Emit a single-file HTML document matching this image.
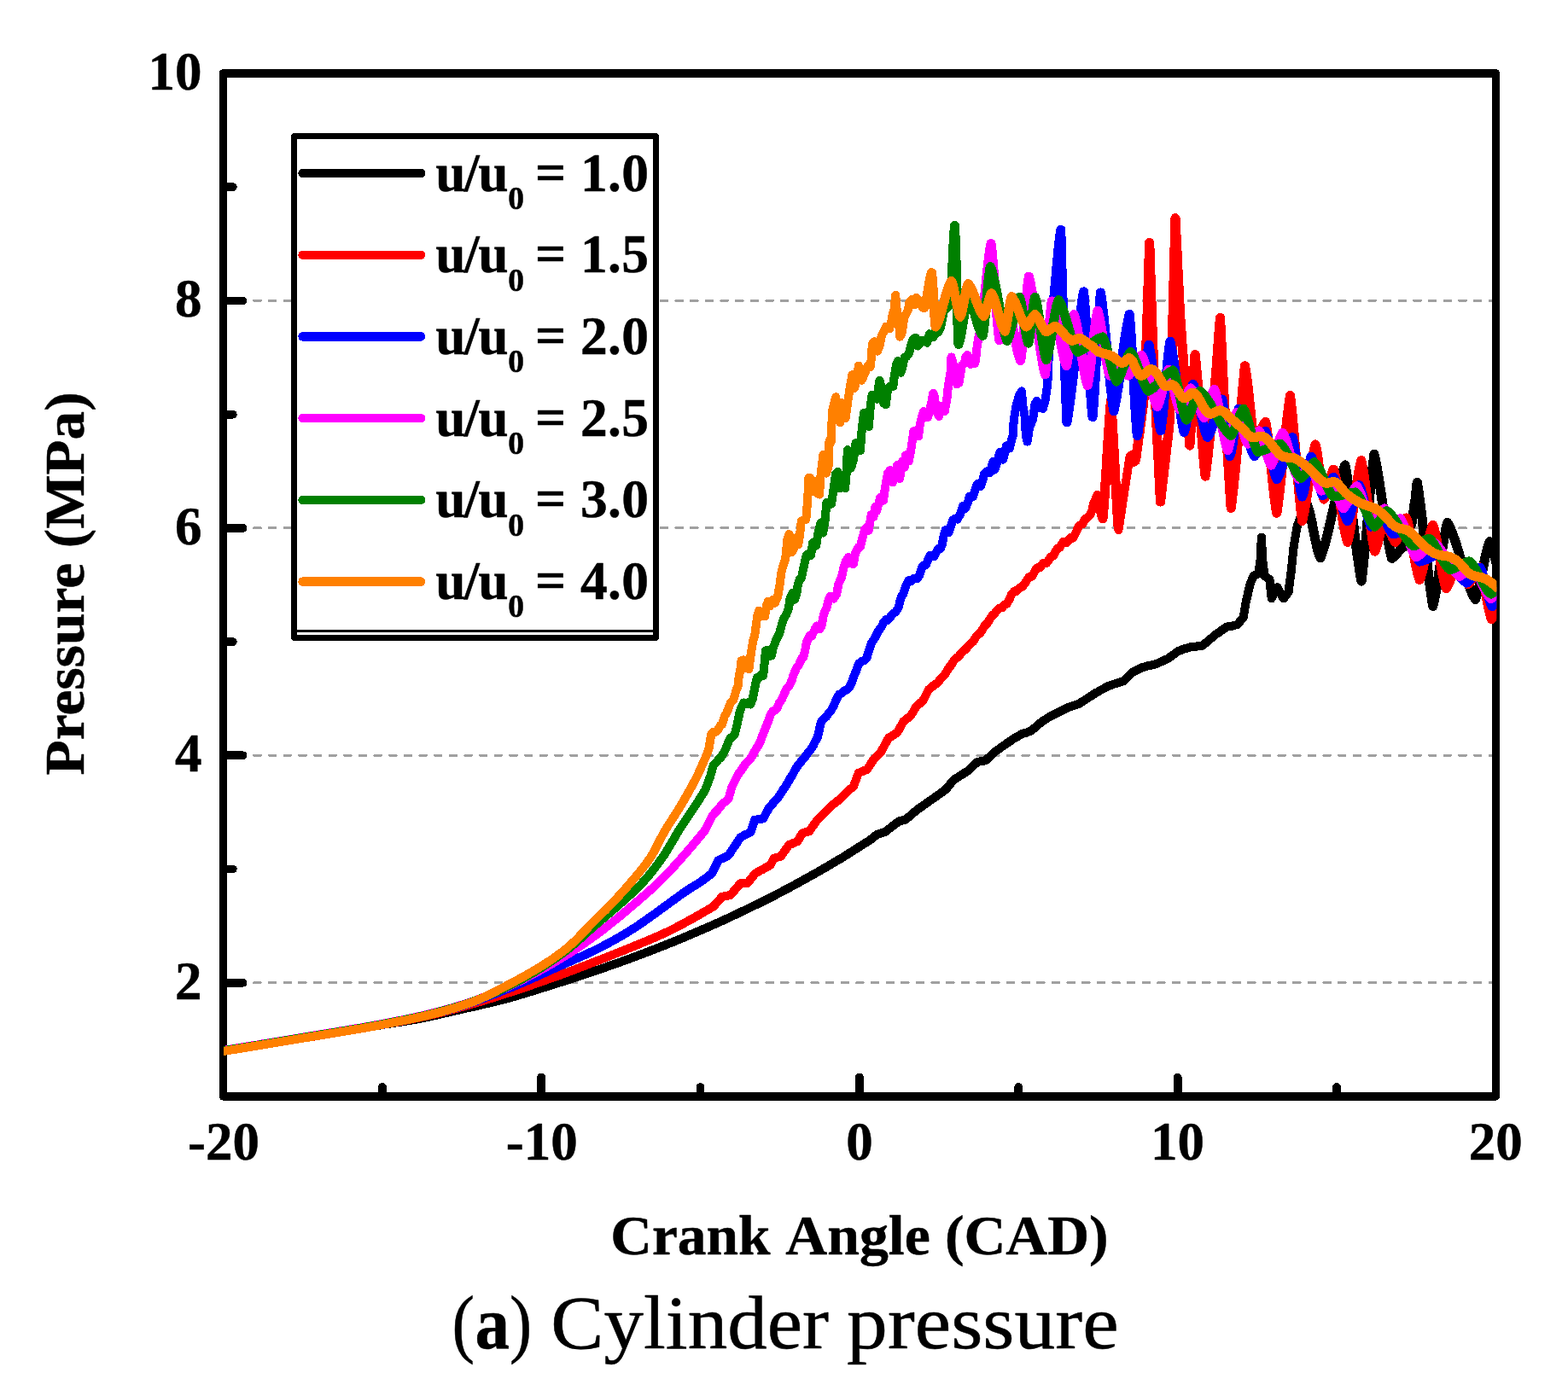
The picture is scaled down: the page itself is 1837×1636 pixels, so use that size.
<!DOCTYPE html>
<html lang="en"><head><meta charset="utf-8"><title>Cylinder pressure</title>
<style>html,body{margin:0;padding:0;background:#fff}body{width:1837px;height:1636px;overflow:hidden}svg{display:block}text{font-family:"Liberation Serif","DejaVu Serif",serif;fill:#000;stroke:#000;stroke-width:0.5px;stroke-linejoin:round}.b{font-weight:bold}.tk{font-size:63px;font-weight:bold}.ax{font-size:66.5px;font-weight:bold}.lg{font-size:63px;font-weight:bold}</style></head><body>
<svg width="1837" height="1636" viewBox="0 0 1837 1636" shape-rendering="crispEdges">
<rect width="1837" height="1636" fill="#fff"/>
<defs><clipPath id="pa"><rect x="262.0" y="86.0" width="1491.2" height="1198.9"/></clipPath></defs>
<g stroke="#a0a0a0" stroke-width="3.2" stroke-dasharray="7.4 10.25" stroke-linecap="round" fill="none">
<line x1="297.8" y1="1151.6" x2="1752.3" y2="1151.6"/>
<line x1="297.8" y1="885.2" x2="1752.3" y2="885.2"/>
<line x1="297.8" y1="618.7" x2="1752.3" y2="618.7"/>
<line x1="297.8" y1="352.3" x2="1752.3" y2="352.3"/>
</g>
<rect x="261.5" y="86.0" width="1490.8" height="1198.9" fill="none" stroke="#000" stroke-width="9.6" stroke-linejoin="round"/>
<g stroke="#000" stroke-width="9.8" stroke-linecap="round" fill="none">
<line x1="261.5" y1="1151.7" x2="284.6" y2="1151.7"/>
<line x1="261.5" y1="885.3" x2="284.6" y2="885.3"/>
<line x1="261.5" y1="618.8" x2="284.6" y2="618.8"/>
<line x1="261.5" y1="352.4" x2="284.6" y2="352.4"/>
<line x1="261.5" y1="1018.5" x2="272.8" y2="1018.5"/>
<line x1="261.5" y1="752.1" x2="272.8" y2="752.1"/>
<line x1="261.5" y1="485.6" x2="272.8" y2="485.6"/>
<line x1="261.5" y1="219.2" x2="272.8" y2="219.2"/>
<line x1="634.2" y1="1284.9" x2="634.2" y2="1262.4"/>
<line x1="1006.9" y1="1284.9" x2="1006.9" y2="1262.4"/>
<line x1="1379.6" y1="1284.9" x2="1379.6" y2="1262.4"/>
<line x1="447.9" y1="1284.9" x2="447.9" y2="1274.0"/>
<line x1="820.5" y1="1284.9" x2="820.5" y2="1274.0"/>
<line x1="1193.2" y1="1284.9" x2="1193.2" y2="1274.0"/>
<line x1="1566.0" y1="1284.9" x2="1566.0" y2="1274.0"/>
</g>
<g clip-path="url(#pa)" fill="none" stroke-width="10.1" stroke-linejoin="round" stroke-linecap="butt" shape-rendering="crispEdges">
<path stroke="#000000" d="M261.5,1232.0 L265.5,1231.3 L269.5,1230.7 L273.6,1230.0 L277.6,1229.4 L281.6,1228.7 L285.6,1228.1 L289.7,1227.4 L293.7,1226.7 L297.7,1226.1 L301.7,1225.4 L305.8,1224.7 L309.8,1224.1 L313.8,1223.4 L317.8,1222.8 L321.9,1222.1 L325.9,1221.4 L329.9,1220.8 L333.9,1220.1 L338.0,1219.4 L342.0,1218.8 L346.0,1218.1 L350.0,1217.4 L354.1,1216.8 L358.1,1216.1 L362.1,1215.4 L366.1,1214.7 L370.2,1214.1 L374.2,1213.4 L378.2,1212.7 L382.2,1212.0 L386.2,1211.3 L390.3,1210.7 L394.3,1210.0 L398.3,1209.3 L402.3,1208.6 L406.4,1207.9 L410.4,1207.3 L414.4,1206.6 L418.4,1205.9 L422.5,1205.2 L426.5,1204.6 L430.5,1203.9 L434.5,1203.2 L438.6,1202.5 L442.6,1201.9 L446.6,1201.2 L450.6,1200.5 L454.7,1199.9 L458.7,1199.3 L462.7,1198.6 L466.7,1198.0 L470.8,1197.4 L474.8,1196.8 L478.8,1196.1 L482.8,1195.4 L486.9,1194.7 L490.9,1194.0 L494.9,1193.2 L498.9,1192.3 L503.0,1191.5 L507.0,1190.6 L511.0,1189.7 L515.0,1188.8 L519.0,1187.9 L523.1,1186.9 L527.1,1186.0 L531.1,1185.1 L535.1,1184.1 L539.2,1183.2 L543.2,1182.3 L547.2,1181.4 L551.2,1180.5 L555.3,1179.6 L559.3,1178.7 L563.3,1177.8 L567.3,1176.8 L571.4,1175.9 L575.4,1174.9 L579.4,1174.0 L583.4,1173.0 L587.5,1172.0 L591.5,1170.9 L595.5,1169.9 L599.5,1168.7 L603.6,1167.6 L607.6,1166.4 L611.6,1165.2 L615.6,1164.0 L619.7,1162.7 L623.7,1161.5 L627.7,1160.2 L631.7,1159.0 L635.8,1157.7 L639.8,1156.5 L643.8,1155.2 L647.8,1154.0 L651.8,1152.7 L655.9,1151.4 L659.9,1150.1 L663.9,1148.8 L667.9,1147.5 L672.0,1146.2 L676.0,1144.9 L680.0,1143.5 L684.0,1142.2 L688.1,1140.9 L692.1,1139.5 L696.1,1138.1 L700.1,1136.8 L704.2,1135.4 L708.2,1134.0 L712.2,1132.6 L716.2,1131.2 L720.3,1129.7 L724.3,1128.3 L728.3,1126.9 L732.3,1125.4 L736.4,1124.0 L740.4,1122.5 L744.4,1121.0 L748.4,1119.5 L752.5,1118.0 L756.5,1116.4 L760.5,1114.9 L764.5,1113.4 L768.5,1111.8 L772.6,1110.2 L776.6,1108.7 L780.6,1107.1 L784.6,1105.4 L788.7,1103.8 L792.7,1102.1 L796.7,1100.5 L800.7,1098.8 L804.8,1097.1 L808.8,1095.4 L812.8,1093.7 L816.8,1092.0 L820.9,1090.2 L824.9,1088.5 L828.9,1086.7 L832.9,1085.0 L837.0,1083.2 L841.0,1081.4 L845.0,1079.6 L849.0,1077.7 L853.1,1075.9 L857.1,1074.0 L861.1,1072.1 L865.1,1070.2 L869.2,1068.3 L873.2,1066.4 L877.2,1064.5 L881.2,1062.5 L885.2,1060.5 L889.3,1058.6 L893.3,1056.6 L897.3,1054.6 L901.3,1052.5 L905.4,1050.5 L909.4,1048.4 L913.4,1046.3 L917.4,1044.2 L921.5,1042.1 L925.5,1039.9 L929.5,1037.8 L933.5,1035.6 L937.6,1033.3 L941.6,1031.1 L945.6,1028.9 L949.6,1026.6 L953.7,1024.4 L957.7,1022.1 L961.7,1019.8 L965.7,1017.5 L969.8,1015.2 L973.8,1012.8 L977.8,1010.4 L981.8,1008.0 L985.9,1005.6 L989.9,1003.1 L993.9,1000.6 L997.9,998.0 L1002.0,995.5 L1006.0,992.9 L1010.0,990.3 L1019.6,984.3 L1021.3,982.9 L1025.0,980.0 L1027.4,978.0 L1031.3,976.7 L1034.3,975.8 L1037.2,974.8 L1039.4,973.0 L1043.6,969.9 L1046.6,967.5 L1049.9,965.0 L1052.9,962.6 L1054.8,962.1 L1059.0,961.1 L1060.7,960.7 L1063.2,958.5 L1065.7,956.5 L1069.8,952.9 L1072.2,950.9 L1074.5,948.9 L1077.5,946.8 L1080.2,945.0 L1084.1,942.2 L1087.6,939.8 L1091.9,936.7 L1094.1,935.2 L1096.5,933.5 L1099.4,931.4 L1102.7,929.1 L1105.5,927.0 L1107.8,925.4 L1110.6,922.2 L1114.0,917.9 L1117.6,913.7 L1120.1,912.2 L1123.9,909.7 L1127.0,907.8 L1130.0,905.9 L1133.3,903.9 L1135.8,901.6 L1139.9,897.7 L1141.7,896.1 L1145.0,893.1 L1148.1,892.4 L1152.8,891.6 L1154.8,891.1 L1157.9,888.2 L1161.3,885.2 L1163.7,882.8 L1166.6,880.3 L1169.7,878.2 L1172.2,876.3 L1176.1,873.7 L1179.4,871.3 L1183.4,868.6 L1186.2,866.6 L1189.7,864.4 L1193.0,862.6 L1196.0,860.7 L1199.2,859.5 L1202.4,858.7 L1204.4,857.8 L1207.7,856.8 L1209.6,855.2 L1213.5,851.8 L1215.5,850.2 L1218.5,847.5 L1221.4,845.1 L1225.0,843.1 L1228.5,840.7 L1231.2,839.2 L1234.4,837.7 L1236.6,836.4 L1240.9,834.4 L1244.6,832.4 L1248.7,830.6 L1250.8,829.4 L1252.5,828.7 L1256.4,827.5 L1258.8,826.4 L1261.7,825.6 L1264.5,824.5 L1267.8,822.3 L1270.8,820.6 L1275.1,817.5 L1277.3,816.4 L1282.2,813.0 L1284.1,811.8 L1286.5,810.7 L1290.4,808.2 L1293.4,806.9 L1296.5,804.9 L1298.9,803.7 L1300.6,803.3 L1305.0,801.6 L1307.0,801.2 L1310.3,799.9 L1313.4,799.1 L1316.6,797.9 L1319.9,794.4 L1322.7,791.9 L1326.4,788.1 L1329.1,786.5 L1333.1,784.9 L1334.8,783.6 L1338.1,782.2 L1341.5,781.5 L1344.7,780.3 L1347.9,780.0 L1350.4,779.0 L1353.8,778.3 L1355.7,777.6 L1359.8,775.6 L1362.4,774.7 L1365.0,773.3 L1367.5,772.4 L1369.3,771.3 L1372.9,768.4 L1376.2,766.3 L1378.4,764.4 L1381.2,762.6 L1383.5,762.0 L1387.8,760.1 L1389.8,760.0 L1393.0,758.7 L1395.2,758.2 L1398.7,758.2 L1403.3,757.2 L1406.3,757.3 L1408.7,756.7 L1411.4,754.3 L1414.4,752.2 L1417.2,749.2 L1420.4,747.0 L1422.4,745.0 L1424.9,743.0 L1428.4,741.0 L1430.7,738.8 L1433.1,737.7 L1436.1,735.2 L1439.5,734.1 L1443.2,733.8 L1446.1,732.7 L1449.3,732.2 L1451.7,729.6 L1455.1,725.1 L1456.7,723.4 L1459.6,705.8 L1461.7,696.9 L1464.0,686.7 L1466.5,679.6 L1468.4,675.0 L1471.6,673.7 L1474.3,672.0 L1476.5,657.4 L1477.3,640.6 L1477.9,629.8 L1478.8,647.2 L1479.4,657.4 L1481.6,675.0 L1484.1,676.5 L1487.5,679.4 L1488.7,691.7 L1489.7,701.4 L1493.8,692.9 L1496.3,688.2 L1499.1,693.7 L1500.8,696.0 L1503.6,701.4 L1506.2,698.6 L1509.5,694.0 L1511.0,682.3 L1512.4,672.0 L1514.3,653.8 L1515.4,642.7 L1517.7,628.4 L1519.8,616.3 L1521.8,611.1 L1525.6,598.7 L1526.3,597.9 L1527.1,596.6 L1527.8,595.1 L1528.6,593.5 L1529.3,592.0 L1530.1,590.7 L1530.8,589.9 L1531.5,591.5 L1532.2,593.3 L1532.9,595.4 L1533.6,597.8 L1534.3,600.5 L1535.0,603.4 L1535.7,606.4 L1536.4,609.7 L1537.1,613.0 L1537.8,616.5 L1538.5,620.0 L1539.2,623.6 L1539.9,627.1 L1540.6,630.6 L1541.3,633.9 L1542.0,637.2 L1542.7,640.2 L1543.4,643.1 L1544.1,645.8 L1544.8,648.2 L1545.5,650.3 L1546.2,652.1 L1546.9,653.7 L1547.6,651.9 L1548.3,650.0 L1549.0,648.0 L1549.7,645.9 L1550.4,643.7 L1551.1,641.4 L1551.9,638.9 L1552.6,636.4 L1553.3,633.8 L1554.0,631.1 L1554.7,628.4 L1555.4,625.5 L1556.1,622.6 L1556.8,619.6 L1557.5,616.6 L1558.2,613.5 L1558.9,610.4 L1559.6,607.3 L1560.3,604.1 L1561.0,600.9 L1561.8,597.8 L1562.5,594.6 L1563.2,591.4 L1563.9,588.3 L1564.6,585.2 L1565.3,582.1 L1566.0,579.1 L1566.7,576.1 L1567.4,573.2 L1568.1,570.3 L1568.8,567.6 L1569.5,564.9 L1570.2,562.3 L1570.9,559.8 L1571.7,557.3 L1572.4,555.0 L1573.1,552.8 L1573.8,550.7 L1574.5,548.7 L1575.2,546.8 L1575.9,545.0 L1576.6,548.8 L1577.3,552.9 L1578.0,557.2 L1578.7,561.7 L1579.4,566.5 L1580.1,571.4 L1580.9,576.6 L1581.6,581.9 L1582.3,587.3 L1583.0,592.9 L1583.7,598.6 L1584.4,604.3 L1585.1,610.1 L1585.8,615.9 L1586.5,621.7 L1587.2,627.4 L1587.9,633.1 L1588.6,638.7 L1589.3,644.1 L1590.0,649.4 L1590.8,654.6 L1591.5,659.5 L1592.2,664.3 L1592.9,668.8 L1593.6,673.1 L1594.3,677.2 L1595.0,681.0 L1595.7,675.3 L1596.4,669.3 L1597.1,662.9 L1597.8,656.2 L1598.5,649.1 L1599.3,641.8 L1600.0,634.3 L1600.7,626.6 L1601.4,618.7 L1602.1,610.7 L1602.8,602.8 L1603.5,594.8 L1604.2,586.9 L1604.9,579.2 L1605.6,571.7 L1606.4,564.4 L1607.1,557.3 L1607.8,550.6 L1608.5,544.2 L1609.2,538.2 L1609.9,532.5 L1610.6,535.5 L1611.3,538.8 L1612.0,542.2 L1612.7,545.9 L1613.5,549.7 L1614.2,553.8 L1614.9,558.0 L1615.6,562.4 L1616.3,566.9 L1617.0,571.5 L1617.7,576.3 L1618.4,581.1 L1619.1,586.0 L1619.8,590.9 L1620.6,595.9 L1621.3,600.8 L1622.0,605.7 L1622.7,610.5 L1623.4,615.3 L1624.1,619.9 L1624.8,624.4 L1625.5,628.8 L1626.2,633.0 L1626.9,637.1 L1627.7,640.9 L1628.4,644.6 L1629.1,648.0 L1629.8,651.3 L1630.5,654.3 L1631.2,653.9 L1631.9,653.5 L1632.6,652.9 L1633.3,652.3 L1634.0,651.6 L1634.8,650.9 L1635.5,650.1 L1636.2,649.3 L1636.9,648.5 L1637.6,647.6 L1638.3,646.7 L1639.0,645.9 L1639.7,645.1 L1640.4,644.3 L1641.2,643.6 L1641.9,642.9 L1642.6,642.3 L1643.3,641.7 L1644.0,641.3 L1644.7,640.9 L1645.4,639.7 L1646.1,638.1 L1646.8,636.1 L1647.5,633.9 L1648.2,631.4 L1648.9,628.8 L1649.7,626.1 L1650.4,623.5 L1651.1,621.0 L1651.8,618.8 L1652.5,616.8 L1653.2,615.2 L1653.9,614.0 L1654.5,611.0 L1655.1,606.5 L1655.8,601.2 L1656.4,595.9 L1657.0,591.4 L1657.6,588.4 L1658.0,585.7 L1658.5,581.7 L1658.9,576.9 L1659.4,572.1 L1659.8,568.1 L1660.3,565.4 L1661.0,569.8 L1661.7,574.4 L1662.4,579.3 L1663.1,584.4 L1663.8,589.7 L1664.5,595.2 L1665.3,601.0 L1666.0,606.8 L1666.7,612.9 L1667.4,619.0 L1668.1,625.2 L1668.8,631.5 L1669.5,637.8 L1670.2,644.2 L1670.9,650.5 L1671.6,656.7 L1672.3,662.8 L1673.0,668.9 L1673.7,674.7 L1674.5,680.5 L1675.2,686.0 L1675.9,691.3 L1676.6,696.4 L1677.3,701.3 L1678.0,705.9 L1678.7,710.3 L1679.4,707.6 L1680.1,704.6 L1680.8,701.3 L1681.5,697.7 L1682.2,693.9 L1683.0,689.7 L1683.7,685.4 L1684.4,680.8 L1685.1,676.1 L1685.8,671.3 L1686.5,666.4 L1687.2,661.4 L1687.9,656.4 L1688.6,651.5 L1689.3,646.7 L1690.0,642.0 L1690.7,637.4 L1691.5,633.1 L1692.2,628.9 L1692.9,625.1 L1693.6,621.5 L1694.3,618.2 L1695.0,615.2 L1695.7,612.5 L1696.4,613.7 L1697.1,615.0 L1697.8,616.4 L1698.5,617.8 L1699.3,619.4 L1700.0,621.0 L1700.7,622.7 L1701.4,624.5 L1702.1,626.3 L1702.8,628.2 L1703.5,630.2 L1704.2,632.2 L1704.9,634.3 L1705.7,636.5 L1706.4,638.7 L1707.1,641.0 L1707.8,643.2 L1708.5,645.6 L1709.2,647.9 L1709.9,650.3 L1710.6,652.7 L1711.3,655.1 L1712.1,657.5 L1712.8,659.9 L1713.5,662.3 L1714.2,664.7 L1714.9,667.1 L1715.6,669.4 L1716.3,671.8 L1717.0,674.0 L1717.7,676.3 L1718.4,678.5 L1719.2,680.7 L1719.9,682.8 L1720.6,684.8 L1721.3,686.8 L1722.0,688.7 L1722.7,690.5 L1723.4,692.3 L1724.1,694.0 L1724.8,695.6 L1725.6,697.2 L1726.3,698.6 L1727.0,700.0 L1727.7,701.3 L1728.4,702.5 L1729.1,700.9 L1729.8,699.0 L1730.5,696.8 L1731.2,694.4 L1731.9,691.8 L1732.7,688.9 L1733.4,685.8 L1734.1,682.6 L1734.8,679.2 L1735.5,675.7 L1736.2,672.2 L1736.9,668.6 L1737.6,665.0 L1738.3,661.5 L1739.0,658.0 L1739.7,654.6 L1740.4,651.4 L1741.2,648.3 L1741.9,645.4 L1742.6,642.8 L1743.3,640.4 L1744.0,638.2 L1744.7,636.3 L1745.4,634.7 L1746.1,636.0 L1746.8,637.6 L1747.5,639.6 L1748.2,641.9 L1748.9,644.4 L1749.6,647.1 L1750.3,649.9 L1751.1,652.8 L1751.8,655.6 L1752.5,658.3 L1753.2,660.8 L1753.9,663.1 L1754.6,665.1 L1755.3,666.7 L1756.0,668.0"/>
<path stroke="#000000" stroke-width="11.2" d="M1525.6,598.7 L1526.3,597.9 L1527.1,596.6 L1527.8,595.1 L1528.6,593.5 L1529.3,592.0 L1530.1,590.7 L1530.8,589.9 L1531.5,591.5 L1532.2,593.3 L1532.9,595.4 L1533.6,597.8 L1534.3,600.5 L1535.0,603.4 L1535.7,606.4 L1536.4,609.7 L1537.1,613.0 L1537.8,616.5 L1538.5,620.0 L1539.2,623.6 L1539.9,627.1 L1540.6,630.6 L1541.3,633.9 L1542.0,637.2 L1542.7,640.2 L1543.4,643.1 L1544.1,645.8 L1544.8,648.2 L1545.5,650.3 L1546.2,652.1 L1546.9,653.7 L1547.6,651.9 L1548.3,650.0 L1549.0,648.0 L1549.7,645.9 L1550.4,643.7 L1551.1,641.4 L1551.9,638.9 L1552.6,636.4 L1553.3,633.8 L1554.0,631.1 L1554.7,628.4 L1555.4,625.5 L1556.1,622.6 L1556.8,619.6 L1557.5,616.6 L1558.2,613.5 L1558.9,610.4 L1559.6,607.3 L1560.3,604.1 L1561.0,600.9 L1561.8,597.8 L1562.5,594.6 L1563.2,591.4 L1563.9,588.3 L1564.6,585.2 L1565.3,582.1 L1566.0,579.1 L1566.7,576.1 L1567.4,573.2 L1568.1,570.3 L1568.8,567.6 L1569.5,564.9 L1570.2,562.3 L1570.9,559.8 L1571.7,557.3 L1572.4,555.0 L1573.1,552.8 L1573.8,550.7 L1574.5,548.7 L1575.2,546.8 L1575.9,545.0 L1576.6,548.8 L1577.3,552.9 L1578.0,557.2 L1578.7,561.7 L1579.4,566.5 L1580.1,571.4 L1580.9,576.6 L1581.6,581.9 L1582.3,587.3 L1583.0,592.9 L1583.7,598.6 L1584.4,604.3 L1585.1,610.1 L1585.8,615.9 L1586.5,621.7 L1587.2,627.4 L1587.9,633.1 L1588.6,638.7 L1589.3,644.1 L1590.0,649.4 L1590.8,654.6 L1591.5,659.5 L1592.2,664.3 L1592.9,668.8 L1593.6,673.1 L1594.3,677.2 L1595.0,681.0 L1595.7,675.3 L1596.4,669.3 L1597.1,662.9 L1597.8,656.2 L1598.5,649.1 L1599.3,641.8 L1600.0,634.3 L1600.7,626.6 L1601.4,618.7 L1602.1,610.7 L1602.8,602.8 L1603.5,594.8 L1604.2,586.9 L1604.9,579.2 L1605.6,571.7 L1606.4,564.4 L1607.1,557.3 L1607.8,550.6 L1608.5,544.2 L1609.2,538.2 L1609.9,532.5 L1610.6,535.5 L1611.3,538.8 L1612.0,542.2 L1612.7,545.9 L1613.5,549.7 L1614.2,553.8 L1614.9,558.0 L1615.6,562.4 L1616.3,566.9 L1617.0,571.5 L1617.7,576.3 L1618.4,581.1 L1619.1,586.0 L1619.8,590.9 L1620.6,595.9 L1621.3,600.8 L1622.0,605.7 L1622.7,610.5 L1623.4,615.3 L1624.1,619.9 L1624.8,624.4 L1625.5,628.8 L1626.2,633.0 L1626.9,637.1 L1627.7,640.9 L1628.4,644.6 L1629.1,648.0 L1629.8,651.3 L1630.5,654.3 L1631.2,653.9 L1631.9,653.5 L1632.6,652.9 L1633.3,652.3 L1634.0,651.6 L1634.8,650.9 L1635.5,650.1 L1636.2,649.3 L1636.9,648.5 L1637.6,647.6 L1638.3,646.7 L1639.0,645.9 L1639.7,645.1 L1640.4,644.3 L1641.2,643.6 L1641.9,642.9 L1642.6,642.3 L1643.3,641.7 L1644.0,641.3 L1644.7,640.9 L1645.4,639.7 L1646.1,638.1 L1646.8,636.1 L1647.5,633.9 L1648.2,631.4 L1648.9,628.8 L1649.7,626.1 L1650.4,623.5 L1651.1,621.0 L1651.8,618.8 L1652.5,616.8 L1653.2,615.2 L1653.9,614.0 L1654.5,611.0 L1655.1,606.5 L1655.8,601.2 L1656.4,595.9 L1657.0,591.4 L1657.6,588.4 L1658.0,585.7 L1658.5,581.7 L1658.9,576.9 L1659.4,572.1 L1659.8,568.1 L1660.3,565.4 L1661.0,569.8 L1661.7,574.4 L1662.4,579.3 L1663.1,584.4 L1663.8,589.7 L1664.5,595.2 L1665.3,601.0 L1666.0,606.8 L1666.7,612.9 L1667.4,619.0 L1668.1,625.2 L1668.8,631.5 L1669.5,637.8 L1670.2,644.2 L1670.9,650.5 L1671.6,656.7 L1672.3,662.8 L1673.0,668.9 L1673.7,674.7 L1674.5,680.5 L1675.2,686.0 L1675.9,691.3 L1676.6,696.4 L1677.3,701.3 L1678.0,705.9 L1678.7,710.3 L1679.4,707.6 L1680.1,704.6 L1680.8,701.3 L1681.5,697.7 L1682.2,693.9 L1683.0,689.7 L1683.7,685.4 L1684.4,680.8 L1685.1,676.1 L1685.8,671.3 L1686.5,666.4 L1687.2,661.4 L1687.9,656.4 L1688.6,651.5 L1689.3,646.7 L1690.0,642.0 L1690.7,637.4 L1691.5,633.1 L1692.2,628.9 L1692.9,625.1 L1693.6,621.5 L1694.3,618.2 L1695.0,615.2 L1695.7,612.5 L1696.4,613.7 L1697.1,615.0 L1697.8,616.4 L1698.5,617.8 L1699.3,619.4 L1700.0,621.0 L1700.7,622.7 L1701.4,624.5 L1702.1,626.3 L1702.8,628.2 L1703.5,630.2 L1704.2,632.2 L1704.9,634.3 L1705.7,636.5 L1706.4,638.7 L1707.1,641.0 L1707.8,643.2 L1708.5,645.6 L1709.2,647.9 L1709.9,650.3 L1710.6,652.7 L1711.3,655.1 L1712.1,657.5 L1712.8,659.9 L1713.5,662.3 L1714.2,664.7 L1714.9,667.1 L1715.6,669.4 L1716.3,671.8 L1717.0,674.0 L1717.7,676.3 L1718.4,678.5 L1719.2,680.7 L1719.9,682.8 L1720.6,684.8 L1721.3,686.8 L1722.0,688.7 L1722.7,690.5 L1723.4,692.3 L1724.1,694.0 L1724.8,695.6 L1725.6,697.2 L1726.3,698.6 L1727.0,700.0 L1727.7,701.3 L1728.4,702.5 L1729.1,700.9 L1729.8,699.0 L1730.5,696.8 L1731.2,694.4 L1731.9,691.8 L1732.7,688.9 L1733.4,685.8 L1734.1,682.6 L1734.8,679.2 L1735.5,675.7 L1736.2,672.2 L1736.9,668.6 L1737.6,665.0 L1738.3,661.5 L1739.0,658.0 L1739.7,654.6 L1740.4,651.4 L1741.2,648.3 L1741.9,645.4 L1742.6,642.8 L1743.3,640.4 L1744.0,638.2 L1744.7,636.3 L1745.4,634.7 L1746.1,636.0 L1746.8,637.6 L1747.5,639.6 L1748.2,641.9 L1748.9,644.4 L1749.6,647.1 L1750.3,649.9 L1751.1,652.8 L1751.8,655.6 L1752.5,658.3 L1753.2,660.8 L1753.9,663.1 L1754.6,665.1 L1755.3,666.7 L1756.0,668.0"/>
<path stroke="#ff0000" d="M261.5,1232.0 L265.5,1231.3 L269.6,1230.7 L273.6,1230.0 L277.7,1229.4 L281.7,1228.7 L285.8,1228.0 L289.8,1227.4 L293.9,1226.7 L297.9,1226.1 L302.0,1225.4 L306.0,1224.7 L310.1,1224.1 L314.1,1223.4 L318.2,1222.7 L322.2,1222.1 L326.3,1221.4 L330.3,1220.7 L334.3,1220.0 L338.4,1219.4 L342.4,1218.7 L346.5,1218.0 L350.5,1217.3 L354.6,1216.7 L358.6,1216.0 L362.7,1215.3 L366.7,1214.7 L370.8,1214.0 L374.8,1213.3 L378.9,1212.7 L382.9,1212.0 L387.0,1211.3 L391.0,1210.6 L395.1,1210.0 L399.1,1209.3 L403.2,1208.6 L407.2,1207.9 L411.2,1207.3 L415.3,1206.6 L419.3,1205.9 L423.4,1205.2 L427.4,1204.5 L431.5,1203.8 L435.5,1203.1 L439.6,1202.3 L443.6,1201.6 L447.7,1200.9 L451.7,1200.1 L455.8,1199.4 L459.8,1198.6 L463.9,1197.9 L467.9,1197.1 L472.0,1196.4 L476.0,1195.6 L480.0,1194.8 L484.1,1194.0 L488.1,1193.1 L492.2,1192.3 L496.2,1191.4 L500.3,1190.5 L504.3,1189.6 L508.4,1188.6 L512.4,1187.7 L516.5,1186.6 L520.5,1185.6 L524.6,1184.5 L528.6,1183.4 L532.7,1182.4 L536.7,1181.3 L540.8,1180.1 L544.8,1179.0 L548.9,1177.8 L552.9,1176.7 L556.9,1175.5 L561.0,1174.3 L565.0,1173.1 L569.1,1171.8 L573.1,1170.6 L577.2,1169.4 L581.2,1168.1 L585.3,1166.8 L589.3,1165.5 L593.4,1164.2 L597.4,1162.9 L601.5,1161.6 L605.5,1160.3 L609.6,1159.0 L613.6,1157.6 L617.7,1156.2 L621.7,1154.8 L625.7,1153.4 L629.8,1152.0 L633.8,1150.6 L637.9,1149.2 L641.9,1147.7 L646.0,1146.3 L650.0,1144.8 L654.1,1143.4 L658.1,1141.9 L662.2,1140.4 L666.2,1138.9 L670.3,1137.4 L674.3,1135.9 L678.4,1134.3 L682.4,1132.7 L686.5,1131.2 L690.5,1129.6 L694.5,1128.0 L698.6,1126.4 L702.6,1124.9 L706.7,1123.3 L710.7,1121.7 L714.8,1120.1 L718.8,1118.5 L722.9,1116.9 L726.9,1115.3 L731.0,1113.7 L735.0,1112.0 L739.1,1110.4 L743.1,1108.7 L747.2,1107.1 L751.2,1105.4 L755.3,1103.7 L759.3,1102.0 L763.4,1100.3 L767.4,1098.6 L771.4,1096.8 L775.5,1095.0 L779.5,1093.1 L783.6,1091.2 L787.6,1089.2 L791.7,1087.1 L795.7,1085.0 L799.8,1082.8 L803.8,1080.6 L807.9,1078.4 L811.9,1076.2 L816.0,1073.9 L820.0,1071.6 L824.1,1069.2 L828.1,1066.9 L832.2,1064.4 L836.2,1062.0 L846.0,1050.8 L849.1,1050.1 L853.1,1049.5 L855.8,1048.9 L859.1,1045.0 L860.9,1043.0 L864.8,1038.3 L867.5,1035.2 L870.5,1035.3 L873.6,1035.1 L875.4,1035.2 L878.0,1032.1 L881.8,1027.4 L885.2,1023.4 L887.4,1022.2 L890.5,1020.3 L893.5,1018.9 L896.6,1016.9 L900.4,1015.0 L902.8,1013.6 L905.3,1008.5 L906.7,1005.8 L909.4,1005.2 L911.6,1004.5 L914.6,1003.8 L916.9,1000.7 L920.6,995.4 L924.4,990.1 L928.2,988.6 L931.2,987.3 L934.1,986.2 L936.5,982.4 L940.0,976.4 L943.1,975.5 L944.7,975.3 L947.9,974.4 L950.0,971.4 L954.8,964.8 L957.7,960.7 L960.9,957.4 L963.6,954.9 L967.9,950.3 L971.1,947.3 L973.3,945.0 L975.8,942.9 L980.2,939.7 L983.1,937.2 L985.5,934.7 L989.7,930.7 L992.9,927.4 L994.6,925.9 L997.3,923.8 L1000.0,921.5 L1003.8,911.3 L1005.9,905.8 L1009.6,904.4 L1011.9,903.3 L1015.7,901.9 L1017.3,899.6 L1020.4,894.7 L1023.5,890.1 L1025.3,888.4 L1029.7,883.8 L1031.4,882.3 L1034.6,876.7 L1037.5,871.1 L1041.2,864.7 L1045.0,862.6 L1048.2,860.3 L1051.0,858.8 L1053.7,854.2 L1056.5,848.9 L1058.8,845.1 L1061.5,843.2 L1064.8,840.4 L1066.6,839.2 L1070.2,833.6 L1072.5,829.4 L1074.8,826.8 L1080.0,822.3 L1082.3,819.6 L1086.2,811.6 L1088.2,807.8 L1090.1,806.6 L1093.7,803.4 L1096.0,802.0 L1098.6,799.7 L1102.4,795.2 L1105.7,792.0 L1108.2,788.6 L1111.5,782.7 L1114.4,779.4 L1117.5,774.3 L1120.1,771.3 L1122.9,769.6 L1125.3,766.5 L1127.6,763.6 L1131.8,760.5 L1135.4,755.8 L1137.1,754.7 L1140.0,751.9 L1143.8,745.9 L1146.9,743.0 L1149.2,740.7 L1153.4,733.5 L1156.9,730.3 L1159.8,725.4 L1162.6,721.1 L1165.0,719.5 L1167.6,715.6 L1170.9,712.8 L1174.2,712.2 L1176.4,709.0 L1179.4,707.7 L1182.5,702.6 L1185.3,696.0 L1188.6,692.5 L1190.8,693.0 L1194.5,688.8 L1197.0,688.1 L1200.3,684.5 L1202.9,680.3 L1205.5,676.3 L1209.0,675.6 L1210.7,672.4 L1214.5,665.8 L1216.6,664.6 L1218.4,665.0 L1222.1,659.9 L1225.8,660.2 L1228.4,656.8 L1230.9,652.5 L1233.7,651.9 L1236.2,647.0 L1239.1,642.4 L1241.3,641.9 L1244.1,637.2 L1246.1,634.6 L1249.5,636.1 L1254.0,630.2 L1255.8,631.3 L1258.0,629.0 L1261.7,621.5 L1263.7,616.5 L1265.9,615.0 L1268.1,614.3 L1271.1,608.3 L1273.7,607.1 L1277.4,603.4 L1279.6,597.4 L1281.2,589.6 L1283.0,586.1 L1285.5,580.0 L1286.2,581.9 L1286.9,584.7 L1287.7,588.0 L1288.4,591.8 L1289.1,595.8 L1289.8,599.6 L1290.6,602.9 L1291.3,605.7 L1292.0,607.6 L1292.7,599.2 L1293.5,589.9 L1294.2,579.6 L1294.9,568.5 L1295.7,556.9 L1296.4,544.9 L1297.1,532.7 L1297.8,520.7 L1298.6,509.1 L1299.3,498.0 L1300.0,487.7 L1300.8,478.4 L1301.5,470.0 L1302.2,480.5 L1303.0,492.0 L1303.7,504.5 L1304.5,517.8 L1305.2,531.7 L1306.0,545.8 L1306.7,559.9 L1307.4,573.7 L1308.2,586.9 L1308.9,599.4 L1309.7,610.9 L1310.4,621.3 L1323.6,534.8 L1325.7,533.4 L1328.2,541.7 L1330.4,540.6 L1331.1,535.3 L1331.8,530.0 L1332.5,524.8 L1333.2,519.5 L1333.9,514.2 L1334.7,508.9 L1335.4,503.7 L1336.1,498.4 L1336.8,493.1 L1337.5,487.8 L1338.2,482.6 L1338.9,477.3 L1339.6,472.0 L1340.3,464.4 L1341.0,453.0 L1341.7,437.9 L1342.4,419.1 L1343.2,397.0 L1343.9,374.5 L1344.6,352.0 L1345.3,329.5 L1346.0,307.0 L1346.7,284.5 L1347.4,306.3 L1348.1,328.1 L1348.8,350.0 L1349.5,371.8 L1350.3,393.1 L1351.0,412.5 L1351.7,429.7 L1352.4,444.9 L1353.1,459.2 L1353.8,473.5 L1354.5,487.9 L1355.2,502.2 L1355.9,516.5 L1356.7,530.8 L1357.4,545.1 L1358.1,559.4 L1358.8,573.7 L1359.5,588.0 L1360.2,582.0 L1360.9,575.9 L1361.6,569.9 L1362.3,563.8 L1363.0,557.8 L1363.7,551.8 L1364.4,545.7 L1365.1,539.7 L1365.8,533.6 L1366.5,527.6 L1367.2,521.6 L1367.9,515.5 L1368.6,509.5 L1369.3,503.4 L1370.0,495.3 L1370.7,482.8 L1371.4,466.1 L1372.1,445.2 L1372.8,419.9 L1373.5,392.6 L1374.2,365.2 L1374.9,337.9 L1375.6,310.5 L1376.3,283.2 L1377.0,255.8 L1377.7,270.8 L1378.5,285.8 L1379.2,300.7 L1379.9,315.7 L1380.7,330.7 L1381.4,345.5 L1382.1,359.4 L1382.8,372.2 L1383.6,383.8 L1384.3,394.3 L1385.0,404.2 L1385.8,414.0 L1386.5,423.8 L1387.2,433.6 L1388.0,443.4 L1388.7,453.3 L1389.4,463.1 L1390.1,472.9 L1390.9,482.7 L1391.6,492.5 L1392.3,502.4 L1393.1,512.2 L1393.8,522.0 L1394.6,512.0 L1395.4,499.3 L1396.2,484.6 L1396.9,468.9 L1397.7,453.1 L1398.5,438.4 L1399.3,425.7 L1400.1,415.7 L1400.8,422.3 L1401.5,429.5 L1402.2,437.3 L1402.9,445.5 L1403.6,454.2 L1404.3,463.3 L1405.0,472.6 L1405.7,482.1 L1406.5,491.6 L1407.2,501.1 L1407.9,510.4 L1408.6,519.5 L1409.3,528.2 L1410.0,536.4 L1410.7,544.2 L1411.4,551.4 L1412.1,558.0 L1412.8,552.4 L1413.5,546.6 L1414.3,540.6 L1415.0,534.4 L1415.7,528.0 L1416.4,521.4 L1417.2,514.6 L1417.9,507.7 L1418.6,500.7 L1419.3,493.6 L1420.1,486.4 L1420.8,479.3 L1421.5,472.1 L1422.2,464.8 L1423.0,457.0 L1423.7,448.5 L1424.4,439.4 L1425.2,429.8 L1425.9,419.7 L1426.6,409.9 L1427.3,400.3 L1428.0,390.8 L1428.8,381.6 L1429.5,372.6 L1430.2,386.6 L1430.9,400.8 L1431.6,415.2 L1432.3,429.7 L1433.0,444.2 L1433.7,457.9 L1434.4,470.8 L1435.1,482.8 L1435.8,494.4 L1436.6,506.1 L1437.3,517.6 L1438.0,529.2 L1438.7,540.6 L1439.4,551.9 L1440.1,563.0 L1440.8,574.0 L1441.5,584.7 L1442.2,595.3 L1442.9,589.7 L1443.6,583.9 L1444.3,577.8 L1445.0,571.4 L1445.7,564.7 L1446.5,557.9 L1447.2,550.8 L1447.9,543.6 L1448.6,536.3 L1449.3,528.9 L1450.0,521.4 L1450.7,513.9 L1451.4,506.4 L1452.1,498.7 L1452.8,490.9 L1453.5,482.9 L1454.2,474.7 L1455.0,466.5 L1455.7,458.4 L1456.4,450.6 L1457.1,443.1 L1457.8,435.8 L1458.5,428.8 L1459.2,432.6 L1459.9,437.0 L1460.7,442.1 L1461.4,447.8 L1462.1,454.0 L1462.8,460.6 L1463.5,467.4 L1464.2,474.4 L1465.0,481.4 L1465.7,488.2 L1466.4,494.8 L1467.1,501.0 L1467.8,506.7 L1468.6,511.8 L1469.3,516.2 L1470.0,520.0 L1470.7,519.2 L1471.4,518.2 L1472.1,517.0 L1472.8,515.7 L1473.5,514.2 L1474.2,512.5 L1474.9,510.8 L1475.6,509.0 L1476.3,507.2 L1477.1,505.4 L1477.8,503.6 L1478.5,501.9 L1479.2,500.2 L1479.9,498.7 L1480.6,497.4 L1481.3,496.2 L1482.0,495.2 L1482.7,494.4 L1483.4,498.5 L1484.2,503.2 L1484.9,508.4 L1485.6,514.1 L1486.3,520.3 L1487.1,526.8 L1487.8,533.6 L1488.5,540.6 L1489.2,547.8 L1490.0,554.9 L1490.7,561.9 L1491.4,568.7 L1492.2,575.2 L1492.9,581.4 L1493.6,587.1 L1494.3,592.3 L1495.1,597.0 L1495.8,601.1 L1496.5,596.3 L1497.2,591.1 L1497.9,585.6 L1498.7,579.8 L1499.4,573.6 L1500.1,567.2 L1500.8,560.5 L1501.5,553.7 L1502.2,546.7 L1502.9,539.6 L1503.7,532.4 L1504.4,525.2 L1505.1,518.1 L1505.8,511.1 L1506.5,504.3 L1507.2,497.6 L1507.9,491.2 L1508.6,485.0 L1509.4,479.2 L1510.1,473.7 L1510.8,468.5 L1511.5,463.7 L1512.2,469.6 L1512.9,475.8 L1513.6,482.5 L1514.3,489.5 L1515.0,496.9 L1515.7,504.6 L1516.4,512.5 L1517.1,520.6 L1517.8,528.8 L1518.5,537.1 L1519.2,545.4 L1519.9,553.6 L1520.6,561.7 L1521.3,569.6 L1522.0,577.3 L1522.7,584.7 L1523.4,591.7 L1524.1,598.4 L1524.8,604.6 L1525.5,610.5 L1526.2,607.9 L1526.9,604.9 L1527.6,601.6 L1528.3,598.0 L1529.0,594.0 L1529.8,589.8 L1530.5,585.3 L1531.2,580.6 L1531.9,575.7 L1532.6,570.8 L1533.3,565.8 L1534.0,560.7 L1534.7,555.8 L1535.4,550.9 L1536.1,546.2 L1536.8,541.7 L1537.6,537.5 L1538.3,533.5 L1539.0,529.9 L1539.7,526.6 L1540.4,523.6 L1541.1,521.0 L1541.8,523.7 L1542.5,527.2 L1543.2,531.4 L1543.9,536.2 L1544.6,541.5 L1545.3,547.2 L1546.0,553.0 L1546.8,558.8 L1547.5,564.5 L1548.2,569.8 L1548.9,574.6 L1549.6,578.8 L1550.3,582.3 L1551.0,585.0 L1551.7,583.7 L1552.4,582.2 L1553.1,580.3 L1553.8,578.1 L1554.6,575.7 L1555.3,573.1 L1556.0,570.4 L1556.7,567.6 L1557.4,564.8 L1558.1,562.1 L1558.8,559.5 L1559.6,557.1 L1560.3,554.9 L1561.0,553.0 L1561.7,551.5 L1562.4,550.2 L1563.1,552.5 L1563.8,555.1 L1564.5,558.1 L1565.2,561.4 L1565.9,564.9 L1566.7,568.7 L1567.4,572.8 L1568.1,577.0 L1568.8,581.4 L1569.5,585.9 L1570.2,590.5 L1570.9,595.0 L1571.6,599.6 L1572.3,604.1 L1573.0,608.5 L1573.7,612.7 L1574.4,616.8 L1575.2,620.6 L1575.9,624.1 L1576.6,627.4 L1577.3,630.4 L1578.0,633.0 L1578.7,635.3 L1579.4,632.5 L1580.2,629.2 L1580.9,625.6 L1581.6,621.7 L1582.4,617.5 L1583.1,612.9 L1583.8,608.1 L1584.6,603.2 L1585.3,598.0 L1586.0,592.8 L1586.8,587.5 L1587.5,582.1 L1588.2,576.9 L1588.9,571.7 L1589.7,566.8 L1590.4,562.0 L1591.1,557.4 L1591.9,553.2 L1592.6,549.3 L1593.3,545.7 L1594.1,542.4 L1594.8,539.6 L1595.5,542.9 L1596.2,546.6 L1597.0,550.7 L1597.7,555.1 L1598.4,559.8 L1599.1,564.8 L1599.8,570.1 L1600.5,575.6 L1601.3,581.2 L1602.0,587.0 L1602.7,592.8 L1603.4,598.6 L1604.1,604.4 L1604.9,610.0 L1605.6,615.5 L1606.3,620.8 L1607.0,625.8 L1607.7,630.5 L1608.4,634.9 L1609.2,639.0 L1609.9,642.7 L1610.6,646.0 L1611.3,644.7 L1612.0,643.1 L1612.7,641.1 L1613.4,638.9 L1614.2,636.4 L1614.9,633.7 L1615.6,630.9 L1616.3,628.0 L1617.0,625.1 L1617.7,622.3 L1618.4,619.6 L1619.2,617.1 L1619.9,614.9 L1620.6,612.9 L1621.3,611.3 L1622.0,610.0 L1622.7,610.8 L1623.4,611.8 L1624.1,613.0 L1624.8,614.3 L1625.6,615.8 L1626.3,617.4 L1627.0,619.1 L1627.7,620.8 L1628.4,622.6 L1629.1,624.5 L1629.8,626.2 L1630.5,627.9 L1631.2,629.5 L1632.0,631.0 L1632.7,632.3 L1633.4,633.5 L1634.1,634.5 L1634.8,635.3 L1635.5,634.4 L1636.2,633.3 L1636.9,632.0 L1637.6,630.5 L1638.3,628.8 L1639.0,627.0 L1639.7,625.1 L1640.4,623.2 L1641.2,621.1 L1641.9,619.1 L1642.6,617.2 L1643.3,615.3 L1644.0,613.5 L1644.7,611.8 L1645.4,610.3 L1646.1,609.0 L1646.8,607.9 L1647.5,607.0 L1648.2,608.9 L1648.9,611.2 L1649.6,613.8 L1650.3,616.8 L1651.0,620.0 L1651.8,623.4 L1652.5,627.1 L1653.2,631.0 L1653.9,635.0 L1654.6,639.1 L1655.3,643.2 L1656.0,647.4 L1656.7,651.5 L1657.4,655.5 L1658.1,659.4 L1658.8,663.1 L1659.6,666.5 L1660.3,669.7 L1661.0,672.7 L1661.7,675.3 L1662.4,677.6 L1663.1,679.5 L1663.8,677.8 L1664.5,675.9 L1665.2,673.6 L1665.9,671.0 L1666.6,668.2 L1667.4,665.1 L1668.1,661.9 L1668.8,658.4 L1669.5,654.8 L1670.2,651.2 L1670.9,647.5 L1671.6,643.7 L1672.3,640.1 L1673.0,636.5 L1673.7,633.0 L1674.4,629.8 L1675.2,626.7 L1675.9,623.9 L1676.6,621.3 L1677.3,619.0 L1678.0,617.1 L1678.7,615.4 L1679.4,617.4 L1680.1,619.7 L1680.8,622.4 L1681.5,625.4 L1682.2,628.7 L1683.0,632.2 L1683.7,636.0 L1684.4,639.9 L1685.1,644.0 L1685.8,648.2 L1686.5,652.5 L1687.2,656.7 L1687.9,660.9 L1688.6,665.0 L1689.3,668.9 L1690.0,672.7 L1690.8,676.2 L1691.5,679.5 L1692.2,682.5 L1692.9,685.2 L1693.6,687.5 L1694.3,689.5 L1695.0,688.6 L1695.7,687.4 L1696.4,686.1 L1697.1,684.5 L1697.8,682.8 L1698.5,680.9 L1699.2,678.9 L1699.9,676.9 L1700.7,674.8 L1701.4,672.6 L1702.1,670.6 L1702.8,668.6 L1703.5,666.7 L1704.2,665.0 L1704.9,663.4 L1705.6,662.1 L1706.3,660.9 L1707.0,660.0 L1707.7,660.8 L1708.4,661.7 L1709.2,662.9 L1709.9,664.2 L1710.6,665.6 L1711.3,667.1 L1712.0,668.8 L1712.7,670.5 L1713.5,672.2 L1714.2,674.0 L1714.9,675.7 L1715.6,677.4 L1716.3,678.9 L1717.0,680.3 L1717.8,681.6 L1718.5,682.8 L1719.2,683.7 L1719.9,684.5 L1720.6,684.0 L1721.3,683.3 L1722.0,682.5 L1722.7,681.6 L1723.4,680.6 L1724.1,679.6 L1724.8,678.4 L1725.5,677.2 L1726.2,676.0 L1727.0,674.8 L1727.7,673.5 L1728.4,672.3 L1729.1,671.1 L1729.8,669.9 L1730.5,668.9 L1731.2,667.9 L1731.9,667.0 L1732.6,666.2 L1733.3,665.5 L1734.0,665.0 L1734.7,666.8 L1735.4,669.0 L1736.1,671.6 L1736.8,674.6 L1737.6,677.9 L1738.3,681.4 L1739.0,685.2 L1739.7,689.2 L1740.4,693.3 L1741.1,697.3 L1741.8,701.4 L1742.5,705.4 L1743.2,709.2 L1743.9,712.7 L1744.7,716.0 L1745.4,719.0 L1746.1,721.6 L1746.8,723.8 L1747.5,725.6 L1748.2,724.6 L1748.9,723.2 L1749.6,721.5 L1750.3,719.6 L1751.0,717.5 L1751.8,715.3 L1752.5,713.1 L1753.2,711.0 L1753.9,709.1 L1754.6,707.4 L1755.3,706.0 L1756.0,705.0"/>
<path stroke="#ff0000" stroke-width="11.2" d="M1285.5,580.0 L1286.2,581.9 L1286.9,584.7 L1287.7,588.0 L1288.4,591.8 L1289.1,595.8 L1289.8,599.6 L1290.6,602.9 L1291.3,605.7 L1292.0,607.6 L1292.7,599.2 L1293.5,589.9 L1294.2,579.6 L1294.9,568.5 L1295.7,556.9 L1296.4,544.9 L1297.1,532.7 L1297.8,520.7 L1298.6,509.1 L1299.3,498.0 L1300.0,487.7 L1300.8,478.4 L1301.5,470.0 L1302.2,480.5 L1303.0,492.0 L1303.7,504.5 L1304.5,517.8 L1305.2,531.7 L1306.0,545.8 L1306.7,559.9 L1307.4,573.7 L1308.2,586.9 L1308.9,599.4 L1309.7,610.9 L1310.4,621.3 M1330.4,540.6 L1331.1,535.3 L1331.8,530.0 L1332.5,524.8 L1333.2,519.5 L1333.9,514.2 L1334.7,508.9 L1335.4,503.7 L1336.1,498.4 L1336.8,493.1 L1337.5,487.8 L1338.2,482.6 L1338.9,477.3 L1339.6,472.0 L1340.3,464.4 L1341.0,453.0 L1341.7,437.9 L1342.4,419.1 L1343.2,397.0 L1343.9,374.5 L1344.6,352.0 L1345.3,329.5 L1346.0,307.0 L1346.7,284.5 L1347.4,306.3 L1348.1,328.1 L1348.8,350.0 L1349.5,371.8 L1350.3,393.1 L1351.0,412.5 L1351.7,429.7 L1352.4,444.9 L1353.1,459.2 L1353.8,473.5 L1354.5,487.9 L1355.2,502.2 L1355.9,516.5 L1356.7,530.8 L1357.4,545.1 L1358.1,559.4 L1358.8,573.7 L1359.5,588.0 L1360.2,582.0 L1360.9,575.9 L1361.6,569.9 L1362.3,563.8 L1363.0,557.8 L1363.7,551.8 L1364.4,545.7 L1365.1,539.7 L1365.8,533.6 L1366.5,527.6 L1367.2,521.6 L1367.9,515.5 L1368.6,509.5 L1369.3,503.4 L1370.0,495.3 L1370.7,482.8 L1371.4,466.1 L1372.1,445.2 L1372.8,419.9 L1373.5,392.6 L1374.2,365.2 L1374.9,337.9 L1375.6,310.5 L1376.3,283.2 L1377.0,255.8 L1377.7,270.8 L1378.5,285.8 L1379.2,300.7 L1379.9,315.7 L1380.7,330.7 L1381.4,345.5 L1382.1,359.4 L1382.8,372.2 L1383.6,383.8 L1384.3,394.3 L1385.0,404.2 L1385.8,414.0 L1386.5,423.8 L1387.2,433.6 L1388.0,443.4 L1388.7,453.3 L1389.4,463.1 L1390.1,472.9 L1390.9,482.7 L1391.6,492.5 L1392.3,502.4 L1393.1,512.2 L1393.8,522.0 L1394.6,512.0 L1395.4,499.3 L1396.2,484.6 L1396.9,468.9 L1397.7,453.1 L1398.5,438.4 L1399.3,425.7 L1400.1,415.7 L1400.8,422.3 L1401.5,429.5 L1402.2,437.3 L1402.9,445.5 L1403.6,454.2 L1404.3,463.3 L1405.0,472.6 L1405.7,482.1 L1406.5,491.6 L1407.2,501.1 L1407.9,510.4 L1408.6,519.5 L1409.3,528.2 L1410.0,536.4 L1410.7,544.2 L1411.4,551.4 L1412.1,558.0 L1412.8,552.4 L1413.5,546.6 L1414.3,540.6 L1415.0,534.4 L1415.7,528.0 L1416.4,521.4 L1417.2,514.6 L1417.9,507.7 L1418.6,500.7 L1419.3,493.6 L1420.1,486.4 L1420.8,479.3 L1421.5,472.1 L1422.2,464.8 L1423.0,457.0 L1423.7,448.5 L1424.4,439.4 L1425.2,429.8 L1425.9,419.7 L1426.6,409.9 L1427.3,400.3 L1428.0,390.8 L1428.8,381.6 L1429.5,372.6 L1430.2,386.6 L1430.9,400.8 L1431.6,415.2 L1432.3,429.7 L1433.0,444.2 L1433.7,457.9 L1434.4,470.8 L1435.1,482.8 L1435.8,494.4 L1436.6,506.1 L1437.3,517.6 L1438.0,529.2 L1438.7,540.6 L1439.4,551.9 L1440.1,563.0 L1440.8,574.0 L1441.5,584.7 L1442.2,595.3 L1442.9,589.7 L1443.6,583.9 L1444.3,577.8 L1445.0,571.4 L1445.7,564.7 L1446.5,557.9 L1447.2,550.8 L1447.9,543.6 L1448.6,536.3 L1449.3,528.9 L1450.0,521.4 L1450.7,513.9 L1451.4,506.4 L1452.1,498.7 L1452.8,490.9 L1453.5,482.9 L1454.2,474.7 L1455.0,466.5 L1455.7,458.4 L1456.4,450.6 L1457.1,443.1 L1457.8,435.8 L1458.5,428.8 L1459.2,432.6 L1459.9,437.0 L1460.7,442.1 L1461.4,447.8 L1462.1,454.0 L1462.8,460.6 L1463.5,467.4 L1464.2,474.4 L1465.0,481.4 L1465.7,488.2 L1466.4,494.8 L1467.1,501.0 L1467.8,506.7 L1468.6,511.8 L1469.3,516.2 L1470.0,520.0 L1470.7,519.2 L1471.4,518.2 L1472.1,517.0 L1472.8,515.7 L1473.5,514.2 L1474.2,512.5 L1474.9,510.8 L1475.6,509.0 L1476.3,507.2 L1477.1,505.4 L1477.8,503.6 L1478.5,501.9 L1479.2,500.2 L1479.9,498.7 L1480.6,497.4 L1481.3,496.2 L1482.0,495.2 L1482.7,494.4 L1483.4,498.5 L1484.2,503.2 L1484.9,508.4 L1485.6,514.1 L1486.3,520.3 L1487.1,526.8 L1487.8,533.6 L1488.5,540.6 L1489.2,547.8 L1490.0,554.9 L1490.7,561.9 L1491.4,568.7 L1492.2,575.2 L1492.9,581.4 L1493.6,587.1 L1494.3,592.3 L1495.1,597.0 L1495.8,601.1 L1496.5,596.3 L1497.2,591.1 L1497.9,585.6 L1498.7,579.8 L1499.4,573.6 L1500.1,567.2 L1500.8,560.5 L1501.5,553.7 L1502.2,546.7 L1502.9,539.6 L1503.7,532.4 L1504.4,525.2 L1505.1,518.1 L1505.8,511.1 L1506.5,504.3 L1507.2,497.6 L1507.9,491.2 L1508.6,485.0 L1509.4,479.2 L1510.1,473.7 L1510.8,468.5 L1511.5,463.7 L1512.2,469.6 L1512.9,475.8 L1513.6,482.5 L1514.3,489.5 L1515.0,496.9 L1515.7,504.6 L1516.4,512.5 L1517.1,520.6 L1517.8,528.8 L1518.5,537.1 L1519.2,545.4 L1519.9,553.6 L1520.6,561.7 L1521.3,569.6 L1522.0,577.3 L1522.7,584.7 L1523.4,591.7 L1524.1,598.4 L1524.8,604.6 L1525.5,610.5 L1526.2,607.9 L1526.9,604.9 L1527.6,601.6 L1528.3,598.0 L1529.0,594.0 L1529.8,589.8 L1530.5,585.3 L1531.2,580.6 L1531.9,575.7 L1532.6,570.8 L1533.3,565.8 L1534.0,560.7 L1534.7,555.8 L1535.4,550.9 L1536.1,546.2 L1536.8,541.7 L1537.6,537.5 L1538.3,533.5 L1539.0,529.9 L1539.7,526.6 L1540.4,523.6 L1541.1,521.0 L1541.8,523.7 L1542.5,527.2 L1543.2,531.4 L1543.9,536.2 L1544.6,541.5 L1545.3,547.2 L1546.0,553.0 L1546.8,558.8 L1547.5,564.5 L1548.2,569.8 L1548.9,574.6 L1549.6,578.8 L1550.3,582.3 L1551.0,585.0 L1551.7,583.7 L1552.4,582.2 L1553.1,580.3 L1553.8,578.1 L1554.6,575.7 L1555.3,573.1 L1556.0,570.4 L1556.7,567.6 L1557.4,564.8 L1558.1,562.1 L1558.8,559.5 L1559.6,557.1 L1560.3,554.9 L1561.0,553.0 L1561.7,551.5 L1562.4,550.2 L1563.1,552.5 L1563.8,555.1 L1564.5,558.1 L1565.2,561.4 L1565.9,564.9 L1566.7,568.7 L1567.4,572.8 L1568.1,577.0 L1568.8,581.4 L1569.5,585.9 L1570.2,590.5 L1570.9,595.0 L1571.6,599.6 L1572.3,604.1 L1573.0,608.5 L1573.7,612.7 L1574.4,616.8 L1575.2,620.6 L1575.9,624.1 L1576.6,627.4 L1577.3,630.4 L1578.0,633.0 L1578.7,635.3 L1579.4,632.5 L1580.2,629.2 L1580.9,625.6 L1581.6,621.7 L1582.4,617.5 L1583.1,612.9 L1583.8,608.1 L1584.6,603.2 L1585.3,598.0 L1586.0,592.8 L1586.8,587.5 L1587.5,582.1 L1588.2,576.9 L1588.9,571.7 L1589.7,566.8 L1590.4,562.0 L1591.1,557.4 L1591.9,553.2 L1592.6,549.3 L1593.3,545.7 L1594.1,542.4 L1594.8,539.6 L1595.5,542.9 L1596.2,546.6 L1597.0,550.7 L1597.7,555.1 L1598.4,559.8 L1599.1,564.8 L1599.8,570.1 L1600.5,575.6 L1601.3,581.2 L1602.0,587.0 L1602.7,592.8 L1603.4,598.6 L1604.1,604.4 L1604.9,610.0 L1605.6,615.5 L1606.3,620.8 L1607.0,625.8 L1607.7,630.5 L1608.4,634.9 L1609.2,639.0 L1609.9,642.7 L1610.6,646.0 L1611.3,644.7 L1612.0,643.1 L1612.7,641.1 L1613.4,638.9 L1614.2,636.4 L1614.9,633.7 L1615.6,630.9 L1616.3,628.0 L1617.0,625.1 L1617.7,622.3 L1618.4,619.6 L1619.2,617.1 L1619.9,614.9 L1620.6,612.9 L1621.3,611.3 L1622.0,610.0 L1622.7,610.8 L1623.4,611.8 L1624.1,613.0 L1624.8,614.3 L1625.6,615.8 L1626.3,617.4 L1627.0,619.1 L1627.7,620.8 L1628.4,622.6 L1629.1,624.5 L1629.8,626.2 L1630.5,627.9 L1631.2,629.5 L1632.0,631.0 L1632.7,632.3 L1633.4,633.5 L1634.1,634.5 L1634.8,635.3 L1635.5,634.4 L1636.2,633.3 L1636.9,632.0 L1637.6,630.5 L1638.3,628.8 L1639.0,627.0 L1639.7,625.1 L1640.4,623.2 L1641.2,621.1 L1641.9,619.1 L1642.6,617.2 L1643.3,615.3 L1644.0,613.5 L1644.7,611.8 L1645.4,610.3 L1646.1,609.0 L1646.8,607.9 L1647.5,607.0 L1648.2,608.9 L1648.9,611.2 L1649.6,613.8 L1650.3,616.8 L1651.0,620.0 L1651.8,623.4 L1652.5,627.1 L1653.2,631.0 L1653.9,635.0 L1654.6,639.1 L1655.3,643.2 L1656.0,647.4 L1656.7,651.5 L1657.4,655.5 L1658.1,659.4 L1658.8,663.1 L1659.6,666.5 L1660.3,669.7 L1661.0,672.7 L1661.7,675.3 L1662.4,677.6 L1663.1,679.5 L1663.8,677.8 L1664.5,675.9 L1665.2,673.6 L1665.9,671.0 L1666.6,668.2 L1667.4,665.1 L1668.1,661.9 L1668.8,658.4 L1669.5,654.8 L1670.2,651.2 L1670.9,647.5 L1671.6,643.7 L1672.3,640.1 L1673.0,636.5 L1673.7,633.0 L1674.4,629.8 L1675.2,626.7 L1675.9,623.9 L1676.6,621.3 L1677.3,619.0 L1678.0,617.1 L1678.7,615.4 L1679.4,617.4 L1680.1,619.7 L1680.8,622.4 L1681.5,625.4 L1682.2,628.7 L1683.0,632.2 L1683.7,636.0 L1684.4,639.9 L1685.1,644.0 L1685.8,648.2 L1686.5,652.5 L1687.2,656.7 L1687.9,660.9 L1688.6,665.0 L1689.3,668.9 L1690.0,672.7 L1690.8,676.2 L1691.5,679.5 L1692.2,682.5 L1692.9,685.2 L1693.6,687.5 L1694.3,689.5 L1695.0,688.6 L1695.7,687.4 L1696.4,686.1 L1697.1,684.5 L1697.8,682.8 L1698.5,680.9 L1699.2,678.9 L1699.9,676.9 L1700.7,674.8 L1701.4,672.6 L1702.1,670.6 L1702.8,668.6 L1703.5,666.7 L1704.2,665.0 L1704.9,663.4 L1705.6,662.1 L1706.3,660.9 L1707.0,660.0 L1707.7,660.8 L1708.4,661.7 L1709.2,662.9 L1709.9,664.2 L1710.6,665.6 L1711.3,667.1 L1712.0,668.8 L1712.7,670.5 L1713.5,672.2 L1714.2,674.0 L1714.9,675.7 L1715.6,677.4 L1716.3,678.9 L1717.0,680.3 L1717.8,681.6 L1718.5,682.8 L1719.2,683.7 L1719.9,684.5 L1720.6,684.0 L1721.3,683.3 L1722.0,682.5 L1722.7,681.6 L1723.4,680.6 L1724.1,679.6 L1724.8,678.4 L1725.5,677.2 L1726.2,676.0 L1727.0,674.8 L1727.7,673.5 L1728.4,672.3 L1729.1,671.1 L1729.8,669.9 L1730.5,668.9 L1731.2,667.9 L1731.9,667.0 L1732.6,666.2 L1733.3,665.5 L1734.0,665.0 L1734.7,666.8 L1735.4,669.0 L1736.1,671.6 L1736.8,674.6 L1737.6,677.9 L1738.3,681.4 L1739.0,685.2 L1739.7,689.2 L1740.4,693.3 L1741.1,697.3 L1741.8,701.4 L1742.5,705.4 L1743.2,709.2 L1743.9,712.7 L1744.7,716.0 L1745.4,719.0 L1746.1,721.6 L1746.8,723.8 L1747.5,725.6 L1748.2,724.6 L1748.9,723.2 L1749.6,721.5 L1750.3,719.6 L1751.0,717.5 L1751.8,715.3 L1752.5,713.1 L1753.2,711.0 L1753.9,709.1 L1754.6,707.4 L1755.3,706.0 L1756.0,705.0"/>
<path stroke="#0000ff" d="M261.5,1232.0 L265.5,1231.3 L269.6,1230.7 L273.6,1230.0 L277.6,1229.4 L281.7,1228.7 L285.7,1228.1 L289.7,1227.4 L293.8,1226.7 L297.8,1226.1 L301.8,1225.4 L305.9,1224.8 L309.9,1224.1 L313.9,1223.4 L318.0,1222.8 L322.0,1222.1 L326.0,1221.4 L330.1,1220.8 L334.1,1220.1 L338.1,1219.4 L342.1,1218.7 L346.2,1218.1 L350.2,1217.4 L354.2,1216.7 L358.3,1216.1 L362.3,1215.4 L366.3,1214.7 L370.4,1214.1 L374.4,1213.4 L378.4,1212.8 L382.5,1212.1 L386.5,1211.4 L390.5,1210.8 L394.6,1210.1 L398.6,1209.5 L402.6,1208.8 L406.7,1208.1 L410.7,1207.4 L414.7,1206.8 L418.8,1206.1 L422.8,1205.4 L426.8,1204.7 L430.9,1204.0 L434.9,1203.2 L438.9,1202.5 L443.0,1201.8 L447.0,1201.0 L451.0,1200.3 L455.1,1199.5 L459.1,1198.7 L463.1,1197.9 L467.2,1197.1 L471.2,1196.3 L475.2,1195.5 L479.2,1194.6 L483.3,1193.8 L487.3,1192.9 L491.3,1192.0 L495.4,1191.1 L499.4,1190.1 L503.4,1189.2 L507.5,1188.2 L511.5,1187.2 L515.5,1186.2 L519.6,1185.1 L523.6,1184.0 L527.6,1182.9 L531.7,1181.7 L535.7,1180.5 L539.7,1179.3 L543.8,1178.0 L547.8,1176.6 L551.8,1175.3 L555.9,1173.8 L559.9,1172.4 L563.9,1170.9 L568.0,1169.4 L572.0,1167.8 L576.0,1166.3 L580.1,1164.7 L584.1,1163.1 L588.1,1161.5 L592.2,1159.9 L596.2,1158.3 L600.2,1156.7 L604.3,1155.0 L608.3,1153.3 L612.3,1151.6 L616.4,1149.8 L620.4,1148.1 L624.4,1146.3 L628.4,1144.5 L632.5,1142.7 L636.5,1140.8 L640.5,1139.0 L644.6,1137.2 L648.6,1135.3 L652.6,1133.5 L656.7,1131.7 L660.7,1129.9 L664.7,1128.1 L668.8,1126.3 L672.8,1124.5 L676.8,1122.8 L680.9,1121.0 L684.9,1119.2 L688.9,1117.3 L693.0,1115.4 L697.0,1113.5 L701.0,1111.5 L705.1,1109.4 L709.1,1107.3 L713.1,1105.1 L717.2,1102.9 L721.2,1100.7 L725.2,1098.4 L729.3,1096.0 L733.3,1093.6 L737.3,1091.2 L741.4,1088.6 L745.4,1086.0 L749.4,1083.3 L753.5,1080.5 L757.5,1077.7 L761.5,1074.8 L765.5,1072.0 L769.6,1069.1 L773.6,1066.1 L777.6,1063.2 L781.7,1060.3 L785.7,1057.3 L789.7,1054.4 L793.8,1051.4 L797.8,1048.5 L801.8,1045.6 L805.9,1042.9 L809.9,1040.3 L813.9,1037.9 L818.0,1035.3 L822.0,1032.6 L826.0,1029.7 L830.1,1026.7 L834.1,1023.5 L841.3,1008.6 L844.7,1006.7 L847.9,1005.4 L850.7,1003.7 L853.3,1002.6 L854.9,1000.4 L857.7,995.9 L860.5,991.9 L863.1,988.2 L865.8,983.8 L867.7,981.1 L869.7,980.2 L873.0,978.3 L877.8,976.2 L879.6,975.1 L881.5,969.2 L884.4,960.7 L888.2,960.4 L890.9,959.7 L894.0,959.5 L895.8,956.3 L899.4,949.5 L901.2,946.3 L904.7,942.5 L908.1,938.3 L910.8,935.6 L912.9,932.7 L917.5,925.6 L920.0,922.0 L923.1,917.0 L925.4,912.5 L927.9,908.9 L931.2,902.8 L934.1,898.0 L936.7,895.0 L939.4,891.2 L943.4,886.7 L947.9,880.4 L949.8,878.4 L952.9,873.5 L955.1,868.9 L957.7,864.7 L959.8,855.6 L961.6,847.0 L963.3,844.4 L968.2,839.7 L971.0,835.4 L973.3,833.3 L977.1,826.3 L980.3,818.8 L983.1,813.7 L985.5,812.8 L989.4,809.5 L992.9,807.8 L995.2,804.9 L997.9,799.8 L999.9,793.4 L1003.7,784.8 L1005.8,778.3 L1009.5,774.7 L1012.0,774.4 L1015.6,770.4 L1019.3,758.5 L1021.4,752.8 L1024.9,747.7 L1027.3,743.0 L1029.1,739.1 L1032.5,735.1 L1035.2,729.3 L1038.2,725.8 L1040.1,726.7 L1043.0,723.4 L1045.0,720.2 L1049.7,716.7 L1052.8,711.6 L1054.4,704.6 L1056.7,697.9 L1058.4,695.8 L1062.1,684.7 L1064.6,680.3 L1067.5,681.1 L1071.1,677.7 L1074.4,678.3 L1077.2,674.3 L1080.6,664.0 L1082.2,662.6 L1084.5,662.4 L1089.5,651.0 L1092.0,650.9 L1094.2,651.9 L1099.6,642.7 L1101.8,643.0 L1103.7,638.3 L1105.7,627.4 L1107.6,621.2 L1111.5,624.0 L1113.5,617.6 L1116.4,609.4 L1119.4,607.5 L1121.6,608.5 L1125.0,602.7 L1128.2,592.8 L1130.8,596.1 L1134.2,588.3 L1135.9,581.7 L1140.1,581.8 L1142.0,575.3 L1144.7,567.4 L1149.1,569.7 L1151.2,563.5 L1153.4,554.7 L1157.7,551.7 L1159.7,554.2 L1163.4,540.9 L1165.3,550.5 L1168.2,542.6 L1171.3,530.1 L1173.4,533.4 L1175.2,538.6 L1179.0,522.4 L1182.6,525.6 L1185.2,515.1 L1186.6,510.7 L1187.8,491.6 L1190.4,475.9 L1193.9,463.7 L1196.9,458.5 L1198.5,476.2 L1200.5,487.2 L1201.9,510.2 L1203.5,517.5 L1206.0,500.9 L1210.0,491.6 L1212.6,473.2 L1214.6,470.0 L1217.0,478.3 L1220.2,472.6 L1221.8,479.0 L1224.4,470.0 L1227.0,452.3 L1227.5,444.7 L1228.3,426.2 L1228.9,412.8 L1229.6,400.0 L1230.3,394.5 L1231.1,388.5 L1231.8,381.9 L1232.5,374.9 L1233.2,367.4 L1234.0,359.6 L1234.7,351.4 L1235.4,343.1 L1236.2,334.8 L1236.9,326.4 L1237.6,318.1 L1238.3,309.9 L1239.1,302.1 L1239.8,294.6 L1240.5,287.6 L1241.2,281.0 L1242.0,275.0 L1242.7,269.5 L1243.4,295.4 L1244.1,321.8 L1244.9,348.2 L1245.6,371.9 L1246.3,393.1 L1247.0,414.1 L1247.7,434.9 L1248.5,455.4 L1249.2,475.3 L1249.9,494.7 L1250.6,490.2 L1251.4,485.5 L1252.1,480.6 L1252.8,475.4 L1253.5,470.1 L1254.3,464.6 L1255.0,458.9 L1255.7,453.0 L1256.4,447.1 L1257.2,441.0 L1257.9,434.8 L1258.6,428.6 L1259.3,422.3 L1260.1,416.0 L1260.8,409.7 L1261.5,403.5 L1262.2,397.3 L1263.0,391.1 L1263.7,385.0 L1264.4,379.0 L1265.1,373.2 L1265.9,367.5 L1266.6,362.0 L1267.3,356.7 L1268.0,351.6 L1268.8,346.7 L1269.5,342.0 L1270.2,349.9 L1270.9,358.5 L1271.6,367.8 L1272.3,377.6 L1273.0,388.0 L1273.7,398.8 L1274.4,409.7 L1275.1,420.8 L1275.8,431.7 L1276.5,442.5 L1277.2,452.9 L1277.9,462.7 L1278.6,472.0 L1279.3,480.6 L1280.0,488.5 L1280.7,479.4 L1281.4,469.4 L1282.2,458.5 L1282.9,446.9 L1283.6,434.6 L1284.3,422.1 L1285.1,409.4 L1285.8,396.9 L1286.5,384.6 L1287.2,373.0 L1288.0,362.1 L1288.7,352.1 L1289.4,343.0 L1290.1,348.1 L1290.9,353.6 L1291.6,359.5 L1292.3,365.8 L1293.1,372.3 L1293.8,379.2 L1294.5,386.3 L1295.3,393.6 L1296.0,401.0 L1296.7,408.6 L1297.5,416.1 L1298.2,423.7 L1298.9,431.1 L1299.7,438.4 L1300.4,445.5 L1301.1,452.4 L1301.9,458.9 L1302.6,465.2 L1303.3,471.1 L1304.1,476.6 L1304.8,481.7 L1305.5,478.7 L1306.2,475.3 L1306.9,471.8 L1307.6,467.9 L1308.3,463.8 L1309.0,459.5 L1309.8,455.0 L1310.5,450.3 L1311.2,445.5 L1311.9,440.5 L1312.6,435.4 L1313.3,430.2 L1314.0,425.0 L1314.7,419.9 L1315.4,414.7 L1316.1,409.6 L1316.8,404.6 L1317.5,399.8 L1318.2,395.1 L1319.0,390.6 L1319.7,386.3 L1320.4,382.2 L1321.1,378.3 L1321.8,374.8 L1322.5,371.4 L1323.2,368.4 L1324.0,377.9 L1324.7,388.6 L1325.5,400.3 L1326.2,412.8 L1327.0,426.0 L1327.8,439.4 L1328.5,452.8 L1329.3,466.0 L1330.0,478.5 L1330.8,490.2 L1331.5,500.9 L1332.3,510.4 L1333.0,506.6 L1333.7,502.2 L1334.5,497.4 L1335.2,492.1 L1335.9,486.4 L1336.6,480.3 L1337.3,474.0 L1338.1,467.4 L1338.8,460.8 L1339.5,454.0 L1340.2,447.4 L1341.0,440.8 L1341.7,434.5 L1342.4,428.4 L1343.1,422.7 L1343.8,417.4 L1344.6,412.6 L1345.3,408.2 L1346.0,404.4 L1346.7,408.0 L1347.5,412.0 L1348.2,416.6 L1348.9,421.5 L1349.6,426.9 L1350.4,432.7 L1351.1,438.7 L1351.8,444.9 L1352.5,451.3 L1353.3,457.7 L1354.0,464.1 L1354.7,470.3 L1355.4,476.3 L1356.2,482.1 L1356.9,487.5 L1357.6,492.4 L1358.3,497.0 L1359.1,501.0 L1359.8,504.6 L1360.5,499.8 L1361.3,494.1 L1362.0,487.7 L1362.8,480.6 L1363.5,473.0 L1364.2,465.0 L1365.0,456.7 L1365.7,448.3 L1366.5,440.0 L1367.2,432.0 L1367.9,424.4 L1368.7,417.3 L1369.4,410.9 L1370.2,405.2 L1370.9,400.4 L1371.6,403.5 L1372.3,407.0 L1373.0,410.9 L1373.7,415.0 L1374.4,419.5 L1375.2,424.2 L1375.9,429.2 L1376.6,434.4 L1377.3,439.7 L1378.0,445.1 L1378.7,450.7 L1379.4,456.2 L1380.1,461.8 L1380.8,467.2 L1381.5,472.5 L1382.2,477.7 L1382.9,482.7 L1383.7,487.4 L1384.4,491.9 L1385.1,496.0 L1385.8,499.9 L1386.5,503.4 L1387.2,506.5 L1387.9,504.3 L1388.6,501.5 L1389.3,498.2 L1390.0,494.4 L1390.7,490.1 L1391.4,485.6 L1392.1,480.9 L1392.8,476.0 L1393.5,471.3 L1394.2,466.8 L1394.9,462.5 L1395.6,458.7 L1396.3,455.4 L1397.0,452.6 L1397.7,450.4 L1398.4,451.8 L1399.1,453.5 L1399.8,455.5 L1400.5,457.7 L1401.2,460.1 L1402.0,462.7 L1402.7,465.5 L1403.4,468.5 L1404.1,471.6 L1404.8,474.8 L1405.5,478.1 L1406.2,481.4 L1406.9,484.7 L1407.6,488.0 L1408.3,491.2 L1409.0,494.3 L1409.7,497.3 L1410.5,500.1 L1411.2,502.7 L1411.9,505.1 L1412.6,507.3 L1413.3,509.3 L1414.0,511.0 L1414.7,512.4 L1415.4,511.4 L1416.1,510.2 L1416.8,508.8 L1417.5,507.2 L1418.2,505.5 L1419.0,503.6 L1419.7,501.6 L1420.4,499.4 L1421.1,497.2 L1421.8,494.9 L1422.5,492.6 L1423.2,490.2 L1423.9,487.8 L1424.6,485.5 L1425.3,483.2 L1426.0,480.9 L1426.7,478.8 L1427.5,476.8 L1428.2,474.9 L1428.9,473.2 L1429.6,471.6 L1430.3,470.2 L1431.0,469.0 L1431.7,468.0 L1432.4,471.1 L1433.1,475.2 L1433.8,480.0 L1434.5,485.6 L1435.2,491.6 L1435.9,498.0 L1436.7,504.6 L1437.4,511.0 L1438.1,517.0 L1438.8,522.6 L1439.5,527.4 L1440.2,531.5 L1440.9,534.6 L1441.6,532.3 L1442.4,529.3 L1443.1,525.6 L1443.9,521.5 L1444.6,516.9 L1445.4,512.0 L1446.1,506.9 L1446.8,501.8 L1447.6,496.9 L1448.3,492.3 L1449.1,488.2 L1449.8,484.5 L1450.6,481.5 L1451.3,479.2 L1452.0,480.4 L1452.7,481.7 L1453.4,483.3 L1454.1,485.0 L1454.8,487.0 L1455.5,489.1 L1456.2,491.3 L1456.9,493.7 L1457.6,496.2 L1458.3,498.8 L1459.0,501.5 L1459.7,504.2 L1460.4,506.9 L1461.2,509.6 L1461.9,512.3 L1462.6,515.0 L1463.3,517.6 L1464.0,520.1 L1464.7,522.5 L1465.4,524.7 L1466.1,526.8 L1466.8,528.8 L1467.5,530.5 L1468.2,532.1 L1468.9,533.4 L1469.6,534.6 L1470.3,533.7 L1471.1,532.5 L1471.8,531.2 L1472.5,529.6 L1473.2,527.9 L1474.0,526.1 L1474.7,524.1 L1475.4,522.1 L1476.2,520.0 L1476.9,517.9 L1477.6,515.9 L1478.3,513.9 L1479.1,512.1 L1479.8,510.4 L1480.5,508.8 L1481.2,507.5 L1482.0,506.3 L1482.7,505.4 L1483.4,507.2 L1484.2,509.4 L1484.9,512.0 L1485.6,514.9 L1486.3,518.2 L1487.1,521.8 L1487.8,525.5 L1488.5,529.5 L1489.2,533.5 L1490.0,537.4 L1490.7,541.4 L1491.4,545.1 L1492.2,548.7 L1492.9,552.0 L1493.6,554.9 L1494.3,557.5 L1495.1,559.7 L1495.8,561.5 L1496.5,560.5 L1497.2,559.3 L1497.9,557.9 L1498.6,556.3 L1499.3,554.6 L1500.0,552.8 L1500.7,550.8 L1501.4,548.7 L1502.1,546.5 L1502.8,544.2 L1503.5,541.8 L1504.2,539.4 L1504.9,537.0 L1505.7,534.6 L1506.4,532.2 L1507.1,529.8 L1507.8,527.5 L1508.5,525.3 L1509.2,523.2 L1509.9,521.2 L1510.6,519.4 L1511.3,517.7 L1512.0,516.1 L1512.7,514.7 L1513.4,513.5 L1514.1,512.5 L1514.8,515.1 L1515.5,518.3 L1516.2,522.2 L1516.9,526.5 L1517.7,531.3 L1518.4,536.4 L1519.1,541.8 L1519.8,547.2 L1520.5,552.7 L1521.2,558.1 L1521.9,563.2 L1522.7,568.0 L1523.4,572.3 L1524.1,576.2 L1524.8,579.4 L1525.5,582.0 L1526.2,580.2 L1526.9,577.9 L1527.6,575.1 L1528.4,571.9 L1529.1,568.4 L1529.8,564.6 L1530.5,560.6 L1531.2,556.7 L1531.9,552.7 L1532.6,548.9 L1533.3,545.4 L1534.1,542.2 L1534.8,539.4 L1535.5,537.1 L1536.2,535.3 L1536.9,536.6 L1537.6,538.3 L1538.3,540.3 L1539.0,542.5 L1539.7,544.9 L1540.4,547.6 L1541.1,550.5 L1541.8,553.4 L1542.5,556.5 L1543.3,559.5 L1544.0,562.6 L1544.7,565.5 L1545.4,568.4 L1546.1,571.1 L1546.8,573.5 L1547.5,575.7 L1548.2,577.7 L1548.9,579.4 L1549.6,580.7 L1550.3,580.0 L1551.0,579.2 L1551.7,578.2 L1552.4,577.1 L1553.2,575.8 L1553.9,574.5 L1554.6,573.1 L1555.3,571.6 L1556.0,570.0 L1556.7,568.5 L1557.4,567.0 L1558.1,565.6 L1558.8,564.3 L1559.6,563.0 L1560.3,561.9 L1561.0,560.9 L1561.7,560.1 L1562.4,559.4 L1563.1,560.6 L1563.8,562.1 L1564.5,563.8 L1565.2,565.7 L1565.9,567.8 L1566.7,570.1 L1567.4,572.6 L1568.1,575.2 L1568.8,577.9 L1569.5,580.7 L1570.2,583.5 L1570.9,586.4 L1571.6,589.2 L1572.3,592.0 L1573.0,594.7 L1573.7,597.3 L1574.4,599.8 L1575.2,602.1 L1575.9,604.2 L1576.6,606.1 L1577.3,607.8 L1578.0,609.3 L1578.7,610.5 L1579.4,609.3 L1580.1,607.7 L1580.8,605.9 L1581.5,603.9 L1582.3,601.6 L1583.0,599.1 L1583.7,596.5 L1584.4,593.8 L1585.1,591.0 L1585.8,588.1 L1586.5,585.3 L1587.2,582.6 L1587.9,580.0 L1588.6,577.5 L1589.4,575.2 L1590.1,573.2 L1590.8,571.4 L1591.5,569.8 L1592.2,568.6 L1592.9,570.0 L1593.6,571.6 L1594.3,573.5 L1595.0,575.8 L1595.8,578.2 L1596.5,580.8 L1597.2,583.7 L1597.9,586.6 L1598.6,589.7 L1599.3,592.8 L1600.0,595.9 L1600.7,599.0 L1601.4,601.9 L1602.1,604.8 L1602.9,607.4 L1603.6,609.8 L1604.3,612.1 L1605.0,614.0 L1605.7,615.6 L1606.4,617.0 L1607.1,616.7 L1607.8,616.3 L1608.5,615.9 L1609.3,615.4 L1610.0,614.9 L1610.7,614.3 L1611.4,613.7 L1612.1,613.0 L1612.8,612.3 L1613.6,611.7 L1614.3,611.0 L1615.0,610.3 L1615.7,609.7 L1616.4,609.1 L1617.1,608.6 L1617.9,608.1 L1618.6,607.7 L1619.3,607.3 L1620.0,607.0 L1620.7,607.6 L1621.4,608.4 L1622.1,609.3 L1622.8,610.4 L1623.5,611.6 L1624.2,612.9 L1624.9,614.2 L1625.6,615.6 L1626.3,617.0 L1627.0,618.4 L1627.7,619.7 L1628.4,621.0 L1629.1,622.2 L1629.8,623.3 L1630.5,624.2 L1631.2,625.0 L1631.9,625.6 L1632.6,625.5 L1633.3,625.4 L1634.1,625.3 L1634.8,625.2 L1635.5,625.1 L1636.2,625.0 L1636.9,624.8 L1637.7,624.7 L1638.4,624.5 L1639.1,624.4 L1639.8,624.2 L1640.5,624.1 L1641.2,623.9 L1642.0,623.8 L1642.7,623.6 L1643.4,623.5 L1644.1,623.4 L1644.8,623.3 L1645.6,623.2 L1646.3,623.1 L1647.0,623.0 L1647.7,623.9 L1648.5,624.9 L1649.2,626.2 L1649.9,627.6 L1650.7,629.1 L1651.4,630.8 L1652.1,632.6 L1652.9,634.5 L1653.6,636.4 L1654.3,638.5 L1655.0,640.5 L1655.8,642.5 L1656.5,644.6 L1657.2,646.5 L1658.0,648.4 L1658.7,650.2 L1659.4,651.9 L1660.2,653.4 L1660.9,654.8 L1661.6,656.1 L1662.4,657.1 L1663.1,658.0 L1663.8,657.9 L1664.5,657.7 L1665.2,657.5 L1665.9,657.3 L1666.7,657.1 L1667.4,656.9 L1668.1,656.7 L1668.8,656.4 L1669.5,656.1 L1670.2,655.9 L1670.9,655.6 L1671.6,655.3 L1672.3,655.0 L1673.1,654.6 L1673.8,654.3 L1674.5,654.0 L1675.2,653.7 L1675.9,653.3 L1676.6,653.0 L1677.3,652.7 L1678.0,652.4 L1678.8,652.0 L1679.5,651.7 L1680.2,651.4 L1680.9,651.1 L1681.6,650.9 L1682.3,650.6 L1683.0,650.3 L1683.7,650.1 L1684.4,649.9 L1685.2,649.7 L1685.9,649.5 L1686.6,649.3 L1687.3,649.1 L1688.0,649.0 L1688.7,649.4 L1689.4,649.9 L1690.1,650.4 L1690.8,650.9 L1691.5,651.5 L1692.2,652.2 L1692.9,652.9 L1693.7,653.6 L1694.4,654.3 L1695.1,655.1 L1695.8,655.9 L1696.5,656.8 L1697.2,657.7 L1697.9,658.6 L1698.6,659.5 L1699.3,660.5 L1700.0,661.5 L1700.7,662.5 L1701.4,663.5 L1702.1,664.5 L1702.8,665.5 L1703.6,666.5 L1704.3,667.5 L1705.0,668.5 L1705.7,669.5 L1706.4,670.5 L1707.1,671.5 L1707.8,672.5 L1708.5,673.4 L1709.2,674.3 L1709.9,675.2 L1710.6,676.1 L1711.3,676.9 L1712.0,677.7 L1712.7,678.4 L1713.5,679.1 L1714.2,679.8 L1714.9,680.5 L1715.6,681.1 L1716.3,681.6 L1717.0,682.1 L1717.7,682.6 L1718.4,683.0 L1719.1,682.6 L1719.8,682.0 L1720.5,681.4 L1721.2,680.7 L1721.9,679.9 L1722.7,679.1 L1723.4,678.2 L1724.1,677.2 L1724.8,676.2 L1725.5,675.2 L1726.2,674.1 L1726.9,673.1 L1727.6,672.1 L1728.3,671.1 L1729.0,670.1 L1729.7,669.2 L1730.5,668.4 L1731.2,667.6 L1731.9,666.9 L1732.6,666.3 L1733.3,665.7 L1734.0,665.3 L1734.7,666.6 L1735.4,668.1 L1736.1,669.9 L1736.8,672.0 L1737.5,674.3 L1738.3,676.8 L1739.0,679.4 L1739.7,682.2 L1740.4,685.1 L1741.1,688.0 L1741.8,690.9 L1742.5,693.8 L1743.2,696.6 L1743.9,699.2 L1744.7,701.7 L1745.4,704.0 L1746.1,706.1 L1746.8,707.9 L1747.5,709.4 L1748.2,710.7 L1748.9,710.1 L1749.6,709.3 L1750.3,708.3 L1751.0,707.2 L1751.7,706.0 L1752.5,704.7 L1753.2,703.5 L1753.9,702.4 L1754.6,701.4 L1755.3,700.6 L1756.0,700.0"/>
<path stroke="#0000ff" stroke-width="11.2" d="M1229.6,400.0 L1230.3,394.5 L1231.1,388.5 L1231.8,381.9 L1232.5,374.9 L1233.2,367.4 L1234.0,359.6 L1234.7,351.4 L1235.4,343.1 L1236.2,334.8 L1236.9,326.4 L1237.6,318.1 L1238.3,309.9 L1239.1,302.1 L1239.8,294.6 L1240.5,287.6 L1241.2,281.0 L1242.0,275.0 L1242.7,269.5 L1243.4,295.4 L1244.1,321.8 L1244.9,348.2 L1245.6,371.9 L1246.3,393.1 L1247.0,414.1 L1247.7,434.9 L1248.5,455.4 L1249.2,475.3 L1249.9,494.7 L1250.6,490.2 L1251.4,485.5 L1252.1,480.6 L1252.8,475.4 L1253.5,470.1 L1254.3,464.6 L1255.0,458.9 L1255.7,453.0 L1256.4,447.1 L1257.2,441.0 L1257.9,434.8 L1258.6,428.6 L1259.3,422.3 L1260.1,416.0 L1260.8,409.7 L1261.5,403.5 L1262.2,397.3 L1263.0,391.1 L1263.7,385.0 L1264.4,379.0 L1265.1,373.2 L1265.9,367.5 L1266.6,362.0 L1267.3,356.7 L1268.0,351.6 L1268.8,346.7 L1269.5,342.0 L1270.2,349.9 L1270.9,358.5 L1271.6,367.8 L1272.3,377.6 L1273.0,388.0 L1273.7,398.8 L1274.4,409.7 L1275.1,420.8 L1275.8,431.7 L1276.5,442.5 L1277.2,452.9 L1277.9,462.7 L1278.6,472.0 L1279.3,480.6 L1280.0,488.5 L1280.7,479.4 L1281.4,469.4 L1282.2,458.5 L1282.9,446.9 L1283.6,434.6 L1284.3,422.1 L1285.1,409.4 L1285.8,396.9 L1286.5,384.6 L1287.2,373.0 L1288.0,362.1 L1288.7,352.1 L1289.4,343.0 L1290.1,348.1 L1290.9,353.6 L1291.6,359.5 L1292.3,365.8 L1293.1,372.3 L1293.8,379.2 L1294.5,386.3 L1295.3,393.6 L1296.0,401.0 L1296.7,408.6 L1297.5,416.1 L1298.2,423.7 L1298.9,431.1 L1299.7,438.4 L1300.4,445.5 L1301.1,452.4 L1301.9,458.9 L1302.6,465.2 L1303.3,471.1 L1304.1,476.6 L1304.8,481.7 L1305.5,478.7 L1306.2,475.3 L1306.9,471.8 L1307.6,467.9 L1308.3,463.8 L1309.0,459.5 L1309.8,455.0 L1310.5,450.3 L1311.2,445.5 L1311.9,440.5 L1312.6,435.4 L1313.3,430.2 L1314.0,425.0 L1314.7,419.9 L1315.4,414.7 L1316.1,409.6 L1316.8,404.6 L1317.5,399.8 L1318.2,395.1 L1319.0,390.6 L1319.7,386.3 L1320.4,382.2 L1321.1,378.3 L1321.8,374.8 L1322.5,371.4 L1323.2,368.4 L1324.0,377.9 L1324.7,388.6 L1325.5,400.3 L1326.2,412.8 L1327.0,426.0 L1327.8,439.4 L1328.5,452.8 L1329.3,466.0 L1330.0,478.5 L1330.8,490.2 L1331.5,500.9 L1332.3,510.4 L1333.0,506.6 L1333.7,502.2 L1334.5,497.4 L1335.2,492.1 L1335.9,486.4 L1336.6,480.3 L1337.3,474.0 L1338.1,467.4 L1338.8,460.8 L1339.5,454.0 L1340.2,447.4 L1341.0,440.8 L1341.7,434.5 L1342.4,428.4 L1343.1,422.7 L1343.8,417.4 L1344.6,412.6 L1345.3,408.2 L1346.0,404.4 L1346.7,408.0 L1347.5,412.0 L1348.2,416.6 L1348.9,421.5 L1349.6,426.9 L1350.4,432.7 L1351.1,438.7 L1351.8,444.9 L1352.5,451.3 L1353.3,457.7 L1354.0,464.1 L1354.7,470.3 L1355.4,476.3 L1356.2,482.1 L1356.9,487.5 L1357.6,492.4 L1358.3,497.0 L1359.1,501.0 L1359.8,504.6 L1360.5,499.8 L1361.3,494.1 L1362.0,487.7 L1362.8,480.6 L1363.5,473.0 L1364.2,465.0 L1365.0,456.7 L1365.7,448.3 L1366.5,440.0 L1367.2,432.0 L1367.9,424.4 L1368.7,417.3 L1369.4,410.9 L1370.2,405.2 L1370.9,400.4 L1371.6,403.5 L1372.3,407.0 L1373.0,410.9 L1373.7,415.0 L1374.4,419.5 L1375.2,424.2 L1375.9,429.2 L1376.6,434.4 L1377.3,439.7 L1378.0,445.1 L1378.7,450.7 L1379.4,456.2 L1380.1,461.8 L1380.8,467.2 L1381.5,472.5 L1382.2,477.7 L1382.9,482.7 L1383.7,487.4 L1384.4,491.9 L1385.1,496.0 L1385.8,499.9 L1386.5,503.4 L1387.2,506.5 L1387.9,504.3 L1388.6,501.5 L1389.3,498.2 L1390.0,494.4 L1390.7,490.1 L1391.4,485.6 L1392.1,480.9 L1392.8,476.0 L1393.5,471.3 L1394.2,466.8 L1394.9,462.5 L1395.6,458.7 L1396.3,455.4 L1397.0,452.6 L1397.7,450.4 L1398.4,451.8 L1399.1,453.5 L1399.8,455.5 L1400.5,457.7 L1401.2,460.1 L1402.0,462.7 L1402.7,465.5 L1403.4,468.5 L1404.1,471.6 L1404.8,474.8 L1405.5,478.1 L1406.2,481.4 L1406.9,484.7 L1407.6,488.0 L1408.3,491.2 L1409.0,494.3 L1409.7,497.3 L1410.5,500.1 L1411.2,502.7 L1411.9,505.1 L1412.6,507.3 L1413.3,509.3 L1414.0,511.0 L1414.7,512.4 L1415.4,511.4 L1416.1,510.2 L1416.8,508.8 L1417.5,507.2 L1418.2,505.5 L1419.0,503.6 L1419.7,501.6 L1420.4,499.4 L1421.1,497.2 L1421.8,494.9 L1422.5,492.6 L1423.2,490.2 L1423.9,487.8 L1424.6,485.5 L1425.3,483.2 L1426.0,480.9 L1426.7,478.8 L1427.5,476.8 L1428.2,474.9 L1428.9,473.2 L1429.6,471.6 L1430.3,470.2 L1431.0,469.0 L1431.7,468.0 L1432.4,471.1 L1433.1,475.2 L1433.8,480.0 L1434.5,485.6 L1435.2,491.6 L1435.9,498.0 L1436.7,504.6 L1437.4,511.0 L1438.1,517.0 L1438.8,522.6 L1439.5,527.4 L1440.2,531.5 L1440.9,534.6 L1441.6,532.3 L1442.4,529.3 L1443.1,525.6 L1443.9,521.5 L1444.6,516.9 L1445.4,512.0 L1446.1,506.9 L1446.8,501.8 L1447.6,496.9 L1448.3,492.3 L1449.1,488.2 L1449.8,484.5 L1450.6,481.5 L1451.3,479.2 L1452.0,480.4 L1452.7,481.7 L1453.4,483.3 L1454.1,485.0 L1454.8,487.0 L1455.5,489.1 L1456.2,491.3 L1456.9,493.7 L1457.6,496.2 L1458.3,498.8 L1459.0,501.5 L1459.7,504.2 L1460.4,506.9 L1461.2,509.6 L1461.9,512.3 L1462.6,515.0 L1463.3,517.6 L1464.0,520.1 L1464.7,522.5 L1465.4,524.7 L1466.1,526.8 L1466.8,528.8 L1467.5,530.5 L1468.2,532.1 L1468.9,533.4 L1469.6,534.6 L1470.3,533.7 L1471.1,532.5 L1471.8,531.2 L1472.5,529.6 L1473.2,527.9 L1474.0,526.1 L1474.7,524.1 L1475.4,522.1 L1476.2,520.0 L1476.9,517.9 L1477.6,515.9 L1478.3,513.9 L1479.1,512.1 L1479.8,510.4 L1480.5,508.8 L1481.2,507.5 L1482.0,506.3 L1482.7,505.4 L1483.4,507.2 L1484.2,509.4 L1484.9,512.0 L1485.6,514.9 L1486.3,518.2 L1487.1,521.8 L1487.8,525.5 L1488.5,529.5 L1489.2,533.5 L1490.0,537.4 L1490.7,541.4 L1491.4,545.1 L1492.2,548.7 L1492.9,552.0 L1493.6,554.9 L1494.3,557.5 L1495.1,559.7 L1495.8,561.5 L1496.5,560.5 L1497.2,559.3 L1497.9,557.9 L1498.6,556.3 L1499.3,554.6 L1500.0,552.8 L1500.7,550.8 L1501.4,548.7 L1502.1,546.5 L1502.8,544.2 L1503.5,541.8 L1504.2,539.4 L1504.9,537.0 L1505.7,534.6 L1506.4,532.2 L1507.1,529.8 L1507.8,527.5 L1508.5,525.3 L1509.2,523.2 L1509.9,521.2 L1510.6,519.4 L1511.3,517.7 L1512.0,516.1 L1512.7,514.7 L1513.4,513.5 L1514.1,512.5 L1514.8,515.1 L1515.5,518.3 L1516.2,522.2 L1516.9,526.5 L1517.7,531.3 L1518.4,536.4 L1519.1,541.8 L1519.8,547.2 L1520.5,552.7 L1521.2,558.1 L1521.9,563.2 L1522.7,568.0 L1523.4,572.3 L1524.1,576.2 L1524.8,579.4 L1525.5,582.0 L1526.2,580.2 L1526.9,577.9 L1527.6,575.1 L1528.4,571.9 L1529.1,568.4 L1529.8,564.6 L1530.5,560.6 L1531.2,556.7 L1531.9,552.7 L1532.6,548.9 L1533.3,545.4 L1534.1,542.2 L1534.8,539.4 L1535.5,537.1 L1536.2,535.3 L1536.9,536.6 L1537.6,538.3 L1538.3,540.3 L1539.0,542.5 L1539.7,544.9 L1540.4,547.6 L1541.1,550.5 L1541.8,553.4 L1542.5,556.5 L1543.3,559.5 L1544.0,562.6 L1544.7,565.5 L1545.4,568.4 L1546.1,571.1 L1546.8,573.5 L1547.5,575.7 L1548.2,577.7 L1548.9,579.4 L1549.6,580.7 L1550.3,580.0 L1551.0,579.2 L1551.7,578.2 L1552.4,577.1 L1553.2,575.8 L1553.9,574.5 L1554.6,573.1 L1555.3,571.6 L1556.0,570.0 L1556.7,568.5 L1557.4,567.0 L1558.1,565.6 L1558.8,564.3 L1559.6,563.0 L1560.3,561.9 L1561.0,560.9 L1561.7,560.1 L1562.4,559.4 L1563.1,560.6 L1563.8,562.1 L1564.5,563.8 L1565.2,565.7 L1565.9,567.8 L1566.7,570.1 L1567.4,572.6 L1568.1,575.2 L1568.8,577.9 L1569.5,580.7 L1570.2,583.5 L1570.9,586.4 L1571.6,589.2 L1572.3,592.0 L1573.0,594.7 L1573.7,597.3 L1574.4,599.8 L1575.2,602.1 L1575.9,604.2 L1576.6,606.1 L1577.3,607.8 L1578.0,609.3 L1578.7,610.5 L1579.4,609.3 L1580.1,607.7 L1580.8,605.9 L1581.5,603.9 L1582.3,601.6 L1583.0,599.1 L1583.7,596.5 L1584.4,593.8 L1585.1,591.0 L1585.8,588.1 L1586.5,585.3 L1587.2,582.6 L1587.9,580.0 L1588.6,577.5 L1589.4,575.2 L1590.1,573.2 L1590.8,571.4 L1591.5,569.8 L1592.2,568.6 L1592.9,570.0 L1593.6,571.6 L1594.3,573.5 L1595.0,575.8 L1595.8,578.2 L1596.5,580.8 L1597.2,583.7 L1597.9,586.6 L1598.6,589.7 L1599.3,592.8 L1600.0,595.9 L1600.7,599.0 L1601.4,601.9 L1602.1,604.8 L1602.9,607.4 L1603.6,609.8 L1604.3,612.1 L1605.0,614.0 L1605.7,615.6 L1606.4,617.0 L1607.1,616.7 L1607.8,616.3 L1608.5,615.9 L1609.3,615.4 L1610.0,614.9 L1610.7,614.3 L1611.4,613.7 L1612.1,613.0 L1612.8,612.3 L1613.6,611.7 L1614.3,611.0 L1615.0,610.3 L1615.7,609.7 L1616.4,609.1 L1617.1,608.6 L1617.9,608.1 L1618.6,607.7 L1619.3,607.3 L1620.0,607.0 L1620.7,607.6 L1621.4,608.4 L1622.1,609.3 L1622.8,610.4 L1623.5,611.6 L1624.2,612.9 L1624.9,614.2 L1625.6,615.6 L1626.3,617.0 L1627.0,618.4 L1627.7,619.7 L1628.4,621.0 L1629.1,622.2 L1629.8,623.3 L1630.5,624.2 L1631.2,625.0 L1631.9,625.6 L1632.6,625.5 L1633.3,625.4 L1634.1,625.3 L1634.8,625.2 L1635.5,625.1 L1636.2,625.0 L1636.9,624.8 L1637.7,624.7 L1638.4,624.5 L1639.1,624.4 L1639.8,624.2 L1640.5,624.1 L1641.2,623.9 L1642.0,623.8 L1642.7,623.6 L1643.4,623.5 L1644.1,623.4 L1644.8,623.3 L1645.6,623.2 L1646.3,623.1 L1647.0,623.0 L1647.7,623.9 L1648.5,624.9 L1649.2,626.2 L1649.9,627.6 L1650.7,629.1 L1651.4,630.8 L1652.1,632.6 L1652.9,634.5 L1653.6,636.4 L1654.3,638.5 L1655.0,640.5 L1655.8,642.5 L1656.5,644.6 L1657.2,646.5 L1658.0,648.4 L1658.7,650.2 L1659.4,651.9 L1660.2,653.4 L1660.9,654.8 L1661.6,656.1 L1662.4,657.1 L1663.1,658.0 L1663.8,657.9 L1664.5,657.7 L1665.2,657.5 L1665.9,657.3 L1666.7,657.1 L1667.4,656.9 L1668.1,656.7 L1668.8,656.4 L1669.5,656.1 L1670.2,655.9 L1670.9,655.6 L1671.6,655.3 L1672.3,655.0 L1673.1,654.6 L1673.8,654.3 L1674.5,654.0 L1675.2,653.7 L1675.9,653.3 L1676.6,653.0 L1677.3,652.7 L1678.0,652.4 L1678.8,652.0 L1679.5,651.7 L1680.2,651.4 L1680.9,651.1 L1681.6,650.9 L1682.3,650.6 L1683.0,650.3 L1683.7,650.1 L1684.4,649.9 L1685.2,649.7 L1685.9,649.5 L1686.6,649.3 L1687.3,649.1 L1688.0,649.0 L1688.7,649.4 L1689.4,649.9 L1690.1,650.4 L1690.8,650.9 L1691.5,651.5 L1692.2,652.2 L1692.9,652.9 L1693.7,653.6 L1694.4,654.3 L1695.1,655.1 L1695.8,655.9 L1696.5,656.8 L1697.2,657.7 L1697.9,658.6 L1698.6,659.5 L1699.3,660.5 L1700.0,661.5 L1700.7,662.5 L1701.4,663.5 L1702.1,664.5 L1702.8,665.5 L1703.6,666.5 L1704.3,667.5 L1705.0,668.5 L1705.7,669.5 L1706.4,670.5 L1707.1,671.5 L1707.8,672.5 L1708.5,673.4 L1709.2,674.3 L1709.9,675.2 L1710.6,676.1 L1711.3,676.9 L1712.0,677.7 L1712.7,678.4 L1713.5,679.1 L1714.2,679.8 L1714.9,680.5 L1715.6,681.1 L1716.3,681.6 L1717.0,682.1 L1717.7,682.6 L1718.4,683.0 L1719.1,682.6 L1719.8,682.0 L1720.5,681.4 L1721.2,680.7 L1721.9,679.9 L1722.7,679.1 L1723.4,678.2 L1724.1,677.2 L1724.8,676.2 L1725.5,675.2 L1726.2,674.1 L1726.9,673.1 L1727.6,672.1 L1728.3,671.1 L1729.0,670.1 L1729.7,669.2 L1730.5,668.4 L1731.2,667.6 L1731.9,666.9 L1732.6,666.3 L1733.3,665.7 L1734.0,665.3 L1734.7,666.6 L1735.4,668.1 L1736.1,669.9 L1736.8,672.0 L1737.5,674.3 L1738.3,676.8 L1739.0,679.4 L1739.7,682.2 L1740.4,685.1 L1741.1,688.0 L1741.8,690.9 L1742.5,693.8 L1743.2,696.6 L1743.9,699.2 L1744.7,701.7 L1745.4,704.0 L1746.1,706.1 L1746.8,707.9 L1747.5,709.4 L1748.2,710.7 L1748.9,710.1 L1749.6,709.3 L1750.3,708.3 L1751.0,707.2 L1751.7,706.0 L1752.5,704.7 L1753.2,703.5 L1753.9,702.4 L1754.6,701.4 L1755.3,700.6 L1756.0,700.0"/>
<path stroke="#ff00ff" d="M261.5,1231.0 L265.5,1230.3 L269.6,1229.7 L273.6,1229.0 L277.6,1228.4 L281.7,1227.7 L285.7,1227.1 L289.7,1226.4 L293.8,1225.7 L297.8,1225.1 L301.9,1224.4 L305.9,1223.7 L309.9,1223.1 L314.0,1222.4 L318.0,1221.8 L322.0,1221.1 L326.1,1220.4 L330.1,1219.7 L334.1,1219.1 L338.2,1218.4 L342.2,1217.7 L346.2,1217.1 L350.3,1216.4 L354.3,1215.7 L358.3,1215.0 L362.4,1214.4 L366.4,1213.7 L370.4,1213.1 L374.5,1212.4 L378.5,1211.7 L382.6,1211.1 L386.6,1210.4 L390.6,1209.8 L394.7,1209.1 L398.7,1208.4 L402.7,1207.8 L406.8,1207.1 L410.8,1206.4 L414.8,1205.7 L418.9,1205.1 L422.9,1204.4 L426.9,1203.7 L431.0,1202.9 L435.0,1202.2 L439.0,1201.5 L443.1,1200.8 L447.1,1200.0 L451.1,1199.2 L455.2,1198.5 L459.2,1197.7 L463.2,1196.9 L467.3,1196.1 L471.3,1195.3 L475.4,1194.5 L479.4,1193.6 L483.4,1192.8 L487.5,1191.9 L491.5,1191.0 L495.5,1190.1 L499.6,1189.1 L503.6,1188.1 L507.6,1187.1 L511.7,1186.1 L515.7,1185.0 L519.7,1183.9 L523.8,1182.8 L527.8,1181.7 L531.8,1180.5 L535.9,1179.3 L539.9,1178.0 L544.0,1176.8 L548.0,1175.4 L552.0,1174.1 L556.1,1172.7 L560.1,1171.2 L564.1,1169.6 L568.2,1168.0 L572.2,1166.4 L576.2,1164.7 L580.3,1162.9 L584.3,1161.2 L588.3,1159.4 L592.4,1157.5 L596.4,1155.7 L600.4,1153.8 L604.5,1151.8 L608.5,1149.9 L612.5,1147.9 L616.6,1145.8 L620.6,1143.7 L624.7,1141.6 L628.7,1139.4 L632.7,1137.2 L636.8,1135.0 L640.8,1132.7 L644.8,1130.4 L648.9,1128.1 L652.9,1125.7 L656.9,1123.3 L661.0,1120.9 L665.0,1118.4 L669.0,1115.9 L673.1,1113.2 L677.1,1110.6 L681.1,1107.8 L685.2,1105.0 L689.2,1102.2 L693.2,1099.3 L697.3,1096.4 L701.3,1093.4 L705.4,1090.4 L709.4,1087.3 L713.4,1084.1 L717.5,1080.9 L721.5,1077.6 L725.5,1074.3 L729.6,1070.9 L733.6,1067.6 L737.6,1064.1 L741.7,1060.7 L745.7,1057.3 L749.7,1053.8 L753.8,1050.3 L757.8,1046.8 L761.8,1043.2 L765.9,1039.5 L769.9,1035.7 L773.9,1031.9 L778.0,1027.8 L782.0,1023.6 L786.1,1019.3 L790.1,1014.9 L794.1,1010.4 L798.2,1005.9 L802.2,1001.3 L806.2,996.7 L810.3,992.0 L814.3,987.2 L818.3,982.3 L822.4,977.4 L826.4,972.4 L834.2,956.8 L837.5,952.6 L840.2,950.0 L844.0,945.0 L847.5,941.2 L850.5,938.9 L853.8,935.2 L855.9,927.5 L857.7,921.5 L860.5,916.2 L863.6,909.7 L865.2,906.9 L869.2,901.6 L871.4,898.0 L874.9,893.5 L878.1,890.4 L881.2,886.2 L883.6,881.2 L888.4,873.6 L891.0,868.6 L893.3,862.1 L896.9,852.9 L900.0,845.3 L902.8,837.2 L905.2,833.7 L908.9,831.8 L910.6,829.4 L912.7,824.3 L915.9,819.7 L918.5,813.7 L921.1,807.8 L924.4,804.2 L927.4,797.9 L930.1,789.7 L933.3,782.2 L935.8,779.7 L939.4,771.1 L941.1,770.4 L942.7,764.5 L945.0,752.8 L948.5,745.2 L950.9,745.5 L954.8,737.1 L957.0,733.5 L960.6,737.0 L962.6,733.2 L964.9,720.3 L966.6,715.6 L968.3,712.7 L970.5,703.8 L972.6,698.9 L976.7,701.6 L980.3,696.0 L982.3,684.5 L984.2,680.3 L986.0,676.4 L988.1,666.6 L990.8,657.9 L994.0,652.9 L996.6,660.4 L999.9,660.7 L1002.0,648.6 L1005.8,641.1 L1007.8,640.9 L1009.7,633.3 L1013.3,620.0 L1015.6,617.6 L1017.7,621.8 L1020.7,603.3 L1023.4,605.8 L1025.4,594.1 L1027.1,599.0 L1031.1,583.1 L1033.2,586.2 L1034.9,586.7 L1037.1,570.5 L1040.2,554.1 L1043.0,551.0 L1045.9,565.5 L1049.2,556.9 L1051.2,544.9 L1054.0,561.0 L1057.4,540.4 L1059.6,547.8 L1060.9,533.4 L1064.7,540.5 L1067.5,525.6 L1070.4,505.3 L1072.7,511.2 L1076.0,511.1 L1077.9,496.8 L1081.9,482.2 L1084.5,488.9 L1087.2,488.8 L1091.0,473.2 L1093.3,460.8 L1094.9,465.5 L1096.8,481.7 L1100.2,488.0 L1102.1,475.8 L1106.7,482.3 L1109.3,468.0 L1110.8,453.0 L1113.2,439.2 L1113.9,433.4 L1114.5,418.5 L1118.5,433.5 L1121.1,450.3 L1123.5,448.6 L1126.9,428.0 L1129.9,426.2 L1131.6,417.7 L1133.4,416.1 L1137.1,427.0 L1139.7,419.7 L1142.0,426.0 L1143.0,422.2 L1144.6,406.6 L1146.5,394.7 L1148.6,386.9 L1149.3,382.8 L1150.1,378.2 L1150.8,372.9 L1151.5,367.0 L1152.2,360.7 L1153.0,354.0 L1153.7,347.1 L1154.4,339.9 L1155.2,332.7 L1155.9,325.5 L1156.6,318.6 L1157.4,311.9 L1158.1,305.6 L1158.8,299.7 L1159.5,294.4 L1160.3,289.8 L1161.0,285.7 L1161.8,292.0 L1162.5,299.4 L1163.3,307.8 L1164.0,317.0 L1164.8,326.8 L1165.5,337.0 L1166.3,347.3 L1167.0,357.5 L1167.8,367.3 L1168.5,376.5 L1169.3,384.9 L1170.0,392.3 L1170.8,398.6 L1171.5,397.6 L1172.3,396.3 L1173.0,394.7 L1173.8,392.9 L1174.5,391.0 L1175.2,388.8 L1176.0,386.6 L1176.7,384.3 L1177.4,382.0 L1178.2,379.8 L1178.9,377.6 L1179.6,375.7 L1180.4,373.9 L1181.1,372.3 L1181.9,371.0 L1182.6,370.0 L1183.3,371.7 L1184.0,373.7 L1184.8,376.1 L1185.5,378.9 L1186.2,382.0 L1186.9,385.3 L1187.7,388.8 L1188.4,392.5 L1189.1,396.2 L1189.8,400.0 L1190.5,403.7 L1191.3,407.2 L1192.0,410.5 L1192.7,413.6 L1193.4,416.4 L1194.2,418.8 L1194.9,420.8 L1195.6,422.5 L1196.3,417.7 L1197.0,412.0 L1197.7,405.4 L1198.4,398.1 L1199.1,390.2 L1199.8,381.9 L1200.5,373.4 L1201.2,364.8 L1201.9,356.5 L1202.6,348.6 L1203.3,341.3 L1204.0,334.7 L1204.7,329.0 L1205.4,324.2 L1206.1,327.2 L1206.8,330.4 L1207.5,333.9 L1208.2,337.6 L1208.9,341.5 L1209.6,345.7 L1210.3,350.0 L1211.0,354.6 L1211.7,359.2 L1212.4,364.1 L1213.1,369.0 L1213.8,374.0 L1214.5,379.0 L1215.3,384.0 L1216.0,389.0 L1216.7,394.0 L1217.4,398.9 L1218.1,403.8 L1218.8,408.4 L1219.5,413.0 L1220.2,417.3 L1220.9,421.5 L1221.6,425.4 L1222.3,429.1 L1223.0,432.6 L1223.7,435.8 L1224.4,438.8 L1225.1,433.5 L1225.8,426.9 L1226.6,419.0 L1227.3,410.2 L1228.0,400.7 L1228.7,391.1 L1229.4,381.6 L1230.1,372.8 L1230.9,364.9 L1231.6,358.3 L1232.3,353.0 L1233.0,354.9 L1233.7,357.0 L1234.4,359.5 L1235.1,362.2 L1235.8,365.2 L1236.5,368.4 L1237.3,371.8 L1238.0,375.4 L1238.7,379.1 L1239.4,383.0 L1240.1,386.9 L1240.8,390.9 L1241.5,394.8 L1242.2,398.7 L1242.9,402.6 L1243.6,406.3 L1244.3,409.9 L1245.0,413.3 L1245.8,416.5 L1246.5,419.5 L1247.2,422.2 L1247.9,424.7 L1248.6,426.8 L1249.3,428.7 L1250.0,426.0 L1250.7,422.4 L1251.4,418.0 L1252.1,413.0 L1252.8,407.5 L1253.5,401.7 L1254.2,395.7 L1254.9,389.9 L1255.6,384.4 L1256.3,379.4 L1257.0,375.0 L1257.7,371.4 L1258.4,368.7 L1259.1,371.0 L1259.8,373.7 L1260.5,376.8 L1261.3,380.1 L1262.0,383.8 L1262.7,387.7 L1263.4,391.9 L1264.1,396.3 L1264.8,400.8 L1265.5,405.5 L1266.2,410.1 L1267.0,414.8 L1267.7,419.5 L1268.4,424.0 L1269.1,428.4 L1269.8,432.6 L1270.5,436.5 L1271.2,440.2 L1272.0,443.5 L1272.7,446.6 L1273.4,449.3 L1274.1,451.6 L1274.8,448.0 L1275.6,443.8 L1276.3,438.9 L1277.0,433.5 L1277.8,427.5 L1278.5,421.2 L1279.3,414.6 L1280.0,407.9 L1280.7,401.1 L1281.5,394.5 L1282.2,388.2 L1283.0,382.2 L1283.7,376.8 L1284.4,371.9 L1285.2,367.7 L1285.9,364.1 L1286.6,366.4 L1287.3,369.1 L1288.0,372.2 L1288.7,375.7 L1289.4,379.5 L1290.1,383.7 L1290.8,388.0 L1291.5,392.6 L1292.2,397.3 L1293.0,402.1 L1293.7,406.8 L1294.4,411.5 L1295.1,416.1 L1295.8,420.4 L1296.5,424.6 L1297.2,428.4 L1297.9,431.9 L1298.6,435.0 L1299.3,437.7 L1300.0,440.0 L1300.7,439.6 L1301.4,439.0 L1302.1,438.4 L1302.9,437.6 L1303.6,436.8 L1304.3,435.9 L1305.0,435.0 L1305.7,434.1 L1306.4,433.2 L1307.1,432.4 L1307.9,431.6 L1308.6,431.0 L1309.3,430.4 L1310.0,430.0 L1310.7,430.3 L1311.4,430.8 L1312.1,431.3 L1312.8,431.8 L1313.5,432.5 L1314.2,433.2 L1314.9,433.9 L1315.6,434.6 L1316.4,435.4 L1317.1,436.1 L1317.8,436.8 L1318.5,437.5 L1319.2,438.2 L1319.9,438.7 L1320.6,439.2 L1321.3,439.7 L1322.0,440.0 L1322.7,439.4 L1323.4,438.7 L1324.1,437.9 L1324.8,436.9 L1325.5,435.9 L1326.2,434.7 L1326.9,433.5 L1327.6,432.3 L1328.3,430.9 L1329.0,429.6 L1329.8,428.2 L1330.5,426.8 L1331.2,425.5 L1331.9,424.1 L1332.6,422.9 L1333.3,421.7 L1334.0,420.5 L1334.7,419.5 L1335.4,418.5 L1336.1,417.7 L1336.8,417.0 L1337.5,416.4 L1338.2,417.7 L1338.9,419.1 L1339.6,420.8 L1340.3,422.7 L1341.0,424.8 L1341.7,427.1 L1342.5,429.5 L1343.2,432.1 L1343.9,434.8 L1344.6,437.6 L1345.3,440.5 L1346.0,443.4 L1346.7,446.4 L1347.4,449.4 L1348.1,452.3 L1348.8,455.2 L1349.5,458.0 L1350.2,460.7 L1350.9,463.3 L1351.7,465.7 L1352.4,468.0 L1353.1,470.1 L1353.8,472.0 L1354.5,473.7 L1355.2,475.1 L1355.9,476.4 L1356.6,475.0 L1357.3,473.4 L1358.1,471.4 L1358.8,469.1 L1359.5,466.6 L1360.2,463.9 L1361.0,461.0 L1361.7,458.0 L1362.4,454.9 L1363.1,451.8 L1363.8,448.8 L1364.6,445.9 L1365.3,443.2 L1366.0,440.7 L1366.7,438.4 L1367.5,436.4 L1368.2,434.8 L1368.9,433.4 L1369.6,434.9 L1370.4,436.7 L1371.1,438.8 L1371.8,441.3 L1372.5,444.0 L1373.3,447.0 L1374.0,450.1 L1374.7,453.4 L1375.5,456.7 L1376.2,460.0 L1376.9,463.3 L1377.6,466.4 L1378.4,469.4 L1379.1,472.1 L1379.8,474.6 L1380.5,476.7 L1381.3,478.5 L1382.0,480.0 L1382.7,479.2 L1383.4,478.2 L1384.2,477.1 L1384.9,475.8 L1385.6,474.3 L1386.3,472.7 L1387.1,471.0 L1387.8,469.3 L1388.5,467.5 L1389.2,465.7 L1389.9,464.0 L1390.7,462.3 L1391.4,460.7 L1392.1,459.2 L1392.8,457.9 L1393.6,456.8 L1394.3,455.8 L1395.0,455.0 L1395.7,455.9 L1396.4,456.9 L1397.2,458.1 L1397.9,459.5 L1398.6,461.0 L1399.3,462.7 L1400.0,464.5 L1400.7,466.3 L1401.5,468.3 L1402.2,470.2 L1402.9,472.2 L1403.6,474.3 L1404.3,476.2 L1405.1,478.2 L1405.8,480.0 L1406.5,481.8 L1407.2,483.5 L1407.9,485.0 L1408.6,486.4 L1409.4,487.6 L1410.1,488.6 L1410.8,489.5 L1411.5,488.3 L1412.3,486.8 L1413.0,485.0 L1413.8,482.9 L1414.5,480.6 L1415.2,478.2 L1416.0,475.6 L1416.7,472.9 L1417.4,470.2 L1418.2,467.6 L1418.9,465.2 L1419.6,462.9 L1420.4,460.8 L1421.1,459.0 L1421.9,457.5 L1422.6,456.3 L1423.3,458.2 L1424.0,460.4 L1424.7,463.0 L1425.5,465.9 L1426.2,469.0 L1426.9,472.4 L1427.6,476.0 L1428.3,479.8 L1429.0,483.8 L1429.7,487.8 L1430.4,491.9 L1431.2,496.0 L1431.9,500.0 L1432.6,504.0 L1433.3,507.8 L1434.0,511.4 L1434.7,514.8 L1435.4,517.9 L1436.2,520.8 L1436.9,523.4 L1437.6,525.6 L1438.3,527.5 L1439.0,525.7 L1439.8,523.3 L1440.5,520.4 L1441.3,517.1 L1442.0,513.5 L1442.8,509.6 L1443.5,505.6 L1444.2,501.7 L1445.0,497.8 L1445.7,494.2 L1446.5,490.9 L1447.2,488.0 L1448.0,485.6 L1448.7,483.8 L1449.4,484.9 L1450.2,486.4 L1450.9,488.0 L1451.7,489.9 L1452.4,492.1 L1453.1,494.4 L1453.9,496.8 L1454.6,499.3 L1455.3,501.9 L1456.1,504.5 L1456.8,507.0 L1457.6,509.4 L1458.3,511.7 L1459.0,513.9 L1459.8,515.8 L1460.5,517.4 L1461.3,518.9 L1462.0,520.0 L1462.7,519.5 L1463.4,518.9 L1464.2,518.2 L1464.9,517.5 L1465.6,516.6 L1466.3,515.6 L1467.1,514.6 L1467.8,513.6 L1468.5,512.5 L1469.2,511.4 L1469.9,510.4 L1470.7,509.4 L1471.4,508.4 L1472.1,507.5 L1472.8,506.8 L1473.6,506.1 L1474.3,505.5 L1475.0,505.0 L1475.7,506.1 L1476.4,507.5 L1477.1,509.1 L1477.9,510.9 L1478.6,512.9 L1479.3,515.1 L1480.0,517.5 L1480.7,519.9 L1481.4,522.4 L1482.2,525.0 L1482.9,527.6 L1483.6,530.1 L1484.3,532.5 L1485.0,534.9 L1485.7,537.1 L1486.4,539.1 L1487.2,540.9 L1487.9,542.5 L1488.6,543.9 L1489.3,545.0 L1490.0,543.8 L1490.8,542.3 L1491.5,540.6 L1492.2,538.6 L1493.0,536.4 L1493.7,534.0 L1494.4,531.5 L1495.2,528.8 L1495.9,526.1 L1496.6,523.5 L1497.4,520.8 L1498.1,518.3 L1498.8,515.9 L1499.6,513.7 L1500.3,511.7 L1501.0,510.0 L1501.8,508.5 L1502.5,507.3 L1503.2,508.4 L1503.9,509.8 L1504.7,511.3 L1505.4,513.0 L1506.1,514.8 L1506.8,516.9 L1507.6,519.1 L1508.3,521.4 L1509.0,523.8 L1509.7,526.3 L1510.5,528.9 L1511.2,531.5 L1511.9,534.1 L1512.6,536.8 L1513.3,539.4 L1514.1,542.0 L1514.8,544.5 L1515.5,546.9 L1516.2,549.2 L1517.0,551.4 L1517.7,553.5 L1518.4,555.3 L1519.1,557.0 L1519.9,558.5 L1520.6,559.9 L1521.3,561.0 L1522.0,560.5 L1522.7,559.9 L1523.5,559.3 L1524.2,558.5 L1524.9,557.6 L1525.6,556.7 L1526.3,555.7 L1527.1,554.6 L1527.8,553.5 L1528.5,552.5 L1529.2,551.4 L1530.0,550.3 L1530.7,549.3 L1531.4,548.4 L1532.1,547.5 L1532.8,546.7 L1533.6,546.1 L1534.3,545.5 L1535.0,545.0 L1535.7,545.9 L1536.4,547.1 L1537.2,548.5 L1537.9,550.1 L1538.6,551.8 L1539.3,553.8 L1540.1,555.8 L1540.8,557.9 L1541.5,560.0 L1542.2,562.1 L1542.9,564.2 L1543.7,566.2 L1544.4,568.2 L1545.1,569.9 L1545.8,571.5 L1546.6,572.9 L1547.3,574.1 L1548.0,575.0 L1548.7,574.7 L1549.4,574.2 L1550.1,573.7 L1550.8,573.2 L1551.5,572.5 L1552.2,571.8 L1552.9,571.1 L1553.6,570.4 L1554.4,569.6 L1555.1,568.9 L1555.8,568.2 L1556.5,567.5 L1557.2,566.8 L1557.9,566.3 L1558.6,565.8 L1559.3,565.3 L1560.0,565.0 L1560.7,565.9 L1561.5,567.0 L1562.2,568.3 L1562.9,569.8 L1563.6,571.5 L1564.4,573.3 L1565.1,575.2 L1565.8,577.3 L1566.5,579.3 L1567.3,581.4 L1568.0,583.4 L1568.7,585.5 L1569.4,587.4 L1570.2,589.2 L1570.9,590.9 L1571.6,592.4 L1572.3,593.7 L1573.1,594.8 L1573.8,595.7 L1574.5,595.0 L1575.2,594.3 L1575.9,593.3 L1576.6,592.3 L1577.3,591.2 L1578.1,589.9 L1578.8,588.6 L1579.5,587.2 L1580.2,585.8 L1580.9,584.3 L1581.6,582.8 L1582.3,581.2 L1583.0,579.7 L1583.7,578.3 L1584.4,576.9 L1585.1,575.6 L1585.9,574.3 L1586.6,573.2 L1587.3,572.2 L1588.0,571.2 L1588.7,570.5 L1589.4,569.8 L1590.1,570.7 L1590.8,571.8 L1591.5,573.1 L1592.2,574.5 L1592.9,576.0 L1593.6,577.7 L1594.3,579.5 L1595.0,581.4 L1595.7,583.5 L1596.4,585.5 L1597.1,587.7 L1597.8,589.8 L1598.6,592.0 L1599.3,594.1 L1600.0,596.3 L1600.7,598.3 L1601.4,600.4 L1602.1,602.3 L1602.8,604.1 L1603.5,605.8 L1604.2,607.3 L1604.9,608.7 L1605.6,610.0 L1606.3,611.1 L1607.0,612.0 L1607.7,611.6 L1608.4,611.1 L1609.1,610.5 L1609.9,609.8 L1610.6,609.0 L1611.3,608.2 L1612.0,607.3 L1612.7,606.4 L1613.4,605.5 L1614.1,604.5 L1614.9,603.5 L1615.6,602.5 L1616.3,601.6 L1617.0,600.7 L1617.7,599.8 L1618.4,599.0 L1619.1,598.2 L1619.9,597.5 L1620.6,596.9 L1621.3,596.4 L1622.0,596.0 L1622.7,596.8 L1623.4,597.8 L1624.1,599.1 L1624.9,600.5 L1625.6,602.1 L1626.3,603.8 L1627.0,605.5 L1627.7,607.2 L1628.4,608.9 L1629.1,610.5 L1629.9,611.9 L1630.6,613.2 L1631.3,614.2 L1632.0,615.0 L1632.7,614.6 L1633.4,614.2 L1634.1,613.6 L1634.8,613.0 L1635.5,612.2 L1636.2,611.5 L1636.9,610.8 L1637.6,610.0 L1638.3,609.4 L1639.0,608.8 L1639.7,608.4 L1640.4,608.0 L1641.1,608.9 L1641.8,610.0 L1642.5,611.3 L1643.2,612.7 L1644.0,614.3 L1644.7,616.0 L1645.4,617.8 L1646.1,619.7 L1646.8,621.7 L1647.5,623.8 L1648.2,625.9 L1648.9,628.1 L1649.7,630.3 L1650.4,632.5 L1651.1,634.7 L1651.8,636.8 L1652.5,638.9 L1653.2,640.9 L1653.9,642.8 L1654.6,644.6 L1655.3,646.3 L1656.1,647.9 L1656.8,649.3 L1657.5,650.6 L1658.2,651.7 L1658.9,652.6 L1659.6,652.3 L1660.3,652.0 L1661.0,651.6 L1661.7,651.1 L1662.4,650.7 L1663.1,650.1 L1663.8,649.6 L1664.5,649.0 L1665.2,648.4 L1665.9,647.8 L1666.6,647.1 L1667.3,646.4 L1668.0,645.7 L1668.7,645.0 L1669.5,644.3 L1670.2,643.6 L1670.9,642.9 L1671.6,642.2 L1672.3,641.5 L1673.0,640.8 L1673.7,640.2 L1674.4,639.6 L1675.1,639.0 L1675.8,638.5 L1676.5,637.9 L1677.2,637.5 L1677.9,637.0 L1678.6,636.6 L1679.3,636.3 L1680.0,636.0 L1680.7,636.5 L1681.4,637.0 L1682.1,637.6 L1682.8,638.3 L1683.6,639.0 L1684.3,639.8 L1685.0,640.6 L1685.7,641.5 L1686.4,642.4 L1687.1,643.3 L1687.8,644.3 L1688.5,645.3 L1689.3,646.4 L1690.0,647.5 L1690.7,648.6 L1691.4,649.7 L1692.1,650.9 L1692.8,652.1 L1693.5,653.2 L1694.2,654.4 L1695.0,655.6 L1695.7,656.9 L1696.4,658.1 L1697.1,659.2 L1697.8,660.4 L1698.5,661.6 L1699.2,662.7 L1699.9,663.8 L1700.6,664.9 L1701.4,666.0 L1702.1,667.0 L1702.8,668.0 L1703.5,668.9 L1704.2,669.8 L1704.9,670.7 L1705.6,671.5 L1706.3,672.3 L1707.1,673.0 L1707.8,673.7 L1708.5,674.3 L1709.2,674.8 L1709.9,675.3 L1710.6,674.9 L1711.3,674.5 L1712.0,674.0 L1712.7,673.4 L1713.5,672.8 L1714.2,672.1 L1714.9,671.3 L1715.6,670.5 L1716.3,669.7 L1717.0,668.9 L1717.7,668.1 L1718.4,667.3 L1719.1,666.5 L1719.8,665.7 L1720.5,665.0 L1721.3,664.4 L1722.0,663.8 L1722.7,663.3 L1723.4,662.9 L1724.1,662.5 L1724.8,663.2 L1725.5,663.9 L1726.2,664.7 L1726.9,665.7 L1727.6,666.7 L1728.4,667.8 L1729.1,669.0 L1729.8,670.2 L1730.5,671.5 L1731.2,672.9 L1731.9,674.4 L1732.6,675.8 L1733.3,677.3 L1734.0,678.9 L1734.7,680.4 L1735.4,682.0 L1736.2,683.6 L1736.9,685.1 L1737.6,686.7 L1738.3,688.2 L1739.0,689.6 L1739.7,691.1 L1740.4,692.5 L1741.1,693.8 L1741.8,695.0 L1742.5,696.2 L1743.3,697.3 L1744.0,698.3 L1744.7,699.3 L1745.4,700.1 L1746.1,700.8 L1746.8,701.5 L1747.5,701.1 L1748.2,700.5 L1748.9,699.8 L1749.6,699.0 L1750.3,698.1 L1751.0,697.2 L1751.8,696.3 L1752.5,695.4 L1753.2,694.5 L1753.9,693.7 L1754.6,693.0 L1755.3,692.4 L1756.0,692.0"/>
<path stroke="#ff00ff" stroke-width="11.2" d="M1148.6,386.9 L1149.3,382.8 L1150.1,378.2 L1150.8,372.9 L1151.5,367.0 L1152.2,360.7 L1153.0,354.0 L1153.7,347.1 L1154.4,339.9 L1155.2,332.7 L1155.9,325.5 L1156.6,318.6 L1157.4,311.9 L1158.1,305.6 L1158.8,299.7 L1159.5,294.4 L1160.3,289.8 L1161.0,285.7 L1161.8,292.0 L1162.5,299.4 L1163.3,307.8 L1164.0,317.0 L1164.8,326.8 L1165.5,337.0 L1166.3,347.3 L1167.0,357.5 L1167.8,367.3 L1168.5,376.5 L1169.3,384.9 L1170.0,392.3 L1170.8,398.6 L1171.5,397.6 L1172.3,396.3 L1173.0,394.7 L1173.8,392.9 L1174.5,391.0 L1175.2,388.8 L1176.0,386.6 L1176.7,384.3 L1177.4,382.0 L1178.2,379.8 L1178.9,377.6 L1179.6,375.7 L1180.4,373.9 L1181.1,372.3 L1181.9,371.0 L1182.6,370.0 L1183.3,371.7 L1184.0,373.7 L1184.8,376.1 L1185.5,378.9 L1186.2,382.0 L1186.9,385.3 L1187.7,388.8 L1188.4,392.5 L1189.1,396.2 L1189.8,400.0 L1190.5,403.7 L1191.3,407.2 L1192.0,410.5 L1192.7,413.6 L1193.4,416.4 L1194.2,418.8 L1194.9,420.8 L1195.6,422.5 L1196.3,417.7 L1197.0,412.0 L1197.7,405.4 L1198.4,398.1 L1199.1,390.2 L1199.8,381.9 L1200.5,373.4 L1201.2,364.8 L1201.9,356.5 L1202.6,348.6 L1203.3,341.3 L1204.0,334.7 L1204.7,329.0 L1205.4,324.2 L1206.1,327.2 L1206.8,330.4 L1207.5,333.9 L1208.2,337.6 L1208.9,341.5 L1209.6,345.7 L1210.3,350.0 L1211.0,354.6 L1211.7,359.2 L1212.4,364.1 L1213.1,369.0 L1213.8,374.0 L1214.5,379.0 L1215.3,384.0 L1216.0,389.0 L1216.7,394.0 L1217.4,398.9 L1218.1,403.8 L1218.8,408.4 L1219.5,413.0 L1220.2,417.3 L1220.9,421.5 L1221.6,425.4 L1222.3,429.1 L1223.0,432.6 L1223.7,435.8 L1224.4,438.8 L1225.1,433.5 L1225.8,426.9 L1226.6,419.0 L1227.3,410.2 L1228.0,400.7 L1228.7,391.1 L1229.4,381.6 L1230.1,372.8 L1230.9,364.9 L1231.6,358.3 L1232.3,353.0 L1233.0,354.9 L1233.7,357.0 L1234.4,359.5 L1235.1,362.2 L1235.8,365.2 L1236.5,368.4 L1237.3,371.8 L1238.0,375.4 L1238.7,379.1 L1239.4,383.0 L1240.1,386.9 L1240.8,390.9 L1241.5,394.8 L1242.2,398.7 L1242.9,402.6 L1243.6,406.3 L1244.3,409.9 L1245.0,413.3 L1245.8,416.5 L1246.5,419.5 L1247.2,422.2 L1247.9,424.7 L1248.6,426.8 L1249.3,428.7 L1250.0,426.0 L1250.7,422.4 L1251.4,418.0 L1252.1,413.0 L1252.8,407.5 L1253.5,401.7 L1254.2,395.7 L1254.9,389.9 L1255.6,384.4 L1256.3,379.4 L1257.0,375.0 L1257.7,371.4 L1258.4,368.7 L1259.1,371.0 L1259.8,373.7 L1260.5,376.8 L1261.3,380.1 L1262.0,383.8 L1262.7,387.7 L1263.4,391.9 L1264.1,396.3 L1264.8,400.8 L1265.5,405.5 L1266.2,410.1 L1267.0,414.8 L1267.7,419.5 L1268.4,424.0 L1269.1,428.4 L1269.8,432.6 L1270.5,436.5 L1271.2,440.2 L1272.0,443.5 L1272.7,446.6 L1273.4,449.3 L1274.1,451.6 L1274.8,448.0 L1275.6,443.8 L1276.3,438.9 L1277.0,433.5 L1277.8,427.5 L1278.5,421.2 L1279.3,414.6 L1280.0,407.9 L1280.7,401.1 L1281.5,394.5 L1282.2,388.2 L1283.0,382.2 L1283.7,376.8 L1284.4,371.9 L1285.2,367.7 L1285.9,364.1 L1286.6,366.4 L1287.3,369.1 L1288.0,372.2 L1288.7,375.7 L1289.4,379.5 L1290.1,383.7 L1290.8,388.0 L1291.5,392.6 L1292.2,397.3 L1293.0,402.1 L1293.7,406.8 L1294.4,411.5 L1295.1,416.1 L1295.8,420.4 L1296.5,424.6 L1297.2,428.4 L1297.9,431.9 L1298.6,435.0 L1299.3,437.7 L1300.0,440.0 L1300.7,439.6 L1301.4,439.0 L1302.1,438.4 L1302.9,437.6 L1303.6,436.8 L1304.3,435.9 L1305.0,435.0 L1305.7,434.1 L1306.4,433.2 L1307.1,432.4 L1307.9,431.6 L1308.6,431.0 L1309.3,430.4 L1310.0,430.0 L1310.7,430.3 L1311.4,430.8 L1312.1,431.3 L1312.8,431.8 L1313.5,432.5 L1314.2,433.2 L1314.9,433.9 L1315.6,434.6 L1316.4,435.4 L1317.1,436.1 L1317.8,436.8 L1318.5,437.5 L1319.2,438.2 L1319.9,438.7 L1320.6,439.2 L1321.3,439.7 L1322.0,440.0 L1322.7,439.4 L1323.4,438.7 L1324.1,437.9 L1324.8,436.9 L1325.5,435.9 L1326.2,434.7 L1326.9,433.5 L1327.6,432.3 L1328.3,430.9 L1329.0,429.6 L1329.8,428.2 L1330.5,426.8 L1331.2,425.5 L1331.9,424.1 L1332.6,422.9 L1333.3,421.7 L1334.0,420.5 L1334.7,419.5 L1335.4,418.5 L1336.1,417.7 L1336.8,417.0 L1337.5,416.4 L1338.2,417.7 L1338.9,419.1 L1339.6,420.8 L1340.3,422.7 L1341.0,424.8 L1341.7,427.1 L1342.5,429.5 L1343.2,432.1 L1343.9,434.8 L1344.6,437.6 L1345.3,440.5 L1346.0,443.4 L1346.7,446.4 L1347.4,449.4 L1348.1,452.3 L1348.8,455.2 L1349.5,458.0 L1350.2,460.7 L1350.9,463.3 L1351.7,465.7 L1352.4,468.0 L1353.1,470.1 L1353.8,472.0 L1354.5,473.7 L1355.2,475.1 L1355.9,476.4 L1356.6,475.0 L1357.3,473.4 L1358.1,471.4 L1358.8,469.1 L1359.5,466.6 L1360.2,463.9 L1361.0,461.0 L1361.7,458.0 L1362.4,454.9 L1363.1,451.8 L1363.8,448.8 L1364.6,445.9 L1365.3,443.2 L1366.0,440.7 L1366.7,438.4 L1367.5,436.4 L1368.2,434.8 L1368.9,433.4 L1369.6,434.9 L1370.4,436.7 L1371.1,438.8 L1371.8,441.3 L1372.5,444.0 L1373.3,447.0 L1374.0,450.1 L1374.7,453.4 L1375.5,456.7 L1376.2,460.0 L1376.9,463.3 L1377.6,466.4 L1378.4,469.4 L1379.1,472.1 L1379.8,474.6 L1380.5,476.7 L1381.3,478.5 L1382.0,480.0 L1382.7,479.2 L1383.4,478.2 L1384.2,477.1 L1384.9,475.8 L1385.6,474.3 L1386.3,472.7 L1387.1,471.0 L1387.8,469.3 L1388.5,467.5 L1389.2,465.7 L1389.9,464.0 L1390.7,462.3 L1391.4,460.7 L1392.1,459.2 L1392.8,457.9 L1393.6,456.8 L1394.3,455.8 L1395.0,455.0 L1395.7,455.9 L1396.4,456.9 L1397.2,458.1 L1397.9,459.5 L1398.6,461.0 L1399.3,462.7 L1400.0,464.5 L1400.7,466.3 L1401.5,468.3 L1402.2,470.2 L1402.9,472.2 L1403.6,474.3 L1404.3,476.2 L1405.1,478.2 L1405.8,480.0 L1406.5,481.8 L1407.2,483.5 L1407.9,485.0 L1408.6,486.4 L1409.4,487.6 L1410.1,488.6 L1410.8,489.5 L1411.5,488.3 L1412.3,486.8 L1413.0,485.0 L1413.8,482.9 L1414.5,480.6 L1415.2,478.2 L1416.0,475.6 L1416.7,472.9 L1417.4,470.2 L1418.2,467.6 L1418.9,465.2 L1419.6,462.9 L1420.4,460.8 L1421.1,459.0 L1421.9,457.5 L1422.6,456.3 L1423.3,458.2 L1424.0,460.4 L1424.7,463.0 L1425.5,465.9 L1426.2,469.0 L1426.9,472.4 L1427.6,476.0 L1428.3,479.8 L1429.0,483.8 L1429.7,487.8 L1430.4,491.9 L1431.2,496.0 L1431.9,500.0 L1432.6,504.0 L1433.3,507.8 L1434.0,511.4 L1434.7,514.8 L1435.4,517.9 L1436.2,520.8 L1436.9,523.4 L1437.6,525.6 L1438.3,527.5 L1439.0,525.7 L1439.8,523.3 L1440.5,520.4 L1441.3,517.1 L1442.0,513.5 L1442.8,509.6 L1443.5,505.6 L1444.2,501.7 L1445.0,497.8 L1445.7,494.2 L1446.5,490.9 L1447.2,488.0 L1448.0,485.6 L1448.7,483.8 L1449.4,484.9 L1450.2,486.4 L1450.9,488.0 L1451.7,489.9 L1452.4,492.1 L1453.1,494.4 L1453.9,496.8 L1454.6,499.3 L1455.3,501.9 L1456.1,504.5 L1456.8,507.0 L1457.6,509.4 L1458.3,511.7 L1459.0,513.9 L1459.8,515.8 L1460.5,517.4 L1461.3,518.9 L1462.0,520.0 L1462.7,519.5 L1463.4,518.9 L1464.2,518.2 L1464.9,517.5 L1465.6,516.6 L1466.3,515.6 L1467.1,514.6 L1467.8,513.6 L1468.5,512.5 L1469.2,511.4 L1469.9,510.4 L1470.7,509.4 L1471.4,508.4 L1472.1,507.5 L1472.8,506.8 L1473.6,506.1 L1474.3,505.5 L1475.0,505.0 L1475.7,506.1 L1476.4,507.5 L1477.1,509.1 L1477.9,510.9 L1478.6,512.9 L1479.3,515.1 L1480.0,517.5 L1480.7,519.9 L1481.4,522.4 L1482.2,525.0 L1482.9,527.6 L1483.6,530.1 L1484.3,532.5 L1485.0,534.9 L1485.7,537.1 L1486.4,539.1 L1487.2,540.9 L1487.9,542.5 L1488.6,543.9 L1489.3,545.0 L1490.0,543.8 L1490.8,542.3 L1491.5,540.6 L1492.2,538.6 L1493.0,536.4 L1493.7,534.0 L1494.4,531.5 L1495.2,528.8 L1495.9,526.1 L1496.6,523.5 L1497.4,520.8 L1498.1,518.3 L1498.8,515.9 L1499.6,513.7 L1500.3,511.7 L1501.0,510.0 L1501.8,508.5 L1502.5,507.3 L1503.2,508.4 L1503.9,509.8 L1504.7,511.3 L1505.4,513.0 L1506.1,514.8 L1506.8,516.9 L1507.6,519.1 L1508.3,521.4 L1509.0,523.8 L1509.7,526.3 L1510.5,528.9 L1511.2,531.5 L1511.9,534.1 L1512.6,536.8 L1513.3,539.4 L1514.1,542.0 L1514.8,544.5 L1515.5,546.9 L1516.2,549.2 L1517.0,551.4 L1517.7,553.5 L1518.4,555.3 L1519.1,557.0 L1519.9,558.5 L1520.6,559.9 L1521.3,561.0 L1522.0,560.5 L1522.7,559.9 L1523.5,559.3 L1524.2,558.5 L1524.9,557.6 L1525.6,556.7 L1526.3,555.7 L1527.1,554.6 L1527.8,553.5 L1528.5,552.5 L1529.2,551.4 L1530.0,550.3 L1530.7,549.3 L1531.4,548.4 L1532.1,547.5 L1532.8,546.7 L1533.6,546.1 L1534.3,545.5 L1535.0,545.0 L1535.7,545.9 L1536.4,547.1 L1537.2,548.5 L1537.9,550.1 L1538.6,551.8 L1539.3,553.8 L1540.1,555.8 L1540.8,557.9 L1541.5,560.0 L1542.2,562.1 L1542.9,564.2 L1543.7,566.2 L1544.4,568.2 L1545.1,569.9 L1545.8,571.5 L1546.6,572.9 L1547.3,574.1 L1548.0,575.0 L1548.7,574.7 L1549.4,574.2 L1550.1,573.7 L1550.8,573.2 L1551.5,572.5 L1552.2,571.8 L1552.9,571.1 L1553.6,570.4 L1554.4,569.6 L1555.1,568.9 L1555.8,568.2 L1556.5,567.5 L1557.2,566.8 L1557.9,566.3 L1558.6,565.8 L1559.3,565.3 L1560.0,565.0 L1560.7,565.9 L1561.5,567.0 L1562.2,568.3 L1562.9,569.8 L1563.6,571.5 L1564.4,573.3 L1565.1,575.2 L1565.8,577.3 L1566.5,579.3 L1567.3,581.4 L1568.0,583.4 L1568.7,585.5 L1569.4,587.4 L1570.2,589.2 L1570.9,590.9 L1571.6,592.4 L1572.3,593.7 L1573.1,594.8 L1573.8,595.7 L1574.5,595.0 L1575.2,594.3 L1575.9,593.3 L1576.6,592.3 L1577.3,591.2 L1578.1,589.9 L1578.8,588.6 L1579.5,587.2 L1580.2,585.8 L1580.9,584.3 L1581.6,582.8 L1582.3,581.2 L1583.0,579.7 L1583.7,578.3 L1584.4,576.9 L1585.1,575.6 L1585.9,574.3 L1586.6,573.2 L1587.3,572.2 L1588.0,571.2 L1588.7,570.5 L1589.4,569.8 L1590.1,570.7 L1590.8,571.8 L1591.5,573.1 L1592.2,574.5 L1592.9,576.0 L1593.6,577.7 L1594.3,579.5 L1595.0,581.4 L1595.7,583.5 L1596.4,585.5 L1597.1,587.7 L1597.8,589.8 L1598.6,592.0 L1599.3,594.1 L1600.0,596.3 L1600.7,598.3 L1601.4,600.4 L1602.1,602.3 L1602.8,604.1 L1603.5,605.8 L1604.2,607.3 L1604.9,608.7 L1605.6,610.0 L1606.3,611.1 L1607.0,612.0 L1607.7,611.6 L1608.4,611.1 L1609.1,610.5 L1609.9,609.8 L1610.6,609.0 L1611.3,608.2 L1612.0,607.3 L1612.7,606.4 L1613.4,605.5 L1614.1,604.5 L1614.9,603.5 L1615.6,602.5 L1616.3,601.6 L1617.0,600.7 L1617.7,599.8 L1618.4,599.0 L1619.1,598.2 L1619.9,597.5 L1620.6,596.9 L1621.3,596.4 L1622.0,596.0 L1622.7,596.8 L1623.4,597.8 L1624.1,599.1 L1624.9,600.5 L1625.6,602.1 L1626.3,603.8 L1627.0,605.5 L1627.7,607.2 L1628.4,608.9 L1629.1,610.5 L1629.9,611.9 L1630.6,613.2 L1631.3,614.2 L1632.0,615.0 L1632.7,614.6 L1633.4,614.2 L1634.1,613.6 L1634.8,613.0 L1635.5,612.2 L1636.2,611.5 L1636.9,610.8 L1637.6,610.0 L1638.3,609.4 L1639.0,608.8 L1639.7,608.4 L1640.4,608.0 L1641.1,608.9 L1641.8,610.0 L1642.5,611.3 L1643.2,612.7 L1644.0,614.3 L1644.7,616.0 L1645.4,617.8 L1646.1,619.7 L1646.8,621.7 L1647.5,623.8 L1648.2,625.9 L1648.9,628.1 L1649.7,630.3 L1650.4,632.5 L1651.1,634.7 L1651.8,636.8 L1652.5,638.9 L1653.2,640.9 L1653.9,642.8 L1654.6,644.6 L1655.3,646.3 L1656.1,647.9 L1656.8,649.3 L1657.5,650.6 L1658.2,651.7 L1658.9,652.6 L1659.6,652.3 L1660.3,652.0 L1661.0,651.6 L1661.7,651.1 L1662.4,650.7 L1663.1,650.1 L1663.8,649.6 L1664.5,649.0 L1665.2,648.4 L1665.9,647.8 L1666.6,647.1 L1667.3,646.4 L1668.0,645.7 L1668.7,645.0 L1669.5,644.3 L1670.2,643.6 L1670.9,642.9 L1671.6,642.2 L1672.3,641.5 L1673.0,640.8 L1673.7,640.2 L1674.4,639.6 L1675.1,639.0 L1675.8,638.5 L1676.5,637.9 L1677.2,637.5 L1677.9,637.0 L1678.6,636.6 L1679.3,636.3 L1680.0,636.0 L1680.7,636.5 L1681.4,637.0 L1682.1,637.6 L1682.8,638.3 L1683.6,639.0 L1684.3,639.8 L1685.0,640.6 L1685.7,641.5 L1686.4,642.4 L1687.1,643.3 L1687.8,644.3 L1688.5,645.3 L1689.3,646.4 L1690.0,647.5 L1690.7,648.6 L1691.4,649.7 L1692.1,650.9 L1692.8,652.1 L1693.5,653.2 L1694.2,654.4 L1695.0,655.6 L1695.7,656.9 L1696.4,658.1 L1697.1,659.2 L1697.8,660.4 L1698.5,661.6 L1699.2,662.7 L1699.9,663.8 L1700.6,664.9 L1701.4,666.0 L1702.1,667.0 L1702.8,668.0 L1703.5,668.9 L1704.2,669.8 L1704.9,670.7 L1705.6,671.5 L1706.3,672.3 L1707.1,673.0 L1707.8,673.7 L1708.5,674.3 L1709.2,674.8 L1709.9,675.3 L1710.6,674.9 L1711.3,674.5 L1712.0,674.0 L1712.7,673.4 L1713.5,672.8 L1714.2,672.1 L1714.9,671.3 L1715.6,670.5 L1716.3,669.7 L1717.0,668.9 L1717.7,668.1 L1718.4,667.3 L1719.1,666.5 L1719.8,665.7 L1720.5,665.0 L1721.3,664.4 L1722.0,663.8 L1722.7,663.3 L1723.4,662.9 L1724.1,662.5 L1724.8,663.2 L1725.5,663.9 L1726.2,664.7 L1726.9,665.7 L1727.6,666.7 L1728.4,667.8 L1729.1,669.0 L1729.8,670.2 L1730.5,671.5 L1731.2,672.9 L1731.9,674.4 L1732.6,675.8 L1733.3,677.3 L1734.0,678.9 L1734.7,680.4 L1735.4,682.0 L1736.2,683.6 L1736.9,685.1 L1737.6,686.7 L1738.3,688.2 L1739.0,689.6 L1739.7,691.1 L1740.4,692.5 L1741.1,693.8 L1741.8,695.0 L1742.5,696.2 L1743.3,697.3 L1744.0,698.3 L1744.7,699.3 L1745.4,700.1 L1746.1,700.8 L1746.8,701.5 L1747.5,701.1 L1748.2,700.5 L1748.9,699.8 L1749.6,699.0 L1750.3,698.1 L1751.0,697.2 L1751.8,696.3 L1752.5,695.4 L1753.2,694.5 L1753.9,693.7 L1754.6,693.0 L1755.3,692.4 L1756.0,692.0"/>
<path stroke="#008000" d="M261.5,1231.4 L265.5,1230.7 L269.6,1230.1 L273.6,1229.4 L277.6,1228.8 L281.7,1228.1 L285.7,1227.5 L289.7,1226.8 L293.8,1226.1 L297.8,1225.5 L301.9,1224.8 L305.9,1224.1 L309.9,1223.5 L314.0,1222.8 L318.0,1222.2 L322.0,1221.5 L326.1,1220.8 L330.1,1220.1 L334.1,1219.5 L338.2,1218.8 L342.2,1218.1 L346.2,1217.5 L350.3,1216.8 L354.3,1216.1 L358.3,1215.4 L362.4,1214.8 L366.4,1214.1 L370.4,1213.5 L374.5,1212.8 L378.5,1212.1 L382.6,1211.5 L386.6,1210.8 L390.6,1210.2 L394.7,1209.5 L398.7,1208.8 L402.7,1208.2 L406.8,1207.5 L410.8,1206.8 L414.8,1206.1 L418.9,1205.5 L422.9,1204.8 L426.9,1204.1 L431.0,1203.3 L435.0,1202.6 L439.0,1201.9 L443.1,1201.2 L447.1,1200.4 L451.1,1199.6 L455.2,1198.9 L459.2,1198.1 L463.2,1197.3 L467.3,1196.5 L471.3,1195.7 L475.4,1194.9 L479.4,1194.0 L483.4,1193.2 L487.5,1192.3 L491.5,1191.4 L495.5,1190.5 L499.6,1189.5 L503.6,1188.5 L507.6,1187.5 L511.7,1186.5 L515.7,1185.4 L519.7,1184.3 L523.8,1183.2 L527.8,1182.1 L531.8,1180.9 L535.9,1179.7 L539.9,1178.4 L544.0,1177.1 L548.0,1175.8 L552.0,1174.4 L556.1,1172.9 L560.1,1171.4 L564.1,1169.8 L568.2,1168.2 L572.2,1166.5 L576.2,1164.8 L580.3,1163.0 L584.3,1161.1 L588.3,1159.2 L592.4,1157.3 L596.4,1155.3 L600.4,1153.3 L604.5,1151.2 L608.5,1149.1 L612.5,1146.9 L616.6,1144.6 L620.6,1142.3 L624.7,1139.9 L628.7,1137.5 L632.7,1135.0 L636.8,1132.4 L640.8,1129.8 L644.8,1127.1 L648.9,1124.4 L652.9,1121.6 L656.9,1118.7 L661.0,1115.8 L665.0,1112.7 L669.0,1109.4 L673.1,1106.0 L677.1,1102.5 L681.1,1098.9 L685.2,1095.2 L689.2,1091.6 L693.2,1087.9 L697.3,1084.4 L701.3,1080.9 L705.4,1077.4 L709.4,1074.0 L713.4,1070.6 L717.5,1067.1 L721.5,1063.6 L725.5,1060.1 L729.6,1056.5 L733.6,1052.9 L737.6,1049.3 L741.7,1045.6 L745.7,1041.7 L749.7,1037.6 L753.8,1033.3 L757.8,1028.7 L761.8,1023.9 L765.9,1018.8 L769.9,1013.5 L773.9,1007.9 L778.0,1002.2 L782.0,995.8 L786.1,989.0 L790.1,982.1 L794.1,975.2 L798.2,968.7 L802.2,962.6 L806.2,956.6 L810.3,950.7 L814.3,944.6 L818.3,938.4 L822.4,932.0 L826.4,925.4 L832.2,909.7 L833.8,903.7 L836.2,896.0 L838.8,894.0 L842.0,889.6 L844.0,888.2 L847.6,882.9 L849.9,878.4 L853.6,869.0 L855.8,864.7 L858.6,863.1 L860.7,860.7 L863.6,849.0 L866.5,835.3 L868.3,829.4 L871.4,823.5 L873.6,824.9 L877.1,823.2 L879.3,825.5 L881.6,819.4 L883.2,811.8 L885.8,798.7 L887.2,793.9 L888.9,794.6 L891.7,790.7 L894.1,792.0 L895.9,774.6 L897.0,762.6 L899.5,761.9 L902.1,768.6 L903.9,768.5 L905.9,758.8 L909.7,748.9 L912.9,742.9 L915.6,733.2 L918.2,725.0 L921.5,719.5 L924.1,712.2 L925.4,701.8 L928.5,694.9 L930.9,702.6 L933.3,696.0 L934.9,684.3 L937.2,678.3 L938.8,677.8 L941.1,666.6 L944.8,650.5 L947.0,648.9 L950.0,650.8 L952.1,636.2 L954.8,637.2 L956.1,639.6 L958.7,623.5 L961.6,612.5 L964.2,624.5 L966.6,609.7 L968.4,589.1 L970.5,590.1 L974.1,590.6 L976.4,574.5 L979.1,555.1 L981.3,552.9 L983.7,572.3 L986.3,556.8 L989.1,570.5 L990.1,572.2 L992.0,551.0 L992.8,527.3 L994.0,531.4 L996.9,548.6 L999.9,539.2 L1002.5,519.4 L1005.8,519.6 L1007.8,528.1 L1009.7,503.4 L1012.1,483.9 L1015.8,488.7 L1017.8,500.0 L1019.5,478.9 L1021.6,462.8 L1024.4,464.3 L1027.1,467.8 L1030.5,445.7 L1032.9,454.5 L1035.0,472.1 L1037.8,474.3 L1040.1,456.1 L1043.9,452.0 L1046.3,452.9 L1047.6,442.2 L1050.0,427.6 L1051.8,423.2 L1055.4,436.8 L1057.4,430.0 L1059.7,418.7 L1062.2,417.8 L1065.2,413.6 L1067.1,405.6 L1069.6,397.4 L1072.9,395.9 L1075.3,405.5 L1078.1,402.7 L1080.7,398.6 L1084.3,399.5 L1086.1,401.8 L1088.8,391.4 L1091.6,392.1 L1093.4,395.2 L1096.2,386.3 L1098.9,389.7 L1102.0,383.3 L1103.8,375.0 L1105.5,365.9 L1107.5,362.8 L1111.0,359.9 L1113.6,354.2 L1114.3,344.8 L1115.0,332.2 L1115.7,317.3 L1116.4,301.6 L1117.1,286.7 L1117.8,274.1 L1118.5,264.7 L1119.2,284.3 L1120.0,307.9 L1120.8,333.9 L1121.5,360.0 L1122.2,383.6 L1123.0,403.2 L1123.7,401.2 L1124.4,398.7 L1125.1,395.7 L1125.8,392.2 L1126.5,388.4 L1127.2,384.2 L1127.9,379.9 L1128.6,375.4 L1129.3,371.0 L1130.0,366.7 L1130.7,362.5 L1131.4,358.7 L1132.1,355.2 L1132.8,352.2 L1133.5,349.7 L1134.2,347.7 L1134.9,348.7 L1135.6,350.0 L1136.3,351.4 L1137.0,353.0 L1137.7,354.8 L1138.5,356.8 L1139.2,358.8 L1139.9,361.0 L1140.6,363.3 L1141.3,365.7 L1142.0,368.1 L1142.7,370.5 L1143.4,373.0 L1144.1,375.4 L1144.8,377.8 L1145.5,380.1 L1146.2,382.3 L1147.0,384.3 L1147.7,386.3 L1148.4,388.1 L1149.1,389.7 L1149.8,391.1 L1150.5,392.4 L1151.2,393.4 L1152.0,389.0 L1152.7,383.4 L1153.5,376.8 L1154.2,369.4 L1155.0,361.3 L1155.8,352.9 L1156.5,344.6 L1157.3,336.5 L1158.0,329.1 L1158.8,322.5 L1159.5,316.9 L1160.3,312.5 L1161.0,314.4 L1161.7,316.6 L1162.4,318.9 L1163.1,321.5 L1163.8,324.3 L1164.5,327.3 L1165.2,330.5 L1165.9,333.8 L1166.6,337.2 L1167.3,340.8 L1168.0,344.5 L1168.7,348.3 L1169.4,352.1 L1170.1,355.9 L1170.8,359.7 L1171.5,363.5 L1172.2,367.3 L1172.9,371.0 L1173.6,374.6 L1174.3,378.0 L1175.0,381.3 L1175.7,384.5 L1176.4,387.5 L1177.1,390.3 L1177.8,392.9 L1178.5,395.2 L1179.2,397.4 L1179.9,399.3 L1180.6,397.9 L1181.3,396.1 L1182.1,394.1 L1182.8,391.8 L1183.5,389.2 L1184.2,386.4 L1184.9,383.4 L1185.7,380.3 L1186.4,377.1 L1187.1,373.9 L1187.8,370.6 L1188.5,367.4 L1189.3,364.3 L1190.0,361.3 L1190.7,358.5 L1191.4,355.9 L1192.1,353.6 L1192.9,351.6 L1193.6,349.8 L1194.3,348.4 L1195.0,350.5 L1195.7,353.1 L1196.4,356.3 L1197.1,360.0 L1197.8,364.0 L1198.5,368.4 L1199.2,372.9 L1199.9,377.5 L1200.6,382.0 L1201.3,386.4 L1202.0,390.4 L1202.7,394.1 L1203.4,397.3 L1204.1,399.9 L1204.8,402.0 L1205.5,399.0 L1206.2,395.0 L1206.9,390.1 L1207.6,384.4 L1208.3,378.3 L1209.1,372.1 L1209.8,366.0 L1210.5,360.3 L1211.2,355.4 L1211.9,351.4 L1212.6,348.4 L1213.3,350.9 L1214.1,353.8 L1214.8,357.2 L1215.5,361.1 L1216.2,365.4 L1217.0,370.0 L1217.7,374.8 L1218.4,379.8 L1219.2,384.9 L1219.9,390.1 L1220.6,395.1 L1221.3,399.9 L1222.1,404.5 L1222.8,408.8 L1223.5,412.7 L1224.2,416.1 L1225.0,419.0 L1225.7,421.5 L1226.4,419.4 L1227.1,417.0 L1227.9,414.2 L1228.6,411.0 L1229.3,407.4 L1230.0,403.6 L1230.7,399.6 L1231.5,395.4 L1232.2,391.0 L1232.9,386.6 L1233.6,382.2 L1234.3,377.8 L1235.1,373.6 L1235.8,369.6 L1236.5,365.8 L1237.2,362.2 L1237.9,359.0 L1238.7,356.2 L1239.4,353.8 L1240.1,351.7 L1240.8,352.8 L1241.5,354.0 L1242.2,355.3 L1243.0,356.9 L1243.7,358.5 L1244.4,360.3 L1245.1,362.2 L1245.8,364.3 L1246.5,366.4 L1247.3,368.6 L1248.0,371.0 L1248.7,373.4 L1249.4,375.8 L1250.1,378.3 L1250.8,380.8 L1251.6,383.3 L1252.3,385.8 L1253.0,388.3 L1253.7,390.7 L1254.4,393.1 L1255.1,395.5 L1255.9,397.7 L1256.6,399.8 L1257.3,401.9 L1258.0,403.8 L1258.7,405.6 L1259.4,407.2 L1260.2,408.8 L1260.9,410.1 L1261.6,411.3 L1262.3,412.4 L1263.0,412.2 L1263.7,411.9 L1264.4,411.7 L1265.1,411.4 L1265.8,411.1 L1266.5,410.7 L1267.2,410.4 L1267.9,410.0 L1268.6,409.6 L1269.3,409.2 L1270.0,408.7 L1270.7,408.3 L1271.4,407.8 L1272.1,407.3 L1272.8,406.8 L1273.5,406.3 L1274.2,405.8 L1274.9,405.3 L1275.6,404.8 L1276.3,404.2 L1277.0,403.7 L1277.8,403.2 L1278.5,402.6 L1279.2,402.1 L1279.9,401.6 L1280.6,401.1 L1281.3,400.6 L1282.0,400.1 L1282.7,399.6 L1283.4,399.1 L1284.1,398.7 L1284.8,398.2 L1285.5,397.8 L1286.2,397.4 L1286.9,397.0 L1287.6,396.7 L1288.3,396.3 L1289.0,396.0 L1289.7,395.7 L1290.4,395.5 L1291.1,395.2 L1291.8,395.0 L1292.5,396.3 L1293.2,397.7 L1293.9,399.5 L1294.6,401.4 L1295.3,403.6 L1296.1,405.9 L1296.8,408.4 L1297.5,411.1 L1298.2,413.8 L1298.9,416.7 L1299.6,419.5 L1300.3,422.5 L1301.0,425.3 L1301.7,428.2 L1302.4,430.9 L1303.1,433.6 L1303.8,436.1 L1304.6,438.4 L1305.3,440.6 L1306.0,442.5 L1306.7,444.3 L1307.4,445.7 L1308.1,447.0 L1308.8,446.2 L1309.5,445.2 L1310.2,444.0 L1311.0,442.7 L1311.7,441.3 L1312.4,439.8 L1313.1,438.1 L1313.8,436.3 L1314.5,434.5 L1315.2,432.6 L1315.9,430.7 L1316.7,428.8 L1317.4,426.9 L1318.1,425.0 L1318.8,423.2 L1319.5,421.4 L1320.2,419.7 L1320.9,418.2 L1321.6,416.8 L1322.4,415.5 L1323.1,414.3 L1323.8,413.3 L1324.5,412.5 L1325.2,413.4 L1325.9,414.3 L1326.7,415.4 L1327.4,416.7 L1328.1,418.1 L1328.8,419.5 L1329.5,421.1 L1330.3,422.8 L1331.0,424.6 L1331.7,426.4 L1332.4,428.3 L1333.1,430.2 L1333.9,432.2 L1334.6,434.2 L1335.3,436.3 L1336.0,438.3 L1336.8,440.3 L1337.5,442.2 L1338.2,444.1 L1338.9,445.9 L1339.6,447.7 L1340.4,449.4 L1341.1,451.0 L1341.8,452.4 L1342.5,453.8 L1343.2,455.1 L1344.0,456.2 L1344.7,457.1 L1345.4,458.0 L1346.1,457.7 L1346.8,457.3 L1347.5,457.0 L1348.2,456.5 L1348.9,456.1 L1349.6,455.6 L1350.3,455.1 L1351.0,454.6 L1351.7,454.0 L1352.4,453.4 L1353.1,452.8 L1353.8,452.1 L1354.5,451.5 L1355.2,450.8 L1355.9,450.1 L1356.6,449.3 L1357.3,448.6 L1358.0,447.9 L1358.7,447.1 L1359.4,446.4 L1360.2,445.6 L1360.9,444.9 L1361.6,444.1 L1362.3,443.4 L1363.0,442.7 L1363.7,441.9 L1364.4,441.2 L1365.1,440.5 L1365.8,439.9 L1366.5,439.2 L1367.2,438.6 L1367.9,438.0 L1368.6,437.4 L1369.3,436.9 L1370.0,436.4 L1370.7,435.9 L1371.4,435.5 L1372.1,435.0 L1372.8,434.7 L1373.5,434.3 L1374.2,434.0 L1374.9,435.5 L1375.6,437.2 L1376.3,439.3 L1377.1,441.6 L1377.8,444.1 L1378.5,446.9 L1379.2,449.9 L1379.9,453.0 L1380.6,456.3 L1381.3,459.6 L1382.1,463.0 L1382.8,466.4 L1383.5,469.7 L1384.2,473.0 L1384.9,476.1 L1385.6,479.1 L1386.3,481.9 L1387.0,484.4 L1387.8,486.7 L1388.5,488.8 L1389.2,490.5 L1389.9,492.0 L1390.6,491.1 L1391.3,490.1 L1392.0,488.9 L1392.8,487.6 L1393.5,486.1 L1394.2,484.5 L1394.9,482.8 L1395.6,480.9 L1396.3,479.1 L1397.0,477.1 L1397.8,475.1 L1398.5,473.2 L1399.2,471.2 L1399.9,469.4 L1400.6,467.5 L1401.3,465.8 L1402.0,464.2 L1402.7,462.7 L1403.5,461.4 L1404.2,460.2 L1404.9,459.2 L1405.6,458.3 L1406.3,458.8 L1407.0,459.4 L1407.7,460.0 L1408.4,460.7 L1409.1,461.4 L1409.8,462.2 L1410.5,463.0 L1411.2,463.8 L1411.9,464.7 L1412.6,465.6 L1413.3,466.6 L1414.0,467.6 L1414.8,468.6 L1415.5,469.7 L1416.2,470.8 L1416.9,471.9 L1417.6,473.1 L1418.3,474.3 L1419.0,475.5 L1419.7,476.7 L1420.4,478.0 L1421.1,479.2 L1421.8,480.5 L1422.5,481.8 L1423.2,483.1 L1423.9,484.4 L1424.6,485.6 L1425.3,486.9 L1426.0,488.2 L1426.7,489.5 L1427.4,490.7 L1428.1,492.0 L1428.8,493.2 L1429.5,494.4 L1430.2,495.6 L1430.9,496.8 L1431.6,497.9 L1432.3,499.0 L1433.0,500.1 L1433.8,501.1 L1434.5,502.1 L1435.2,503.1 L1435.9,504.0 L1436.6,504.9 L1437.3,505.7 L1438.0,506.5 L1438.7,507.3 L1439.4,508.0 L1440.1,508.7 L1440.8,509.3 L1441.5,509.9 L1442.2,510.4 L1442.9,509.5 L1443.6,508.5 L1444.4,507.2 L1445.1,505.8 L1445.8,504.2 L1446.5,502.5 L1447.2,500.7 L1448.0,498.8 L1448.7,496.8 L1449.4,494.8 L1450.1,492.8 L1450.8,490.8 L1451.6,488.9 L1452.3,487.1 L1453.0,485.4 L1453.7,483.8 L1454.4,482.4 L1455.2,481.1 L1455.9,480.1 L1456.6,479.2 L1457.3,480.4 L1458.0,481.7 L1458.7,483.3 L1459.4,485.1 L1460.1,487.0 L1460.8,489.2 L1461.6,491.4 L1462.3,493.8 L1463.0,496.4 L1463.7,499.0 L1464.4,501.6 L1465.1,504.3 L1465.8,507.0 L1466.5,509.6 L1467.2,512.2 L1467.9,514.8 L1468.6,517.2 L1469.3,519.4 L1470.1,521.6 L1470.8,523.5 L1471.5,525.3 L1472.2,526.9 L1472.9,528.2 L1473.6,529.4 L1474.3,529.3 L1475.0,529.1 L1475.7,529.0 L1476.5,528.8 L1477.2,528.6 L1477.9,528.4 L1478.6,528.2 L1479.3,527.9 L1480.0,527.7 L1480.7,527.4 L1481.4,527.2 L1482.2,526.9 L1482.9,526.6 L1483.6,526.3 L1484.3,526.0 L1485.0,525.7 L1485.7,525.4 L1486.4,525.1 L1487.2,524.7 L1487.9,524.4 L1488.6,524.1 L1489.3,523.8 L1490.0,523.5 L1490.7,523.2 L1491.4,522.9 L1492.2,522.6 L1492.9,522.4 L1493.6,522.1 L1494.3,521.9 L1495.0,521.6 L1495.7,521.4 L1496.4,521.2 L1497.1,521.0 L1497.9,520.8 L1498.6,520.7 L1499.3,520.5 L1500.0,520.4 L1500.7,521.0 L1501.4,521.7 L1502.1,522.5 L1502.8,523.4 L1503.5,524.4 L1504.3,525.4 L1505.0,526.5 L1505.7,527.7 L1506.4,528.9 L1507.1,530.2 L1507.8,531.6 L1508.5,532.9 L1509.2,534.4 L1509.9,535.8 L1510.6,537.3 L1511.3,538.8 L1512.0,540.3 L1512.8,541.8 L1513.5,543.3 L1514.2,544.8 L1514.9,546.2 L1515.6,547.7 L1516.3,549.0 L1517.0,550.4 L1517.7,551.7 L1518.4,552.9 L1519.1,554.1 L1519.8,555.2 L1520.6,556.2 L1521.3,557.2 L1522.0,558.1 L1522.7,558.9 L1523.4,559.6 L1524.1,560.2 L1524.8,559.7 L1525.5,559.2 L1526.2,558.5 L1526.9,557.8 L1527.6,557.0 L1528.4,556.1 L1529.1,555.1 L1529.8,554.1 L1530.5,553.1 L1531.2,552.0 L1531.9,551.0 L1532.6,549.9 L1533.3,548.8 L1534.0,547.8 L1534.7,546.8 L1535.4,545.8 L1536.2,544.9 L1536.9,544.1 L1537.6,543.4 L1538.3,542.7 L1539.0,542.2 L1539.7,541.7 L1540.4,542.4 L1541.1,543.2 L1541.8,544.0 L1542.5,545.0 L1543.2,546.0 L1544.0,547.2 L1544.7,548.4 L1545.4,549.7 L1546.1,551.1 L1546.8,552.5 L1547.5,554.0 L1548.2,555.5 L1548.9,557.0 L1549.6,558.6 L1550.3,560.2 L1551.1,561.9 L1551.8,563.5 L1552.5,565.1 L1553.2,566.7 L1553.9,568.2 L1554.6,569.7 L1555.3,571.2 L1556.0,572.6 L1556.7,574.0 L1557.4,575.3 L1558.1,576.5 L1558.9,577.7 L1559.6,578.7 L1560.3,579.7 L1561.0,580.5 L1561.7,581.3 L1562.4,582.0 L1563.1,581.9 L1563.8,581.8 L1564.5,581.7 L1565.2,581.6 L1565.9,581.5 L1566.7,581.4 L1567.4,581.3 L1568.1,581.2 L1568.8,581.0 L1569.5,580.9 L1570.2,580.7 L1570.9,580.5 L1571.6,580.4 L1572.3,580.2 L1573.0,580.0 L1573.7,579.9 L1574.4,579.7 L1575.2,579.5 L1575.9,579.3 L1576.6,579.1 L1577.3,579.0 L1578.0,578.8 L1578.7,578.6 L1579.4,578.5 L1580.1,578.3 L1580.8,578.1 L1581.5,578.0 L1582.2,577.8 L1582.9,577.7 L1583.7,577.6 L1584.4,577.5 L1585.1,577.4 L1585.8,577.3 L1586.5,577.2 L1587.2,577.1 L1587.9,577.0 L1588.6,577.7 L1589.3,578.4 L1590.0,579.3 L1590.7,580.3 L1591.4,581.3 L1592.2,582.4 L1592.9,583.6 L1593.6,584.9 L1594.3,586.3 L1595.0,587.7 L1595.7,589.2 L1596.4,590.7 L1597.1,592.2 L1597.8,593.8 L1598.5,595.4 L1599.2,597.0 L1600.0,598.6 L1600.7,600.2 L1601.4,601.8 L1602.1,603.3 L1602.8,604.8 L1603.5,606.3 L1604.2,607.7 L1604.9,609.1 L1605.6,610.4 L1606.3,611.6 L1607.1,612.7 L1607.8,613.7 L1608.5,614.7 L1609.2,615.6 L1609.9,616.3 L1610.6,617.0 L1611.3,616.5 L1612.0,615.9 L1612.7,615.2 L1613.4,614.3 L1614.1,613.4 L1614.9,612.4 L1615.6,611.4 L1616.3,610.3 L1617.0,609.2 L1617.7,608.0 L1618.4,606.8 L1619.1,605.7 L1619.8,604.6 L1620.5,603.6 L1621.2,602.6 L1622.0,601.7 L1622.7,600.8 L1623.4,600.1 L1624.1,599.5 L1624.8,599.0 L1625.5,599.5 L1626.2,600.0 L1626.9,600.6 L1627.6,601.3 L1628.3,602.0 L1629.1,602.7 L1629.8,603.5 L1630.5,604.3 L1631.2,605.2 L1631.9,606.1 L1632.6,607.1 L1633.3,608.1 L1634.0,609.1 L1634.7,610.2 L1635.4,611.3 L1636.1,612.4 L1636.9,613.5 L1637.6,614.7 L1638.3,615.8 L1639.0,617.0 L1639.7,618.2 L1640.4,619.4 L1641.1,620.6 L1641.8,621.8 L1642.5,623.0 L1643.2,624.1 L1643.9,625.3 L1644.7,626.4 L1645.4,627.5 L1646.1,628.6 L1646.8,629.7 L1647.5,630.7 L1648.2,631.7 L1648.9,632.7 L1649.6,633.6 L1650.3,634.5 L1651.0,635.3 L1651.7,636.1 L1652.5,636.8 L1653.2,637.5 L1653.9,638.2 L1654.6,638.8 L1655.3,639.3 L1656.0,639.8 L1656.7,639.6 L1657.4,639.4 L1658.1,639.2 L1658.8,638.9 L1659.6,638.6 L1660.3,638.3 L1661.0,637.9 L1661.7,637.6 L1662.4,637.2 L1663.1,636.8 L1663.8,636.4 L1664.5,636.0 L1665.2,635.5 L1666.0,635.1 L1666.7,634.7 L1667.4,634.3 L1668.1,633.9 L1668.8,633.5 L1669.5,633.2 L1670.2,632.8 L1670.9,632.5 L1671.7,632.2 L1672.4,631.9 L1673.1,631.7 L1673.8,631.5 L1674.5,631.3 L1675.2,631.9 L1675.9,632.5 L1676.6,633.2 L1677.3,634.0 L1678.0,634.9 L1678.8,635.8 L1679.5,636.9 L1680.2,637.9 L1680.9,639.0 L1681.6,640.2 L1682.3,641.4 L1683.0,642.7 L1683.7,644.0 L1684.4,645.3 L1685.1,646.7 L1685.8,648.0 L1686.5,649.4 L1687.3,650.8 L1688.0,652.1 L1688.7,653.5 L1689.4,654.8 L1690.1,656.1 L1690.8,657.4 L1691.5,658.6 L1692.2,659.8 L1692.9,660.9 L1693.6,661.9 L1694.3,663.0 L1695.1,663.9 L1695.8,664.8 L1696.5,665.6 L1697.2,666.3 L1697.9,666.9 L1698.6,667.5 L1699.3,667.3 L1700.0,667.2 L1700.7,667.0 L1701.4,666.7 L1702.1,666.5 L1702.9,666.2 L1703.6,665.9 L1704.3,665.6 L1705.0,665.3 L1705.7,665.0 L1706.4,664.6 L1707.1,664.3 L1707.8,663.9 L1708.5,663.5 L1709.2,663.1 L1709.9,662.8 L1710.7,662.4 L1711.4,662.0 L1712.1,661.6 L1712.8,661.2 L1713.5,660.9 L1714.2,660.5 L1714.9,660.2 L1715.6,659.9 L1716.3,659.6 L1717.0,659.3 L1717.8,659.0 L1718.5,658.8 L1719.2,658.5 L1719.9,658.3 L1720.6,658.2 L1721.3,658.0 L1722.0,658.6 L1722.7,659.2 L1723.4,659.9 L1724.1,660.7 L1724.8,661.5 L1725.5,662.4 L1726.3,663.4 L1727.0,664.4 L1727.7,665.5 L1728.4,666.7 L1729.1,667.9 L1729.8,669.1 L1730.5,670.3 L1731.2,671.6 L1731.9,673.0 L1732.6,674.3 L1733.3,675.6 L1734.0,677.0 L1734.8,678.4 L1735.5,679.7 L1736.2,681.0 L1736.9,682.4 L1737.6,683.7 L1738.3,684.9 L1739.0,686.1 L1739.7,687.3 L1740.4,688.5 L1741.1,689.6 L1741.8,690.6 L1742.5,691.6 L1743.3,692.5 L1744.0,693.3 L1744.7,694.1 L1745.4,694.8 L1746.1,695.4 L1746.8,696.0 L1747.5,695.7 L1748.2,695.4 L1748.9,694.9 L1749.6,694.4 L1750.3,693.9 L1751.0,693.3 L1751.8,692.7 L1752.5,692.1 L1753.2,691.6 L1753.9,691.1 L1754.6,690.6 L1755.3,690.3 L1756.0,690.0"/>
<path stroke="#008000" stroke-width="11.2" d="M1113.6,354.2 L1114.3,344.8 L1115.0,332.2 L1115.7,317.3 L1116.4,301.6 L1117.1,286.7 L1117.8,274.1 L1118.5,264.7 L1119.2,284.3 L1120.0,307.9 L1120.8,333.9 L1121.5,360.0 L1122.2,383.6 L1123.0,403.2 L1123.7,401.2 L1124.4,398.7 L1125.1,395.7 L1125.8,392.2 L1126.5,388.4 L1127.2,384.2 L1127.9,379.9 L1128.6,375.4 L1129.3,371.0 L1130.0,366.7 L1130.7,362.5 L1131.4,358.7 L1132.1,355.2 L1132.8,352.2 L1133.5,349.7 L1134.2,347.7 L1134.9,348.7 L1135.6,350.0 L1136.3,351.4 L1137.0,353.0 L1137.7,354.8 L1138.5,356.8 L1139.2,358.8 L1139.9,361.0 L1140.6,363.3 L1141.3,365.7 L1142.0,368.1 L1142.7,370.5 L1143.4,373.0 L1144.1,375.4 L1144.8,377.8 L1145.5,380.1 L1146.2,382.3 L1147.0,384.3 L1147.7,386.3 L1148.4,388.1 L1149.1,389.7 L1149.8,391.1 L1150.5,392.4 L1151.2,393.4 L1152.0,389.0 L1152.7,383.4 L1153.5,376.8 L1154.2,369.4 L1155.0,361.3 L1155.8,352.9 L1156.5,344.6 L1157.3,336.5 L1158.0,329.1 L1158.8,322.5 L1159.5,316.9 L1160.3,312.5 L1161.0,314.4 L1161.7,316.6 L1162.4,318.9 L1163.1,321.5 L1163.8,324.3 L1164.5,327.3 L1165.2,330.5 L1165.9,333.8 L1166.6,337.2 L1167.3,340.8 L1168.0,344.5 L1168.7,348.3 L1169.4,352.1 L1170.1,355.9 L1170.8,359.7 L1171.5,363.5 L1172.2,367.3 L1172.9,371.0 L1173.6,374.6 L1174.3,378.0 L1175.0,381.3 L1175.7,384.5 L1176.4,387.5 L1177.1,390.3 L1177.8,392.9 L1178.5,395.2 L1179.2,397.4 L1179.9,399.3 L1180.6,397.9 L1181.3,396.1 L1182.1,394.1 L1182.8,391.8 L1183.5,389.2 L1184.2,386.4 L1184.9,383.4 L1185.7,380.3 L1186.4,377.1 L1187.1,373.9 L1187.8,370.6 L1188.5,367.4 L1189.3,364.3 L1190.0,361.3 L1190.7,358.5 L1191.4,355.9 L1192.1,353.6 L1192.9,351.6 L1193.6,349.8 L1194.3,348.4 L1195.0,350.5 L1195.7,353.1 L1196.4,356.3 L1197.1,360.0 L1197.8,364.0 L1198.5,368.4 L1199.2,372.9 L1199.9,377.5 L1200.6,382.0 L1201.3,386.4 L1202.0,390.4 L1202.7,394.1 L1203.4,397.3 L1204.1,399.9 L1204.8,402.0 L1205.5,399.0 L1206.2,395.0 L1206.9,390.1 L1207.6,384.4 L1208.3,378.3 L1209.1,372.1 L1209.8,366.0 L1210.5,360.3 L1211.2,355.4 L1211.9,351.4 L1212.6,348.4 L1213.3,350.9 L1214.1,353.8 L1214.8,357.2 L1215.5,361.1 L1216.2,365.4 L1217.0,370.0 L1217.7,374.8 L1218.4,379.8 L1219.2,384.9 L1219.9,390.1 L1220.6,395.1 L1221.3,399.9 L1222.1,404.5 L1222.8,408.8 L1223.5,412.7 L1224.2,416.1 L1225.0,419.0 L1225.7,421.5 L1226.4,419.4 L1227.1,417.0 L1227.9,414.2 L1228.6,411.0 L1229.3,407.4 L1230.0,403.6 L1230.7,399.6 L1231.5,395.4 L1232.2,391.0 L1232.9,386.6 L1233.6,382.2 L1234.3,377.8 L1235.1,373.6 L1235.8,369.6 L1236.5,365.8 L1237.2,362.2 L1237.9,359.0 L1238.7,356.2 L1239.4,353.8 L1240.1,351.7 L1240.8,352.8 L1241.5,354.0 L1242.2,355.3 L1243.0,356.9 L1243.7,358.5 L1244.4,360.3 L1245.1,362.2 L1245.8,364.3 L1246.5,366.4 L1247.3,368.6 L1248.0,371.0 L1248.7,373.4 L1249.4,375.8 L1250.1,378.3 L1250.8,380.8 L1251.6,383.3 L1252.3,385.8 L1253.0,388.3 L1253.7,390.7 L1254.4,393.1 L1255.1,395.5 L1255.9,397.7 L1256.6,399.8 L1257.3,401.9 L1258.0,403.8 L1258.7,405.6 L1259.4,407.2 L1260.2,408.8 L1260.9,410.1 L1261.6,411.3 L1262.3,412.4 L1263.0,412.2 L1263.7,411.9 L1264.4,411.7 L1265.1,411.4 L1265.8,411.1 L1266.5,410.7 L1267.2,410.4 L1267.9,410.0 L1268.6,409.6 L1269.3,409.2 L1270.0,408.7 L1270.7,408.3 L1271.4,407.8 L1272.1,407.3 L1272.8,406.8 L1273.5,406.3 L1274.2,405.8 L1274.9,405.3 L1275.6,404.8 L1276.3,404.2 L1277.0,403.7 L1277.8,403.2 L1278.5,402.6 L1279.2,402.1 L1279.9,401.6 L1280.6,401.1 L1281.3,400.6 L1282.0,400.1 L1282.7,399.6 L1283.4,399.1 L1284.1,398.7 L1284.8,398.2 L1285.5,397.8 L1286.2,397.4 L1286.9,397.0 L1287.6,396.7 L1288.3,396.3 L1289.0,396.0 L1289.7,395.7 L1290.4,395.5 L1291.1,395.2 L1291.8,395.0 L1292.5,396.3 L1293.2,397.7 L1293.9,399.5 L1294.6,401.4 L1295.3,403.6 L1296.1,405.9 L1296.8,408.4 L1297.5,411.1 L1298.2,413.8 L1298.9,416.7 L1299.6,419.5 L1300.3,422.5 L1301.0,425.3 L1301.7,428.2 L1302.4,430.9 L1303.1,433.6 L1303.8,436.1 L1304.6,438.4 L1305.3,440.6 L1306.0,442.5 L1306.7,444.3 L1307.4,445.7 L1308.1,447.0 L1308.8,446.2 L1309.5,445.2 L1310.2,444.0 L1311.0,442.7 L1311.7,441.3 L1312.4,439.8 L1313.1,438.1 L1313.8,436.3 L1314.5,434.5 L1315.2,432.6 L1315.9,430.7 L1316.7,428.8 L1317.4,426.9 L1318.1,425.0 L1318.8,423.2 L1319.5,421.4 L1320.2,419.7 L1320.9,418.2 L1321.6,416.8 L1322.4,415.5 L1323.1,414.3 L1323.8,413.3 L1324.5,412.5 L1325.2,413.4 L1325.9,414.3 L1326.7,415.4 L1327.4,416.7 L1328.1,418.1 L1328.8,419.5 L1329.5,421.1 L1330.3,422.8 L1331.0,424.6 L1331.7,426.4 L1332.4,428.3 L1333.1,430.2 L1333.9,432.2 L1334.6,434.2 L1335.3,436.3 L1336.0,438.3 L1336.8,440.3 L1337.5,442.2 L1338.2,444.1 L1338.9,445.9 L1339.6,447.7 L1340.4,449.4 L1341.1,451.0 L1341.8,452.4 L1342.5,453.8 L1343.2,455.1 L1344.0,456.2 L1344.7,457.1 L1345.4,458.0 L1346.1,457.7 L1346.8,457.3 L1347.5,457.0 L1348.2,456.5 L1348.9,456.1 L1349.6,455.6 L1350.3,455.1 L1351.0,454.6 L1351.7,454.0 L1352.4,453.4 L1353.1,452.8 L1353.8,452.1 L1354.5,451.5 L1355.2,450.8 L1355.9,450.1 L1356.6,449.3 L1357.3,448.6 L1358.0,447.9 L1358.7,447.1 L1359.4,446.4 L1360.2,445.6 L1360.9,444.9 L1361.6,444.1 L1362.3,443.4 L1363.0,442.7 L1363.7,441.9 L1364.4,441.2 L1365.1,440.5 L1365.8,439.9 L1366.5,439.2 L1367.2,438.6 L1367.9,438.0 L1368.6,437.4 L1369.3,436.9 L1370.0,436.4 L1370.7,435.9 L1371.4,435.5 L1372.1,435.0 L1372.8,434.7 L1373.5,434.3 L1374.2,434.0 L1374.9,435.5 L1375.6,437.2 L1376.3,439.3 L1377.1,441.6 L1377.8,444.1 L1378.5,446.9 L1379.2,449.9 L1379.9,453.0 L1380.6,456.3 L1381.3,459.6 L1382.1,463.0 L1382.8,466.4 L1383.5,469.7 L1384.2,473.0 L1384.9,476.1 L1385.6,479.1 L1386.3,481.9 L1387.0,484.4 L1387.8,486.7 L1388.5,488.8 L1389.2,490.5 L1389.9,492.0 L1390.6,491.1 L1391.3,490.1 L1392.0,488.9 L1392.8,487.6 L1393.5,486.1 L1394.2,484.5 L1394.9,482.8 L1395.6,480.9 L1396.3,479.1 L1397.0,477.1 L1397.8,475.1 L1398.5,473.2 L1399.2,471.2 L1399.9,469.4 L1400.6,467.5 L1401.3,465.8 L1402.0,464.2 L1402.7,462.7 L1403.5,461.4 L1404.2,460.2 L1404.9,459.2 L1405.6,458.3 L1406.3,458.8 L1407.0,459.4 L1407.7,460.0 L1408.4,460.7 L1409.1,461.4 L1409.8,462.2 L1410.5,463.0 L1411.2,463.8 L1411.9,464.7 L1412.6,465.6 L1413.3,466.6 L1414.0,467.6 L1414.8,468.6 L1415.5,469.7 L1416.2,470.8 L1416.9,471.9 L1417.6,473.1 L1418.3,474.3 L1419.0,475.5 L1419.7,476.7 L1420.4,478.0 L1421.1,479.2 L1421.8,480.5 L1422.5,481.8 L1423.2,483.1 L1423.9,484.4 L1424.6,485.6 L1425.3,486.9 L1426.0,488.2 L1426.7,489.5 L1427.4,490.7 L1428.1,492.0 L1428.8,493.2 L1429.5,494.4 L1430.2,495.6 L1430.9,496.8 L1431.6,497.9 L1432.3,499.0 L1433.0,500.1 L1433.8,501.1 L1434.5,502.1 L1435.2,503.1 L1435.9,504.0 L1436.6,504.9 L1437.3,505.7 L1438.0,506.5 L1438.7,507.3 L1439.4,508.0 L1440.1,508.7 L1440.8,509.3 L1441.5,509.9 L1442.2,510.4 L1442.9,509.5 L1443.6,508.5 L1444.4,507.2 L1445.1,505.8 L1445.8,504.2 L1446.5,502.5 L1447.2,500.7 L1448.0,498.8 L1448.7,496.8 L1449.4,494.8 L1450.1,492.8 L1450.8,490.8 L1451.6,488.9 L1452.3,487.1 L1453.0,485.4 L1453.7,483.8 L1454.4,482.4 L1455.2,481.1 L1455.9,480.1 L1456.6,479.2 L1457.3,480.4 L1458.0,481.7 L1458.7,483.3 L1459.4,485.1 L1460.1,487.0 L1460.8,489.2 L1461.6,491.4 L1462.3,493.8 L1463.0,496.4 L1463.7,499.0 L1464.4,501.6 L1465.1,504.3 L1465.8,507.0 L1466.5,509.6 L1467.2,512.2 L1467.9,514.8 L1468.6,517.2 L1469.3,519.4 L1470.1,521.6 L1470.8,523.5 L1471.5,525.3 L1472.2,526.9 L1472.9,528.2 L1473.6,529.4 L1474.3,529.3 L1475.0,529.1 L1475.7,529.0 L1476.5,528.8 L1477.2,528.6 L1477.9,528.4 L1478.6,528.2 L1479.3,527.9 L1480.0,527.7 L1480.7,527.4 L1481.4,527.2 L1482.2,526.9 L1482.9,526.6 L1483.6,526.3 L1484.3,526.0 L1485.0,525.7 L1485.7,525.4 L1486.4,525.1 L1487.2,524.7 L1487.9,524.4 L1488.6,524.1 L1489.3,523.8 L1490.0,523.5 L1490.7,523.2 L1491.4,522.9 L1492.2,522.6 L1492.9,522.4 L1493.6,522.1 L1494.3,521.9 L1495.0,521.6 L1495.7,521.4 L1496.4,521.2 L1497.1,521.0 L1497.9,520.8 L1498.6,520.7 L1499.3,520.5 L1500.0,520.4 L1500.7,521.0 L1501.4,521.7 L1502.1,522.5 L1502.8,523.4 L1503.5,524.4 L1504.3,525.4 L1505.0,526.5 L1505.7,527.7 L1506.4,528.9 L1507.1,530.2 L1507.8,531.6 L1508.5,532.9 L1509.2,534.4 L1509.9,535.8 L1510.6,537.3 L1511.3,538.8 L1512.0,540.3 L1512.8,541.8 L1513.5,543.3 L1514.2,544.8 L1514.9,546.2 L1515.6,547.7 L1516.3,549.0 L1517.0,550.4 L1517.7,551.7 L1518.4,552.9 L1519.1,554.1 L1519.8,555.2 L1520.6,556.2 L1521.3,557.2 L1522.0,558.1 L1522.7,558.9 L1523.4,559.6 L1524.1,560.2 L1524.8,559.7 L1525.5,559.2 L1526.2,558.5 L1526.9,557.8 L1527.6,557.0 L1528.4,556.1 L1529.1,555.1 L1529.8,554.1 L1530.5,553.1 L1531.2,552.0 L1531.9,551.0 L1532.6,549.9 L1533.3,548.8 L1534.0,547.8 L1534.7,546.8 L1535.4,545.8 L1536.2,544.9 L1536.9,544.1 L1537.6,543.4 L1538.3,542.7 L1539.0,542.2 L1539.7,541.7 L1540.4,542.4 L1541.1,543.2 L1541.8,544.0 L1542.5,545.0 L1543.2,546.0 L1544.0,547.2 L1544.7,548.4 L1545.4,549.7 L1546.1,551.1 L1546.8,552.5 L1547.5,554.0 L1548.2,555.5 L1548.9,557.0 L1549.6,558.6 L1550.3,560.2 L1551.1,561.9 L1551.8,563.5 L1552.5,565.1 L1553.2,566.7 L1553.9,568.2 L1554.6,569.7 L1555.3,571.2 L1556.0,572.6 L1556.7,574.0 L1557.4,575.3 L1558.1,576.5 L1558.9,577.7 L1559.6,578.7 L1560.3,579.7 L1561.0,580.5 L1561.7,581.3 L1562.4,582.0 L1563.1,581.9 L1563.8,581.8 L1564.5,581.7 L1565.2,581.6 L1565.9,581.5 L1566.7,581.4 L1567.4,581.3 L1568.1,581.2 L1568.8,581.0 L1569.5,580.9 L1570.2,580.7 L1570.9,580.5 L1571.6,580.4 L1572.3,580.2 L1573.0,580.0 L1573.7,579.9 L1574.4,579.7 L1575.2,579.5 L1575.9,579.3 L1576.6,579.1 L1577.3,579.0 L1578.0,578.8 L1578.7,578.6 L1579.4,578.5 L1580.1,578.3 L1580.8,578.1 L1581.5,578.0 L1582.2,577.8 L1582.9,577.7 L1583.7,577.6 L1584.4,577.5 L1585.1,577.4 L1585.8,577.3 L1586.5,577.2 L1587.2,577.1 L1587.9,577.0 L1588.6,577.7 L1589.3,578.4 L1590.0,579.3 L1590.7,580.3 L1591.4,581.3 L1592.2,582.4 L1592.9,583.6 L1593.6,584.9 L1594.3,586.3 L1595.0,587.7 L1595.7,589.2 L1596.4,590.7 L1597.1,592.2 L1597.8,593.8 L1598.5,595.4 L1599.2,597.0 L1600.0,598.6 L1600.7,600.2 L1601.4,601.8 L1602.1,603.3 L1602.8,604.8 L1603.5,606.3 L1604.2,607.7 L1604.9,609.1 L1605.6,610.4 L1606.3,611.6 L1607.1,612.7 L1607.8,613.7 L1608.5,614.7 L1609.2,615.6 L1609.9,616.3 L1610.6,617.0 L1611.3,616.5 L1612.0,615.9 L1612.7,615.2 L1613.4,614.3 L1614.1,613.4 L1614.9,612.4 L1615.6,611.4 L1616.3,610.3 L1617.0,609.2 L1617.7,608.0 L1618.4,606.8 L1619.1,605.7 L1619.8,604.6 L1620.5,603.6 L1621.2,602.6 L1622.0,601.7 L1622.7,600.8 L1623.4,600.1 L1624.1,599.5 L1624.8,599.0 L1625.5,599.5 L1626.2,600.0 L1626.9,600.6 L1627.6,601.3 L1628.3,602.0 L1629.1,602.7 L1629.8,603.5 L1630.5,604.3 L1631.2,605.2 L1631.9,606.1 L1632.6,607.1 L1633.3,608.1 L1634.0,609.1 L1634.7,610.2 L1635.4,611.3 L1636.1,612.4 L1636.9,613.5 L1637.6,614.7 L1638.3,615.8 L1639.0,617.0 L1639.7,618.2 L1640.4,619.4 L1641.1,620.6 L1641.8,621.8 L1642.5,623.0 L1643.2,624.1 L1643.9,625.3 L1644.7,626.4 L1645.4,627.5 L1646.1,628.6 L1646.8,629.7 L1647.5,630.7 L1648.2,631.7 L1648.9,632.7 L1649.6,633.6 L1650.3,634.5 L1651.0,635.3 L1651.7,636.1 L1652.5,636.8 L1653.2,637.5 L1653.9,638.2 L1654.6,638.8 L1655.3,639.3 L1656.0,639.8 L1656.7,639.6 L1657.4,639.4 L1658.1,639.2 L1658.8,638.9 L1659.6,638.6 L1660.3,638.3 L1661.0,637.9 L1661.7,637.6 L1662.4,637.2 L1663.1,636.8 L1663.8,636.4 L1664.5,636.0 L1665.2,635.5 L1666.0,635.1 L1666.7,634.7 L1667.4,634.3 L1668.1,633.9 L1668.8,633.5 L1669.5,633.2 L1670.2,632.8 L1670.9,632.5 L1671.7,632.2 L1672.4,631.9 L1673.1,631.7 L1673.8,631.5 L1674.5,631.3 L1675.2,631.9 L1675.9,632.5 L1676.6,633.2 L1677.3,634.0 L1678.0,634.9 L1678.8,635.8 L1679.5,636.9 L1680.2,637.9 L1680.9,639.0 L1681.6,640.2 L1682.3,641.4 L1683.0,642.7 L1683.7,644.0 L1684.4,645.3 L1685.1,646.7 L1685.8,648.0 L1686.5,649.4 L1687.3,650.8 L1688.0,652.1 L1688.7,653.5 L1689.4,654.8 L1690.1,656.1 L1690.8,657.4 L1691.5,658.6 L1692.2,659.8 L1692.9,660.9 L1693.6,661.9 L1694.3,663.0 L1695.1,663.9 L1695.8,664.8 L1696.5,665.6 L1697.2,666.3 L1697.9,666.9 L1698.6,667.5 L1699.3,667.3 L1700.0,667.2 L1700.7,667.0 L1701.4,666.7 L1702.1,666.5 L1702.9,666.2 L1703.6,665.9 L1704.3,665.6 L1705.0,665.3 L1705.7,665.0 L1706.4,664.6 L1707.1,664.3 L1707.8,663.9 L1708.5,663.5 L1709.2,663.1 L1709.9,662.8 L1710.7,662.4 L1711.4,662.0 L1712.1,661.6 L1712.8,661.2 L1713.5,660.9 L1714.2,660.5 L1714.9,660.2 L1715.6,659.9 L1716.3,659.6 L1717.0,659.3 L1717.8,659.0 L1718.5,658.8 L1719.2,658.5 L1719.9,658.3 L1720.6,658.2 L1721.3,658.0 L1722.0,658.6 L1722.7,659.2 L1723.4,659.9 L1724.1,660.7 L1724.8,661.5 L1725.5,662.4 L1726.3,663.4 L1727.0,664.4 L1727.7,665.5 L1728.4,666.7 L1729.1,667.9 L1729.8,669.1 L1730.5,670.3 L1731.2,671.6 L1731.9,673.0 L1732.6,674.3 L1733.3,675.6 L1734.0,677.0 L1734.8,678.4 L1735.5,679.7 L1736.2,681.0 L1736.9,682.4 L1737.6,683.7 L1738.3,684.9 L1739.0,686.1 L1739.7,687.3 L1740.4,688.5 L1741.1,689.6 L1741.8,690.6 L1742.5,691.6 L1743.3,692.5 L1744.0,693.3 L1744.7,694.1 L1745.4,694.8 L1746.1,695.4 L1746.8,696.0 L1747.5,695.7 L1748.2,695.4 L1748.9,694.9 L1749.6,694.4 L1750.3,693.9 L1751.0,693.3 L1751.8,692.7 L1752.5,692.1 L1753.2,691.6 L1753.9,691.1 L1754.6,690.6 L1755.3,690.3 L1756.0,690.0"/>
<path stroke="#ff8000" d="M261.5,1232.0 L265.5,1231.3 L269.6,1230.7 L273.6,1230.0 L277.6,1229.4 L281.7,1228.7 L285.7,1228.1 L289.7,1227.4 L293.8,1226.7 L297.8,1226.1 L301.8,1225.4 L305.9,1224.8 L309.9,1224.1 L313.9,1223.4 L318.0,1222.8 L322.0,1222.1 L326.0,1221.4 L330.1,1220.8 L334.1,1220.1 L338.1,1219.4 L342.2,1218.7 L346.2,1218.1 L350.2,1217.4 L354.3,1216.7 L358.3,1216.1 L362.4,1215.4 L366.4,1214.7 L370.4,1214.1 L374.5,1213.4 L378.5,1212.8 L382.5,1212.1 L386.6,1211.4 L390.6,1210.8 L394.6,1210.1 L398.7,1209.4 L402.7,1208.8 L406.7,1208.1 L410.8,1207.4 L414.8,1206.7 L418.8,1206.1 L422.9,1205.4 L426.9,1204.7 L430.9,1203.9 L435.0,1203.2 L439.0,1202.5 L443.0,1201.8 L447.1,1201.0 L451.1,1200.2 L455.1,1199.5 L459.2,1198.7 L463.2,1197.9 L467.2,1197.1 L471.3,1196.3 L475.3,1195.5 L479.3,1194.7 L483.4,1193.8 L487.4,1192.9 L491.4,1192.0 L495.5,1191.1 L499.5,1190.1 L503.5,1189.1 L507.6,1188.1 L511.6,1187.1 L515.6,1186.1 L519.7,1185.0 L523.7,1183.9 L527.7,1182.7 L531.8,1181.5 L535.8,1180.3 L539.8,1179.0 L543.9,1177.7 L547.9,1176.3 L552.0,1174.9 L556.0,1173.3 L560.0,1171.7 L564.1,1169.9 L568.1,1168.1 L572.1,1166.1 L576.2,1164.2 L580.2,1162.1 L584.2,1160.0 L588.3,1157.9 L592.3,1155.8 L596.3,1153.7 L600.4,1151.5 L604.4,1149.4 L608.4,1147.2 L612.5,1145.0 L616.5,1142.7 L620.5,1140.4 L624.6,1138.1 L628.6,1135.7 L632.6,1133.2 L636.7,1130.7 L640.7,1128.1 L644.7,1125.5 L648.8,1122.7 L652.8,1119.8 L656.8,1116.9 L660.9,1113.8 L664.9,1110.5 L668.9,1107.0 L673.0,1103.2 L677.0,1099.2 L681.0,1095.1 L685.1,1091.0 L689.1,1086.8 L693.1,1082.6 L697.2,1078.5 L701.2,1074.5 L705.2,1070.5 L709.3,1066.6 L713.3,1062.5 L717.3,1058.3 L721.4,1054.0 L725.4,1049.6 L729.4,1045.2 L733.5,1040.6 L737.5,1035.9 L741.6,1031.2 L745.6,1026.4 L749.6,1021.5 L753.7,1016.5 L757.7,1011.2 L761.7,1005.4 L765.8,998.9 L769.8,991.1 L773.8,983.1 L777.9,975.6 L781.9,968.9 L785.9,962.6 L790.0,956.3 L794.0,950.0 L798.0,943.3 L802.1,936.4 L806.1,929.4 L810.1,922.2 L814.2,914.5 L818.2,906.4 L822.2,897.6 L826.3,888.2 L830.3,878.4 L833.2,860.7 L835.9,857.7 L838.1,857.8 L840.9,855.8 L844.1,849.8 L846.0,849.0 L848.9,839.2 L850.8,836.5 L853.8,829.4 L856.0,823.4 L859.0,820.9 L860.7,815.7 L862.3,809.3 L864.6,803.9 L865.6,793.9 L867.4,784.5 L868.6,774.3 L870.8,773.4 L874.7,783.1 L877.4,784.1 L879.9,765.0 L882.3,750.8 L884.1,745.6 L887.5,720.6 L889.2,715.6 L891.8,722.1 L896.0,722.4 L897.8,710.4 L899.9,704.8 L901.9,710.4 L905.0,703.3 L907.8,706.7 L911.1,699.4 L913.7,684.2 L915.3,671.2 L917.6,662.6 L920.2,655.1 L922.5,631.3 L924.5,626.1 L927.6,647.1 L930.3,642.1 L932.3,630.4 L935.3,638.1 L937.2,625.4 L938.8,610.9 L941.1,609.7 L944.3,608.6 L946.0,588.2 L947.5,560.0 L948.9,559.8 L950.7,576.2 L955.1,564.0 L956.8,577.4 L960.0,579.5 L961.7,554.9 L964.5,532.8 L966.6,539.2 L968.0,554.7 L970.5,547.0 L971.6,516.4 L972.4,519.6 L973.7,518.2 L974.5,495.0 L975.5,480.1 L979.2,465.3 L981.6,486.3 L984.1,495.1 L986.3,472.0 L988.9,478.9 L990.6,490.0 L993.8,466.7 L996.2,452.0 L998.4,439.4 L1001.1,454.7 L1003.6,444.7 L1005.9,428.6 L1007.2,436.1 L1009.4,445.7 L1013.3,437.4 L1016.5,429.0 L1019.5,430.0 L1020.8,420.3 L1021.9,403.1 L1024.6,400.3 L1028.0,411.7 L1030.8,403.9 L1032.9,393.3 L1035.4,388.5 L1038.3,382.6 L1042.0,385.3 L1043.9,378.7 L1045.9,367.6 L1047.6,362.8 L1049.2,346.0 L1050.3,360.3 L1052.7,373.9 L1054.4,394.7 L1056.4,391.1 L1059.3,372.6 L1063.8,363.3 L1065.5,354.2 L1068.3,351.1 L1071.7,357.2 L1073.6,348.8 L1076.6,352.9 L1080.8,360.6 L1083.2,360.8 L1083.9,358.5 L1084.7,355.4 L1085.4,351.6 L1086.2,347.3 L1086.9,342.6 L1087.7,337.9 L1088.4,333.2 L1089.2,328.9 L1089.9,325.1 L1090.7,322.0 L1091.4,319.7 L1092.2,327.2 L1093.0,338.2 L1093.8,351.4 L1094.6,364.5 L1095.4,375.5 L1096.2,383.0 L1096.9,381.9 L1097.6,380.6 L1098.3,379.0 L1099.0,377.4 L1099.7,375.5 L1100.4,373.5 L1101.1,371.3 L1101.8,369.0 L1102.5,366.6 L1103.2,364.1 L1103.9,361.5 L1104.6,358.9 L1105.3,356.2 L1106.1,353.6 L1106.8,351.0 L1107.5,348.4 L1108.2,345.9 L1108.9,343.5 L1109.6,341.2 L1110.3,339.0 L1111.0,337.0 L1111.7,335.1 L1112.4,333.5 L1113.1,331.9 L1113.8,330.6 L1114.5,329.5 L1115.2,331.1 L1115.9,333.2 L1116.6,335.7 L1117.3,338.5 L1118.0,341.7 L1118.7,345.0 L1119.4,348.6 L1120.1,352.1 L1120.8,355.7 L1121.5,359.0 L1122.2,362.2 L1122.9,365.0 L1123.6,367.5 L1124.3,369.6 L1125.0,371.2 L1125.7,369.4 L1126.4,367.1 L1127.1,364.3 L1127.8,361.1 L1128.5,357.6 L1129.2,353.9 L1130.0,350.0 L1130.7,346.3 L1131.4,342.8 L1132.1,339.6 L1132.8,336.8 L1133.5,334.5 L1134.2,332.7 L1134.9,333.5 L1135.6,334.4 L1136.3,335.5 L1137.0,336.7 L1137.7,338.0 L1138.4,339.4 L1139.1,341.0 L1139.8,342.6 L1140.5,344.3 L1141.2,346.1 L1141.9,347.9 L1142.6,349.7 L1143.3,351.6 L1144.1,353.5 L1144.8,355.3 L1145.5,357.1 L1146.2,358.9 L1146.9,360.6 L1147.6,362.2 L1148.3,363.8 L1149.0,365.2 L1149.7,366.5 L1150.4,367.7 L1151.1,368.8 L1151.8,369.7 L1152.5,370.5 L1153.3,369.2 L1154.0,367.4 L1154.8,365.2 L1155.5,362.7 L1156.3,360.0 L1157.0,357.2 L1157.8,354.4 L1158.6,351.7 L1159.3,349.2 L1160.1,347.0 L1160.8,345.2 L1161.6,343.9 L1162.3,345.0 L1163.0,346.4 L1163.7,347.9 L1164.5,349.7 L1165.2,351.6 L1165.9,353.8 L1166.6,356.0 L1167.3,358.4 L1168.0,360.9 L1168.7,363.5 L1169.4,366.0 L1170.2,368.6 L1170.9,371.2 L1171.6,373.7 L1172.3,376.1 L1173.0,378.3 L1173.7,380.5 L1174.4,382.4 L1175.2,384.2 L1175.9,385.7 L1176.6,387.1 L1177.3,388.2 L1178.0,386.0 L1178.7,382.9 L1179.5,379.2 L1180.2,375.0 L1180.9,370.4 L1181.6,365.6 L1182.3,361.0 L1183.0,356.8 L1183.8,353.1 L1184.5,350.0 L1185.2,347.8 L1185.9,348.6 L1186.6,349.6 L1187.3,350.7 L1188.0,351.9 L1188.7,353.3 L1189.5,354.8 L1190.2,356.4 L1190.9,358.1 L1191.6,359.8 L1192.3,361.7 L1193.0,363.5 L1193.7,365.4 L1194.4,367.3 L1195.1,369.1 L1195.8,371.0 L1196.5,372.7 L1197.2,374.4 L1198.0,376.0 L1198.7,377.5 L1199.4,378.9 L1200.1,380.1 L1200.8,381.2 L1201.5,382.2 L1202.2,383.0 L1202.9,382.4 L1203.7,381.6 L1204.4,380.7 L1205.2,379.6 L1205.9,378.4 L1206.7,377.2 L1207.4,375.9 L1208.1,374.5 L1208.9,373.3 L1209.6,372.1 L1210.4,371.0 L1211.1,370.1 L1211.9,369.3 L1212.6,368.7 L1213.3,369.3 L1214.1,370.1 L1214.8,371.0 L1215.5,372.1 L1216.2,373.3 L1217.0,374.6 L1217.7,375.9 L1218.4,377.3 L1219.2,378.8 L1219.9,380.2 L1220.6,381.6 L1221.3,382.9 L1222.1,384.2 L1222.8,385.4 L1223.5,386.5 L1224.2,387.4 L1225.0,388.2 L1225.7,388.8 L1226.4,388.6 L1227.1,388.2 L1227.8,387.9 L1228.5,387.4 L1229.2,386.9 L1229.9,386.4 L1230.6,385.9 L1231.3,385.3 L1232.0,384.8 L1232.7,384.3 L1233.4,383.8 L1234.1,383.3 L1234.8,383.0 L1235.5,382.6 L1236.2,382.4 L1236.9,382.7 L1237.7,383.1 L1238.4,383.6 L1239.1,384.1 L1239.8,384.7 L1240.6,385.3 L1241.3,385.9 L1242.0,386.6 L1242.7,387.3 L1243.5,388.1 L1244.2,388.9 L1244.9,389.6 L1245.6,390.4 L1246.4,391.3 L1247.1,392.1 L1247.8,392.8 L1248.5,393.6 L1249.3,394.4 L1250.0,395.1 L1250.7,395.8 L1251.4,396.4 L1252.2,397.0 L1252.9,397.6 L1253.6,398.1 L1254.3,398.6 L1255.1,399.0 L1255.8,399.3 L1256.5,399.2 L1257.2,399.0 L1257.9,398.7 L1258.6,398.5 L1259.3,398.2 L1260.0,397.9 L1260.8,397.6 L1261.5,397.3 L1262.2,397.0 L1262.9,396.8 L1263.6,396.5 L1264.3,396.3 L1265.0,396.2 L1265.7,396.5 L1266.5,396.8 L1267.2,397.1 L1267.9,397.6 L1268.6,398.0 L1269.4,398.5 L1270.1,399.1 L1270.8,399.6 L1271.6,400.2 L1272.3,400.8 L1273.0,401.4 L1273.7,402.0 L1274.5,402.6 L1275.2,403.1 L1275.9,403.7 L1276.7,404.2 L1277.4,404.6 L1278.1,405.1 L1278.8,405.4 L1279.6,405.7 L1280.3,406.0 L1282.3,408.4 L1284.3,410.2 L1286.3,411.7 L1288.4,412.8 L1290.4,413.6 L1292.4,414.2 L1294.4,414.7 L1296.4,415.2 L1298.4,415.7 L1300.5,416.4 L1302.5,417.2 L1304.5,418.4 L1306.5,419.8 L1308.5,421.6 L1310.5,423.4 L1312.6,424.8 L1314.6,425.4 L1316.6,424.8 L1318.6,423.0 L1320.6,420.8 L1322.6,419.6 L1324.6,420.5 L1326.7,423.3 L1328.7,427.4 L1330.7,431.9 L1332.7,436.0 L1334.7,439.0 L1336.7,440.2 L1338.8,439.9 L1340.8,438.5 L1342.8,436.6 L1344.8,434.6 L1346.8,433.1 L1348.8,432.6 L1350.8,433.3 L1352.9,435.0 L1354.9,437.4 L1356.9,440.5 L1358.9,443.9 L1360.9,447.4 L1362.9,450.4 L1365.0,452.3 L1367.0,452.7 L1369.0,452.1 L1371.0,451.2 L1373.0,450.7 L1375.0,451.5 L1377.1,453.6 L1379.1,456.5 L1381.1,459.9 L1383.1,463.0 L1385.1,465.4 L1387.1,466.7 L1389.1,466.4 L1391.2,464.9 L1393.2,463.0 L1395.2,461.2 L1397.2,460.2 L1399.2,460.6 L1401.2,462.4 L1403.3,465.1 L1405.3,468.5 L1407.3,472.2 L1409.3,475.9 L1411.3,479.3 L1413.3,482.1 L1415.4,484.0 L1417.4,485.0 L1419.4,485.0 L1421.4,484.3 L1423.4,483.1 L1425.4,482.0 L1427.4,481.2 L1429.5,481.0 L1431.5,481.5 L1433.5,482.5 L1435.5,484.0 L1437.5,485.7 L1439.5,487.7 L1441.6,489.7 L1443.6,491.7 L1445.6,493.5 L1447.6,495.2 L1449.6,496.9 L1451.6,498.7 L1453.6,500.4 L1455.7,502.4 L1457.7,504.4 L1459.7,506.6 L1461.7,508.8 L1463.7,510.6 L1465.7,512.0 L1467.8,512.7 L1469.8,512.7 L1471.8,512.3 L1473.8,511.7 L1475.8,511.2 L1477.8,511.1 L1479.9,511.5 L1481.9,512.6 L1483.9,514.2 L1485.9,516.2 L1487.9,518.6 L1489.9,521.1 L1491.9,523.8 L1494.0,526.4 L1496.0,528.9 L1498.0,531.2 L1500.0,533.1 L1502.0,534.5 L1504.0,535.5 L1506.1,535.9 L1508.1,536.1 L1510.1,536.1 L1512.1,536.2 L1514.1,536.4 L1516.1,536.9 L1518.2,537.7 L1520.2,538.8 L1522.2,540.1 L1524.2,541.6 L1526.2,543.1 L1528.2,544.8 L1530.2,546.4 L1532.3,548.1 L1534.3,549.9 L1536.3,551.7 L1538.3,553.5 L1540.3,555.4 L1542.3,557.4 L1544.4,559.5 L1546.4,561.5 L1548.4,563.4 L1550.4,564.9 L1552.4,565.9 L1554.4,566.2 L1556.4,565.9 L1558.5,565.3 L1560.5,564.8 L1562.5,564.6 L1564.5,565.1 L1566.5,566.4 L1568.5,568.4 L1570.6,570.8 L1572.6,573.2 L1574.6,575.6 L1576.6,577.7 L1578.6,579.6 L1580.6,581.3 L1582.7,582.9 L1584.7,584.3 L1586.7,585.6 L1588.7,586.8 L1590.7,587.9 L1592.7,588.9 L1594.7,589.9 L1596.8,590.7 L1598.8,591.5 L1600.8,592.2 L1602.8,592.9 L1604.8,593.5 L1606.8,594.2 L1608.9,595.0 L1610.9,595.9 L1612.9,597.0 L1614.9,598.3 L1616.9,599.8 L1618.9,601.5 L1620.9,603.4 L1623.0,605.4 L1625.0,607.6 L1627.0,609.9 L1629.0,612.1 L1631.0,614.2 L1633.0,615.9 L1635.1,617.4 L1637.1,618.3 L1639.1,619.0 L1641.1,619.4 L1643.1,619.8 L1645.1,620.2 L1647.2,620.8 L1649.2,621.6 L1651.2,622.9 L1653.2,624.4 L1655.2,626.2 L1657.2,628.2 L1659.2,630.3 L1661.3,632.4 L1663.3,634.5 L1665.3,636.6 L1667.3,638.6 L1669.3,640.5 L1671.3,642.3 L1673.4,643.9 L1675.4,645.4 L1677.4,646.7 L1679.4,647.8 L1681.4,648.8 L1683.4,649.6 L1685.5,650.2 L1687.5,650.7 L1689.5,651.0 L1691.5,651.3 L1693.5,651.6 L1695.5,651.9 L1697.5,652.4 L1699.6,653.0 L1701.6,653.8 L1703.6,654.9 L1705.6,656.1 L1707.6,657.7 L1709.6,659.5 L1711.7,661.7 L1713.7,664.0 L1715.7,666.4 L1717.7,668.7 L1719.7,670.7 L1721.7,672.4 L1723.7,673.6 L1725.8,674.5 L1727.8,675.1 L1729.8,675.5 L1731.8,675.9 L1733.8,676.3 L1735.8,676.8 L1737.9,677.5 L1739.9,678.4 L1741.9,679.4 L1743.9,680.5 L1745.9,681.9 L1747.9,683.4 L1750.0,685.0 L1752.0,686.9 L1754.0,688.8 L1756.0,691.0"/>
<path stroke="#ff8000" stroke-width="11.2" d="M1083.2,360.8 L1083.9,358.5 L1084.7,355.4 L1085.4,351.6 L1086.2,347.3 L1086.9,342.6 L1087.7,337.9 L1088.4,333.2 L1089.2,328.9 L1089.9,325.1 L1090.7,322.0 L1091.4,319.7 L1092.2,327.2 L1093.0,338.2 L1093.8,351.4 L1094.6,364.5 L1095.4,375.5 L1096.2,383.0 L1096.9,381.9 L1097.6,380.6 L1098.3,379.0 L1099.0,377.4 L1099.7,375.5 L1100.4,373.5 L1101.1,371.3 L1101.8,369.0 L1102.5,366.6 L1103.2,364.1 L1103.9,361.5 L1104.6,358.9 L1105.3,356.2 L1106.1,353.6 L1106.8,351.0 L1107.5,348.4 L1108.2,345.9 L1108.9,343.5 L1109.6,341.2 L1110.3,339.0 L1111.0,337.0 L1111.7,335.1 L1112.4,333.5 L1113.1,331.9 L1113.8,330.6 L1114.5,329.5 L1115.2,331.1 L1115.9,333.2 L1116.6,335.7 L1117.3,338.5 L1118.0,341.7 L1118.7,345.0 L1119.4,348.6 L1120.1,352.1 L1120.8,355.7 L1121.5,359.0 L1122.2,362.2 L1122.9,365.0 L1123.6,367.5 L1124.3,369.6 L1125.0,371.2 L1125.7,369.4 L1126.4,367.1 L1127.1,364.3 L1127.8,361.1 L1128.5,357.6 L1129.2,353.9 L1130.0,350.0 L1130.7,346.3 L1131.4,342.8 L1132.1,339.6 L1132.8,336.8 L1133.5,334.5 L1134.2,332.7 L1134.9,333.5 L1135.6,334.4 L1136.3,335.5 L1137.0,336.7 L1137.7,338.0 L1138.4,339.4 L1139.1,341.0 L1139.8,342.6 L1140.5,344.3 L1141.2,346.1 L1141.9,347.9 L1142.6,349.7 L1143.3,351.6 L1144.1,353.5 L1144.8,355.3 L1145.5,357.1 L1146.2,358.9 L1146.9,360.6 L1147.6,362.2 L1148.3,363.8 L1149.0,365.2 L1149.7,366.5 L1150.4,367.7 L1151.1,368.8 L1151.8,369.7 L1152.5,370.5 L1153.3,369.2 L1154.0,367.4 L1154.8,365.2 L1155.5,362.7 L1156.3,360.0 L1157.0,357.2 L1157.8,354.4 L1158.6,351.7 L1159.3,349.2 L1160.1,347.0 L1160.8,345.2 L1161.6,343.9 L1162.3,345.0 L1163.0,346.4 L1163.7,347.9 L1164.5,349.7 L1165.2,351.6 L1165.9,353.8 L1166.6,356.0 L1167.3,358.4 L1168.0,360.9 L1168.7,363.5 L1169.4,366.0 L1170.2,368.6 L1170.9,371.2 L1171.6,373.7 L1172.3,376.1 L1173.0,378.3 L1173.7,380.5 L1174.4,382.4 L1175.2,384.2 L1175.9,385.7 L1176.6,387.1 L1177.3,388.2 L1178.0,386.0 L1178.7,382.9 L1179.5,379.2 L1180.2,375.0 L1180.9,370.4 L1181.6,365.6 L1182.3,361.0 L1183.0,356.8 L1183.8,353.1 L1184.5,350.0 L1185.2,347.8 L1185.9,348.6 L1186.6,349.6 L1187.3,350.7 L1188.0,351.9 L1188.7,353.3 L1189.5,354.8 L1190.2,356.4 L1190.9,358.1 L1191.6,359.8 L1192.3,361.7 L1193.0,363.5 L1193.7,365.4 L1194.4,367.3 L1195.1,369.1 L1195.8,371.0 L1196.5,372.7 L1197.2,374.4 L1198.0,376.0 L1198.7,377.5 L1199.4,378.9 L1200.1,380.1 L1200.8,381.2 L1201.5,382.2 L1202.2,383.0 L1202.9,382.4 L1203.7,381.6 L1204.4,380.7 L1205.2,379.6 L1205.9,378.4 L1206.7,377.2 L1207.4,375.9 L1208.1,374.5 L1208.9,373.3 L1209.6,372.1 L1210.4,371.0 L1211.1,370.1 L1211.9,369.3 L1212.6,368.7 L1213.3,369.3 L1214.1,370.1 L1214.8,371.0 L1215.5,372.1 L1216.2,373.3 L1217.0,374.6 L1217.7,375.9 L1218.4,377.3 L1219.2,378.8 L1219.9,380.2 L1220.6,381.6 L1221.3,382.9 L1222.1,384.2 L1222.8,385.4 L1223.5,386.5 L1224.2,387.4 L1225.0,388.2 L1225.7,388.8 L1226.4,388.6 L1227.1,388.2 L1227.8,387.9 L1228.5,387.4 L1229.2,386.9 L1229.9,386.4 L1230.6,385.9 L1231.3,385.3 L1232.0,384.8 L1232.7,384.3 L1233.4,383.8 L1234.1,383.3 L1234.8,383.0 L1235.5,382.6 L1236.2,382.4 L1236.9,382.7 L1237.7,383.1 L1238.4,383.6 L1239.1,384.1 L1239.8,384.7 L1240.6,385.3 L1241.3,385.9 L1242.0,386.6 L1242.7,387.3 L1243.5,388.1 L1244.2,388.9 L1244.9,389.6 L1245.6,390.4 L1246.4,391.3 L1247.1,392.1 L1247.8,392.8 L1248.5,393.6 L1249.3,394.4 L1250.0,395.1 L1250.7,395.8 L1251.4,396.4 L1252.2,397.0 L1252.9,397.6 L1253.6,398.1 L1254.3,398.6 L1255.1,399.0 L1255.8,399.3 L1256.5,399.2 L1257.2,399.0 L1257.9,398.7 L1258.6,398.5 L1259.3,398.2 L1260.0,397.9 L1260.8,397.6 L1261.5,397.3 L1262.2,397.0 L1262.9,396.8 L1263.6,396.5 L1264.3,396.3 L1265.0,396.2 L1265.7,396.5 L1266.5,396.8 L1267.2,397.1 L1267.9,397.6 L1268.6,398.0 L1269.4,398.5 L1270.1,399.1 L1270.8,399.6 L1271.6,400.2 L1272.3,400.8 L1273.0,401.4 L1273.7,402.0 L1274.5,402.6 L1275.2,403.1 L1275.9,403.7 L1276.7,404.2 L1277.4,404.6 L1278.1,405.1 L1278.8,405.4 L1279.6,405.7 L1280.3,406.0 M1280.3,406.0 L1282.3,408.4 L1284.3,410.2 L1286.3,411.7 L1288.4,412.8 L1290.4,413.6 L1292.4,414.2 L1294.4,414.7 L1296.4,415.2 L1298.4,415.7 L1300.5,416.4 L1302.5,417.2 L1304.5,418.4 L1306.5,419.8 L1308.5,421.6 L1310.5,423.4 L1312.6,424.8 L1314.6,425.4 L1316.6,424.8 L1318.6,423.0 L1320.6,420.8 L1322.6,419.6 L1324.6,420.5 L1326.7,423.3 L1328.7,427.4 L1330.7,431.9 L1332.7,436.0 L1334.7,439.0 L1336.7,440.2 L1338.8,439.9 L1340.8,438.5 L1342.8,436.6 L1344.8,434.6 L1346.8,433.1 L1348.8,432.6 L1350.8,433.3 L1352.9,435.0 L1354.9,437.4 L1356.9,440.5 L1358.9,443.9 L1360.9,447.4 L1362.9,450.4 L1365.0,452.3 L1367.0,452.7 L1369.0,452.1 L1371.0,451.2 L1373.0,450.7 L1375.0,451.5 L1377.1,453.6 L1379.1,456.5 L1381.1,459.9 L1383.1,463.0 L1385.1,465.4 L1387.1,466.7 L1389.1,466.4 L1391.2,464.9 L1393.2,463.0 L1395.2,461.2 L1397.2,460.2 L1399.2,460.6 L1401.2,462.4 L1403.3,465.1 L1405.3,468.5 L1407.3,472.2 L1409.3,475.9 L1411.3,479.3 L1413.3,482.1 L1415.4,484.0 L1417.4,485.0 L1419.4,485.0 L1421.4,484.3 L1423.4,483.1 L1425.4,482.0 L1427.4,481.2 L1429.5,481.0 L1431.5,481.5 L1433.5,482.5 L1435.5,484.0 L1437.5,485.7 L1439.5,487.7 L1441.6,489.7 L1443.6,491.7 L1445.6,493.5 L1447.6,495.2 L1449.6,496.9 L1451.6,498.7 L1453.6,500.4 L1455.7,502.4 L1457.7,504.4 L1459.7,506.6 L1461.7,508.8 L1463.7,510.6 L1465.7,512.0 L1467.8,512.7 L1469.8,512.7 L1471.8,512.3 L1473.8,511.7 L1475.8,511.2 L1477.8,511.1 L1479.9,511.5 L1481.9,512.6 L1483.9,514.2 L1485.9,516.2 L1487.9,518.6 L1489.9,521.1 L1491.9,523.8 L1494.0,526.4 L1496.0,528.9 L1498.0,531.2 L1500.0,533.1 L1502.0,534.5 L1504.0,535.5 L1506.1,535.9 L1508.1,536.1 L1510.1,536.1 L1512.1,536.2 L1514.1,536.4 L1516.1,536.9 L1518.2,537.7 L1520.2,538.8 L1522.2,540.1 L1524.2,541.6 L1526.2,543.1 L1528.2,544.8 L1530.2,546.4 L1532.3,548.1 L1534.3,549.9 L1536.3,551.7 L1538.3,553.5 L1540.3,555.4 L1542.3,557.4 L1544.4,559.5 L1546.4,561.5 L1548.4,563.4 L1550.4,564.9 L1552.4,565.9 L1554.4,566.2 L1556.4,565.9 L1558.5,565.3 L1560.5,564.8 L1562.5,564.6 L1564.5,565.1 L1566.5,566.4 L1568.5,568.4 L1570.6,570.8 L1572.6,573.2 L1574.6,575.6 L1576.6,577.7 L1578.6,579.6 L1580.6,581.3 L1582.7,582.9 L1584.7,584.3 L1586.7,585.6 L1588.7,586.8 L1590.7,587.9 L1592.7,588.9 L1594.7,589.9 L1596.8,590.7 L1598.8,591.5 L1600.8,592.2 L1602.8,592.9 L1604.8,593.5 L1606.8,594.2 L1608.9,595.0 L1610.9,595.9 L1612.9,597.0 L1614.9,598.3 L1616.9,599.8 L1618.9,601.5 L1620.9,603.4 L1623.0,605.4 L1625.0,607.6 L1627.0,609.9 L1629.0,612.1 L1631.0,614.2 L1633.0,615.9 L1635.1,617.4 L1637.1,618.3 L1639.1,619.0 L1641.1,619.4 L1643.1,619.8 L1645.1,620.2 L1647.2,620.8 L1649.2,621.6 L1651.2,622.9 L1653.2,624.4 L1655.2,626.2 L1657.2,628.2 L1659.2,630.3 L1661.3,632.4 L1663.3,634.5 L1665.3,636.6 L1667.3,638.6 L1669.3,640.5 L1671.3,642.3 L1673.4,643.9 L1675.4,645.4 L1677.4,646.7 L1679.4,647.8 L1681.4,648.8 L1683.4,649.6 L1685.5,650.2 L1687.5,650.7 L1689.5,651.0 L1691.5,651.3 L1693.5,651.6 L1695.5,651.9 L1697.5,652.4 L1699.6,653.0 L1701.6,653.8 L1703.6,654.9 L1705.6,656.1 L1707.6,657.7 L1709.6,659.5 L1711.7,661.7 L1713.7,664.0 L1715.7,666.4 L1717.7,668.7 L1719.7,670.7 L1721.7,672.4 L1723.7,673.6 L1725.8,674.5 L1727.8,675.1 L1729.8,675.5 L1731.8,675.9 L1733.8,676.3 L1735.8,676.8 L1737.9,677.5 L1739.9,678.4 L1741.9,679.4 L1743.9,680.5 L1745.9,681.9 L1747.9,683.4 L1750.0,685.0 L1752.0,686.9 L1754.0,688.8 L1756.0,691.0"/>
</g>
<rect x="344.6" y="159.5" width="423.8" height="588.1" fill="#fff" stroke="#000" stroke-width="6.8" stroke-linejoin="round"/>
<line x1="344.6" y1="739.9" x2="768.4" y2="739.9" stroke="#000" stroke-width="3"/>
<line x1="354.5" y1="203.0" x2="493.2" y2="203.0" stroke="#000000" stroke-width="10.4" stroke-linecap="round"/>
<text class="b" font-size="63.5px" lengthAdjust="spacingAndGlyphs"><tspan x="510.2" y="223.5" textLength="85.4">u/u</tspan><tspan x="595.2" y="244.8" font-size="37.5px" textLength="21.0">0</tspan><tspan x="627.0" y="223.5" textLength="41.1">=</tspan><tspan x="680.0" y="223.5" textLength="79.9">1.0</tspan></text>
<line x1="354.5" y1="298.7" x2="493.2" y2="298.7" stroke="#ff0000" stroke-width="10.4" stroke-linecap="round"/>
<text class="b" font-size="63.5px" lengthAdjust="spacingAndGlyphs"><tspan x="510.2" y="319.2" textLength="85.4">u/u</tspan><tspan x="595.2" y="340.5" font-size="37.5px" textLength="21.0">0</tspan><tspan x="627.0" y="319.2" textLength="41.1">=</tspan><tspan x="680.0" y="319.2" textLength="79.9">1.5</tspan></text>
<line x1="354.5" y1="394.4" x2="493.2" y2="394.4" stroke="#0000ff" stroke-width="10.4" stroke-linecap="round"/>
<text class="b" font-size="63.5px" lengthAdjust="spacingAndGlyphs"><tspan x="510.2" y="414.9" textLength="85.4">u/u</tspan><tspan x="595.2" y="436.2" font-size="37.5px" textLength="21.0">0</tspan><tspan x="627.0" y="414.9" textLength="41.1">=</tspan><tspan x="680.0" y="414.9" textLength="79.9">2.0</tspan></text>
<line x1="354.5" y1="490.2" x2="493.2" y2="490.2" stroke="#ff00ff" stroke-width="10.4" stroke-linecap="round"/>
<text class="b" font-size="63.5px" lengthAdjust="spacingAndGlyphs"><tspan x="510.2" y="510.7" textLength="85.4">u/u</tspan><tspan x="595.2" y="532.0" font-size="37.5px" textLength="21.0">0</tspan><tspan x="627.0" y="510.7" textLength="41.1">=</tspan><tspan x="680.0" y="510.7" textLength="79.9">2.5</tspan></text>
<line x1="354.5" y1="585.9" x2="493.2" y2="585.9" stroke="#008000" stroke-width="10.4" stroke-linecap="round"/>
<text class="b" font-size="63.5px" lengthAdjust="spacingAndGlyphs"><tspan x="510.2" y="606.4" textLength="85.4">u/u</tspan><tspan x="595.2" y="627.7" font-size="37.5px" textLength="21.0">0</tspan><tspan x="627.0" y="606.4" textLength="41.1">=</tspan><tspan x="680.0" y="606.4" textLength="79.9">3.0</tspan></text>
<line x1="354.5" y1="681.6" x2="493.2" y2="681.6" stroke="#ff8000" stroke-width="10.4" stroke-linecap="round"/>
<text class="b" font-size="63.5px" lengthAdjust="spacingAndGlyphs"><tspan x="510.2" y="702.1" textLength="85.4">u/u</tspan><tspan x="595.2" y="723.4" font-size="37.5px" textLength="21.0">0</tspan><tspan x="627.0" y="702.1" textLength="41.1">=</tspan><tspan x="680.0" y="702.1" textLength="79.9">4.0</tspan></text>
<text class="tk" text-anchor="end" x="236.5" y="1170.7">2</text>
<text class="tk" text-anchor="end" x="236.5" y="904.3">4</text>
<text class="tk" text-anchor="end" x="236.5" y="637.8">6</text>
<text class="tk" text-anchor="end" x="236.5" y="371.4">8</text>
<text class="tk" text-anchor="end" x="236.5" y="105.0">10</text>
<text class="tk" text-anchor="middle" x="262.1" y="1359.2">-20</text>
<text class="tk" text-anchor="middle" x="634.8" y="1359.2">-10</text>
<text class="tk" text-anchor="middle" x="1006.9" y="1359.2">0</text>
<text class="tk" text-anchor="middle" x="1379.6" y="1359.2">10</text>
<text class="tk" text-anchor="middle" x="1752.3" y="1359.2">20</text>
<text class="b" font-size="66.5px" x="715.3" y="1470.4" textLength="187.2" lengthAdjust="spacingAndGlyphs">Crank</text>
<text class="b" font-size="66.5px" x="920.3" y="1470.4" textLength="169.5" lengthAdjust="spacingAndGlyphs">Angle</text>
<text class="b" font-size="66.5px" x="1107.0" y="1470.4" textLength="191.6" lengthAdjust="spacingAndGlyphs">(CAD)</text>
<g transform="translate(97.8,0) rotate(-90)">
<text class="b" font-size="66.5px" x="-908.5" y="0" textLength="248.7" lengthAdjust="spacingAndGlyphs">Pressure</text>
<text class="b" font-size="66.5px" x="-642.2" y="0" textLength="182.7" lengthAdjust="spacingAndGlyphs">(MPa)</text>
</g>
<text font-size="88px" font-weight="normal" x="529.5" y="1579.7" textLength="26.5" lengthAdjust="spacingAndGlyphs">(</text>
<text font-size="88px" font-weight="bold" x="556.6" y="1579.7" textLength="40.5" lengthAdjust="spacingAndGlyphs">a</text>
<text font-size="88px" font-weight="normal" x="597.0" y="1579.7" textLength="26.1" lengthAdjust="spacingAndGlyphs">)</text>
<text font-size="88px" font-weight="normal" x="645.3" y="1579.7" textLength="325.8" lengthAdjust="spacingAndGlyphs">Cylinder</text>
<text font-size="88px" font-weight="normal" x="992.1" y="1579.7" textLength="318.5" lengthAdjust="spacingAndGlyphs">pressure</text>
</svg></body></html>
